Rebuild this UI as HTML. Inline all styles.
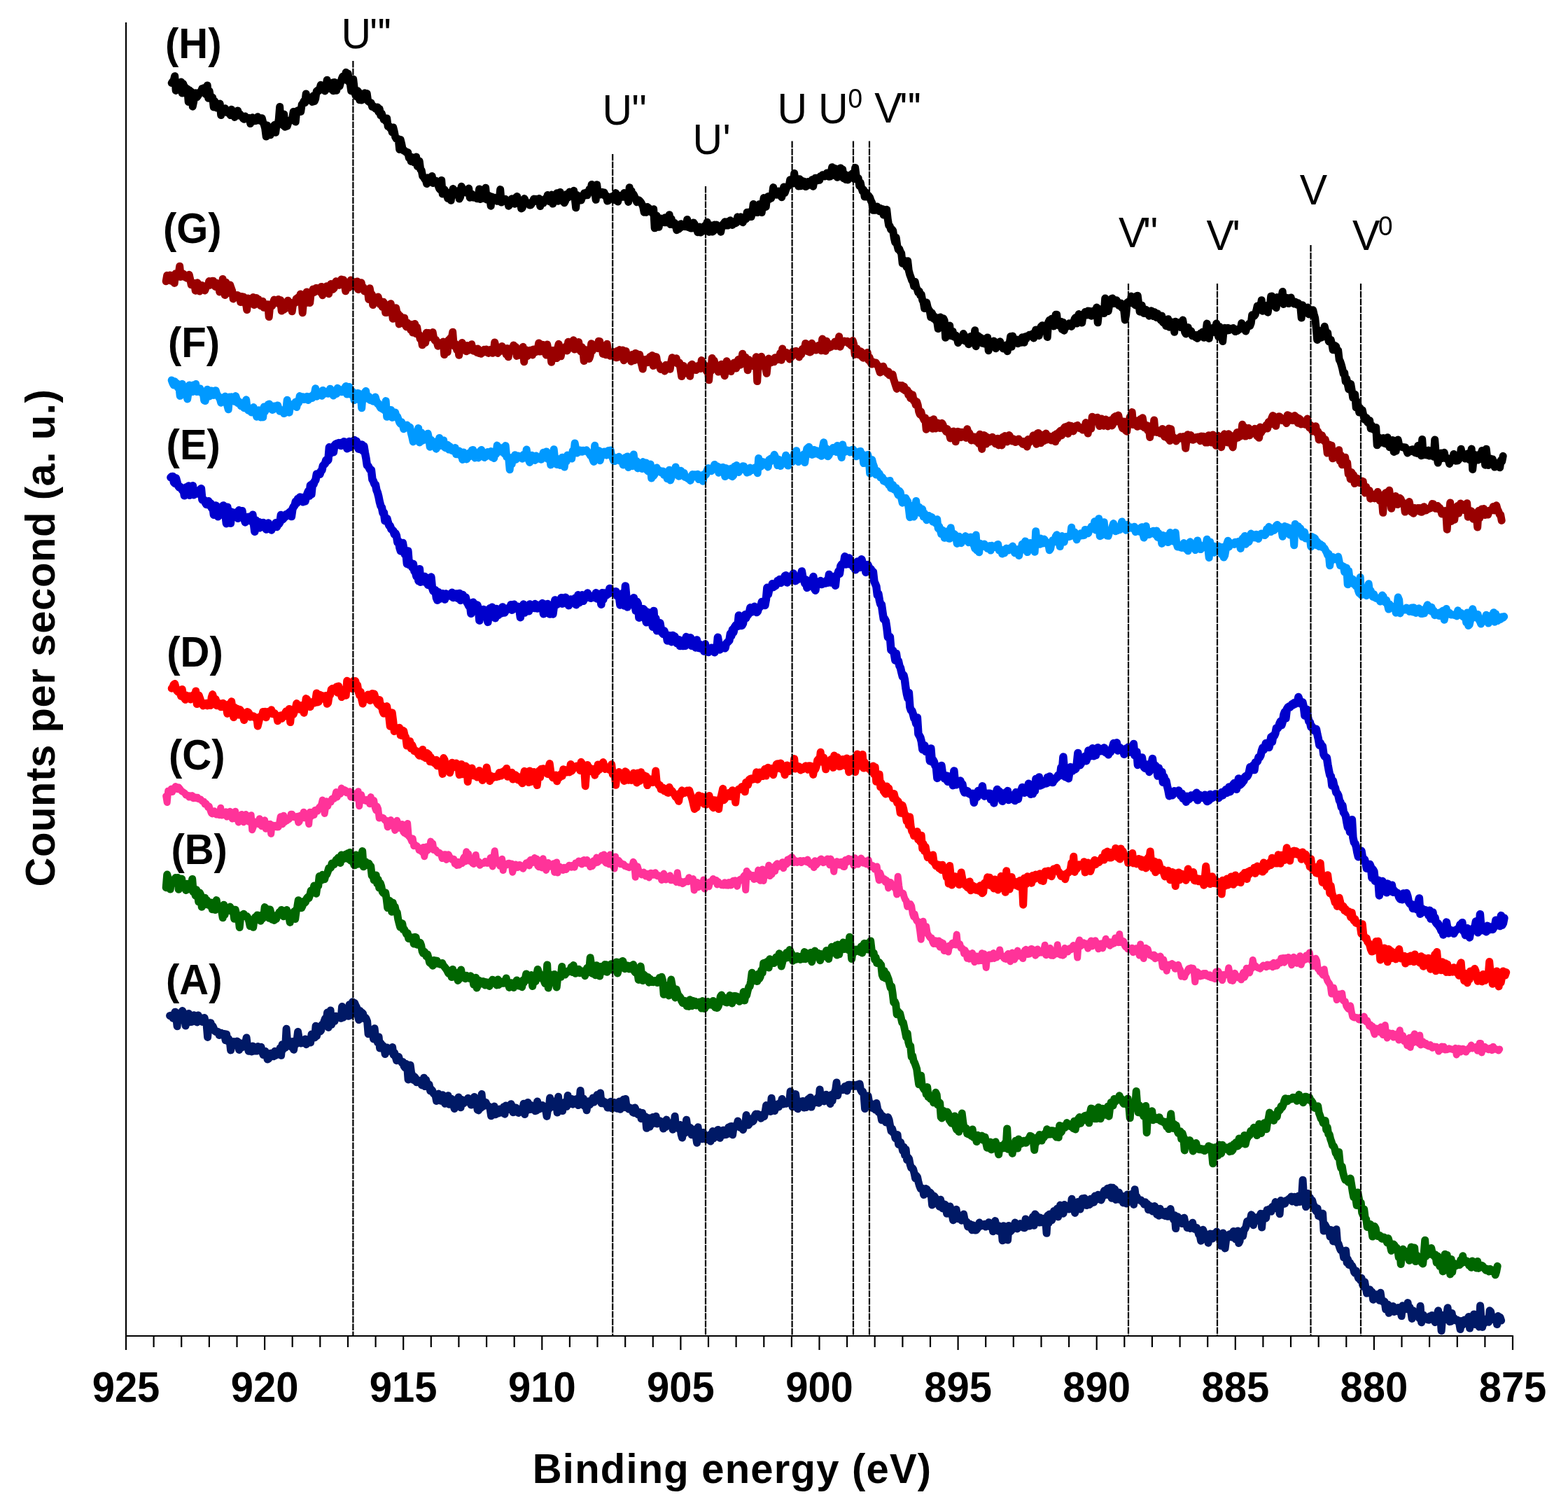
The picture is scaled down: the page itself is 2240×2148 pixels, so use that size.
<!DOCTYPE html>
<html><head><meta charset="utf-8"><style>
html,body{margin:0;padding:0;background:#fff;}
svg{display:block;}
text{font-family:"Liberation Sans",Arial,sans-serif;fill:#000;}
.b{font-weight:bold;}
.tk{font-size:58px;text-anchor:middle;}
.ttl{font-size:58px;}
.lb{font-size:58.0px;}
.r{font-size:59.0px;}
</style></head><body>
<svg width="2240" height="2148" viewBox="0 0 2240 2148">
<rect width="2240" height="2148" fill="#fff"/>
<path d="M245.2 118.5 246.7 116.3 248.2 114.6 249.7 108.7 251.2 129.4 252.7 120.2 254.2 123.1 255.7 126.6 257.2 122.1 258.7 117.0 260.2 133.1 261.7 119.6 263.2 123.9 264.7 124.8 266.2 126.4 267.7 127.1 269.2 145.6 270.7 129.1 272.2 133.0 273.7 131.3 275.2 152.2 276.7 145.1 278.2 133.3 279.7 132.8 281.2 138.9 282.7 136.9 284.2 134.6 285.7 131.4 287.2 130.7 288.7 126.5 290.2 132.6 291.7 125.4 293.2 130.6 294.7 135.2 296.2 121.9 297.7 140.2 299.2 130.3 300.7 139.1 302.2 140.9 303.7 139.3 305.2 153.0 306.7 144.4 308.2 147.6 309.7 154.1 311.2 152.2 312.7 151.5 314.2 148.0 315.7 164.5 317.2 157.6 318.7 158.6 320.2 159.5 321.7 154.8 323.2 160.2 324.7 160.7 326.2 161.5 327.7 158.0 329.2 164.6 330.7 156.3 332.2 162.6 333.7 159.0 335.2 167.4 336.7 164.9 338.2 164.6 339.7 158.0 341.2 165.0 342.7 163.0 344.2 164.7 345.7 166.1 347.2 169.1 348.7 170.3 350.2 165.9 351.7 168.9 353.2 168.0 354.7 170.4 356.2 168.4 357.7 176.6 359.2 172.8 360.7 167.8 362.2 171.5 363.7 172.8 365.2 172.6 366.7 168.5 368.2 166.8 369.7 170.2 371.2 172.3 372.7 171.1 374.2 168.7 375.7 174.7 377.2 177.9 378.7 183.4 380.2 195.1 381.7 179.0 383.2 184.8 384.7 183.7 386.2 192.8 387.7 181.9 389.2 186.1 390.7 180.9 392.2 178.4 393.7 189.3 395.2 177.6 396.7 177.5 398.2 170.9 399.7 152.5 401.2 176.3 402.7 175.0 404.2 178.9 405.7 163.3 407.2 181.3 408.7 178.7 410.2 180.3 411.7 175.5 413.2 172.4 414.7 171.6 416.2 171.6 417.7 168.4 419.2 159.4 420.7 168.5 422.2 174.1 423.7 159.6 425.2 158.1 426.7 157.4 428.2 156.9 429.7 159.5 431.2 149.2 432.7 147.6 434.2 144.4 435.7 146.7 437.2 133.9 438.7 142.8 440.2 142.9 441.7 142.8 443.2 143.5 444.7 139.1 446.2 145.5 447.7 136.8 449.2 144.7 450.7 140.9 452.2 130.5 453.7 129.2 455.2 129.9 456.7 127.0 458.2 121.3 459.7 124.3 461.2 122.2 462.7 124.6 464.2 130.0 465.7 123.4 467.2 114.2 468.7 125.1 470.2 126.5 471.7 126.7 473.2 120.1 474.7 118.1 476.2 129.8 477.7 117.4 479.2 118.2 480.7 129.3 482.2 121.7 483.7 122.6 485.2 123.1 486.7 117.4 488.2 112.5 489.7 109.0 491.2 113.7 492.7 110.8 494.2 103.3 495.7 115.0 497.2 105.1 498.7 117.4 500.2 118.9 501.7 130.0 503.2 119.0 504.7 113.0 506.2 126.2 507.7 135.3 509.2 137.8 510.7 129.6 512.2 131.2 513.7 142.8 515.2 138.2 516.7 143.1 518.2 139.7 519.7 136.9 521.2 132.8 522.7 138.7 524.2 133.5 525.7 144.5 527.2 145.5 528.7 146.5 530.2 146.9 531.7 152.5 533.2 151.5 534.7 152.8 536.2 155.2 537.7 156.0 539.2 153.0 540.7 159.8 542.2 155.5 543.7 164.7 545.2 161.8 546.7 166.3 548.2 170.6 549.7 170.7 551.2 173.2 552.7 169.0 554.2 180.6 555.7 179.7 557.2 183.1 558.7 181.8 560.2 188.9 561.7 181.9 563.2 187.9 564.7 195.6 566.2 198.1 567.7 198.9 569.2 198.5 570.7 213.5 572.2 199.5 573.7 205.6 575.2 213.4 576.7 215.2 578.2 215.3 579.7 217.1 581.2 218.1 582.7 217.6 584.2 225.3 585.7 225.2 587.2 230.4 588.7 224.5 590.2 229.0 591.7 232.0 593.2 232.1 594.7 224.1 596.2 237.5 597.7 233.5 599.2 230.1 600.7 242.0 602.2 243.5 603.7 251.5 605.2 252.9 606.7 255.7 608.2 256.8 609.7 262.6 611.2 253.8 612.7 259.1 614.2 255.6 615.7 256.0 617.2 251.5 618.7 261.6 620.2 260.0 621.7 260.0 623.2 258.5 624.7 259.7 626.2 265.8 627.7 269.6 629.2 271.2 630.7 257.4 632.2 277.0 633.7 272.8 635.2 270.8 636.7 277.1 638.2 278.6 639.7 283.4 641.2 276.1 642.7 277.2 644.2 286.2 645.7 274.6 647.2 269.5 648.7 276.6 650.2 278.0 651.7 274.9 653.2 274.6 654.7 272.4 656.2 284.1 657.7 281.0 659.2 266.2 660.7 269.8 662.2 273.6 663.7 274.5 665.2 274.9 666.7 272.9 668.2 271.6 669.7 269.0 671.2 282.2 672.7 279.0 674.2 277.3 675.7 282.1 677.2 282.2 678.7 278.9 680.2 282.3 681.7 283.8 683.2 279.9 684.7 269.9 686.2 284.6 687.7 281.1 689.2 280.5 690.7 280.1 692.2 283.7 693.7 268.3 695.2 285.0 696.7 280.7 698.2 279.2 699.7 283.4 701.2 294.2 702.7 281.0 704.2 284.1 705.7 282.0 707.2 284.2 708.7 284.0 710.2 287.3 711.7 282.2 713.2 285.2 714.7 270.6 716.2 289.0 717.7 285.0 719.2 286.5 720.7 285.4 722.2 284.4 723.7 285.8 725.2 288.5 726.7 294.3 728.2 290.1 729.7 287.5 731.2 283.8 732.7 289.9 734.2 290.7 735.7 291.2 737.2 281.7 738.7 280.5 740.2 286.4 741.7 291.0 743.2 288.1 744.7 297.9 746.2 296.9 747.7 291.2 749.2 283.6 750.7 287.5 752.2 290.0 753.7 290.6 755.2 289.8 756.7 293.0 758.2 293.0 759.7 290.7 761.2 287.4 762.7 284.1 764.2 287.3 765.7 284.3 767.2 287.6 768.7 285.4 770.2 283.5 771.7 294.5 773.2 287.6 774.7 289.7 776.2 289.9 777.7 285.1 779.2 283.6 780.7 285.7 782.2 278.5 783.7 281.7 785.2 287.7 786.7 287.6 788.2 278.1 789.7 291.1 791.2 282.1 792.7 284.4 794.2 280.1 795.7 275.7 797.2 287.3 798.7 284.3 800.2 274.5 801.7 284.9 803.2 284.1 804.7 287.8 806.2 289.8 807.7 286.9 809.2 277.5 810.7 278.2 812.2 281.8 813.7 274.1 815.2 279.8 816.7 277.8 818.2 277.7 819.7 272.2 821.2 283.1 822.7 296.8 824.2 278.5 825.7 285.2 827.2 285.9 828.7 284.1 830.2 286.1 831.7 281.3 833.2 278.6 834.7 275.7 836.2 278.9 837.7 274.8 839.2 278.8 840.7 274.3 842.2 269.8 843.7 272.0 845.2 263.5 846.7 264.6 848.2 271.5 849.7 273.2 851.2 285.3 852.7 263.7 854.2 275.1 855.7 275.4 857.2 278.1 858.7 275.0 860.2 274.4 861.7 276.6 863.2 275.0 864.7 280.2 866.2 279.4 867.7 287.1 869.2 286.6 870.7 284.3 872.2 284.1 873.7 280.8 875.2 280.6 876.7 279.9 878.2 285.7 879.7 275.6 881.2 279.1 882.7 288.1 884.2 281.6 885.7 281.6 887.2 279.1 888.7 280.8 890.2 281.3 891.7 275.5 893.2 278.8 894.7 279.9 896.2 281.1 897.7 288.4 899.2 267.7 900.7 279.4 902.2 272.9 903.7 282.2 905.2 277.6 906.7 281.0 908.2 284.6 909.7 288.7 911.2 286.5 912.7 285.8 914.2 287.2 915.7 289.1 917.2 292.0 918.7 295.4 920.2 303.2 921.7 298.8 923.2 303.2 924.7 295.5 926.2 296.5 927.7 298.9 929.2 299.6 930.7 302.6 932.2 304.6 933.7 298.7 935.2 325.8 936.7 311.7 938.2 307.9 939.7 313.7 941.2 324.3 942.7 314.0 944.2 312.0 945.7 316.5 947.2 315.4 948.7 317.7 950.2 310.7 951.7 317.7 953.2 310.9 954.7 316.5 956.2 306.7 957.7 320.4 959.2 312.6 960.7 320.7 962.2 319.5 963.7 318.3 965.2 321.6 966.7 328.7 968.2 321.3 969.7 327.1 971.2 325.6 972.7 319.7 974.2 324.0 975.7 323.0 977.2 320.3 978.7 323.7 980.2 322.7 981.7 313.4 983.2 324.6 984.7 319.6 986.2 325.8 987.7 326.1 989.2 320.1 990.7 317.9 992.2 320.0 993.7 326.9 995.2 324.0 996.7 331.8 998.2 326.3 999.7 324.0 1001.2 332.1 1002.7 327.8 1004.2 329.6 1005.7 329.6 1007.2 322.1 1008.7 328.4 1010.2 317.3 1011.7 326.4 1013.2 331.3 1014.7 321.8 1016.2 326.4 1017.7 331.1 1019.2 330.0 1020.7 320.9 1022.2 326.7 1023.7 321.1 1025.2 324.3 1026.7 325.3 1028.2 328.5 1029.7 331.2 1031.2 322.5 1032.7 320.5 1034.2 318.8 1035.7 316.7 1037.2 322.1 1038.7 316.7 1040.2 321.9 1041.7 320.8 1043.2 314.7 1044.7 320.4 1046.2 321.4 1047.7 316.6 1049.2 318.0 1050.7 318.9 1052.2 318.0 1053.7 309.8 1055.2 311.0 1056.7 315.2 1058.2 309.7 1059.7 314.4 1061.2 317.7 1062.7 314.4 1064.2 311.3 1065.7 312.8 1067.2 303.2 1068.7 308.7 1070.2 309.6 1071.7 302.4 1073.2 309.6 1074.7 303.9 1076.2 291.5 1077.7 303.6 1079.2 297.3 1080.7 299.5 1082.2 303.5 1083.7 296.4 1085.2 291.4 1086.7 293.4 1088.2 303.6 1089.7 290.9 1091.2 282.6 1092.7 294.2 1094.2 295.5 1095.7 283.2 1097.2 280.6 1098.7 284.7 1100.2 283.3 1101.7 283.2 1103.2 278.5 1104.7 267.6 1106.2 274.7 1107.7 277.1 1109.2 278.3 1110.7 277.6 1112.2 273.0 1113.7 276.2 1115.2 279.8 1116.7 281.8 1118.2 274.8 1119.7 267.0 1121.2 275.5 1122.7 271.1 1124.2 267.1 1125.7 265.8 1127.2 265.1 1128.7 256.7 1130.2 258.5 1131.7 255.8 1133.2 261.9 1134.7 247.5 1136.2 259.3 1137.7 257.4 1139.2 255.6 1140.7 266.0 1142.2 255.7 1143.7 265.8 1145.2 258.1 1146.7 259.5 1148.2 259.0 1149.7 265.8 1151.2 266.6 1152.7 262.3 1154.2 259.6 1155.7 264.0 1157.2 264.2 1158.7 259.8 1160.2 256.6 1161.7 266.2 1163.2 257.3 1164.7 254.3 1166.2 254.2 1167.7 257.8 1169.2 256.4 1170.7 257.3 1172.2 251.7 1173.7 251.8 1175.2 249.7 1176.7 250.7 1178.2 251.8 1179.7 250.8 1181.2 247.0 1182.7 249.3 1184.2 252.3 1185.7 252.1 1187.2 246.0 1188.7 238.7 1190.2 245.0 1191.7 250.4 1193.2 240.6 1194.7 241.8 1196.2 253.3 1197.7 248.2 1199.2 248.8 1200.7 240.0 1202.2 246.0 1203.7 241.9 1205.2 254.8 1206.7 248.8 1208.2 256.5 1209.7 253.1 1211.2 256.9 1212.7 250.5 1214.2 251.3 1215.7 252.2 1217.2 248.1 1218.7 247.2 1220.2 255.6 1221.7 239.6 1223.2 251.2 1224.7 255.9 1226.2 254.5 1227.7 265.5 1229.2 260.8 1230.7 268.3 1232.2 273.2 1233.7 270.8 1235.2 281.1 1236.7 274.5 1238.2 280.9 1239.7 278.7 1241.2 280.0 1242.7 282.2 1244.2 286.6 1245.7 289.5 1247.2 300.3 1248.7 294.2 1250.2 300.2 1251.7 299.8 1253.2 295.1 1254.7 299.0 1256.2 301.7 1257.7 297.4 1259.2 301.6 1260.7 298.5 1262.2 307.0 1263.7 304.3 1265.2 303.9 1266.7 299.2 1268.2 312.6 1269.7 321.8 1271.2 322.8 1272.7 327.8 1274.2 327.5 1275.7 329.4 1277.2 339.5 1278.7 346.0 1280.2 339.4 1281.7 350.2 1283.2 356.3 1284.7 355.4 1286.2 359.5 1287.7 361.8 1289.2 376.2 1290.7 371.1 1292.2 374.6 1293.7 378.0 1295.2 381.5 1296.7 372.7 1298.2 386.2 1299.7 392.0 1301.2 396.0 1302.7 400.4 1304.2 402.6 1305.7 408.9 1307.2 402.4 1308.7 409.5 1310.2 413.1 1311.7 417.7 1313.2 415.9 1314.7 421.9 1316.2 420.5 1317.7 428.6 1319.2 431.6 1320.7 440.5 1322.2 436.6 1323.7 432.0 1325.2 438.8 1326.7 442.2 1328.2 444.1 1329.7 453.1 1331.2 446.8 1332.7 450.1 1334.2 455.4 1335.7 452.5 1337.2 458.1 1338.7 459.7 1340.2 469.6 1341.7 458.7 1343.2 452.9 1344.7 455.0 1346.2 460.3 1347.7 454.7 1349.2 457.8 1350.7 482.3 1352.2 465.4 1353.7 465.7 1355.2 469.6 1356.7 464.9 1358.2 479.5 1359.7 473.6 1361.2 473.6 1362.7 481.1 1364.2 481.6 1365.7 479.0 1367.2 483.3 1368.7 489.7 1370.2 486.1 1371.7 484.7 1373.2 486.1 1374.7 483.9 1376.2 476.5 1377.7 479.4 1379.2 487.2 1380.7 484.3 1382.2 487.2 1383.7 491.7 1385.2 487.5 1386.7 480.4 1388.2 489.7 1389.7 486.4 1391.2 486.6 1392.7 471.8 1394.2 494.7 1395.7 485.5 1397.2 479.6 1398.7 483.6 1400.2 481.8 1401.7 483.2 1403.2 490.2 1404.7 483.9 1406.2 490.9 1407.7 485.1 1409.2 485.7 1410.7 481.9 1412.2 500.7 1413.7 491.8 1415.2 493.2 1416.7 491.1 1418.2 489.0 1419.7 487.0 1421.2 488.1 1422.7 497.7 1424.2 493.3 1425.7 489.5 1427.2 492.9 1428.7 487.7 1430.2 494.9 1431.7 492.7 1433.2 498.0 1434.7 493.7 1436.2 497.1 1437.7 492.8 1439.2 501.7 1440.7 492.3 1442.2 489.7 1443.7 480.5 1445.2 495.2 1446.7 480.0 1448.2 485.9 1449.7 488.5 1451.2 487.0 1452.7 484.9 1454.2 490.7 1455.7 489.2 1457.2 489.4 1458.7 489.3 1460.2 481.8 1461.7 483.8 1463.2 489.2 1464.7 480.7 1466.2 483.8 1467.7 479.8 1469.2 480.6 1470.7 478.2 1472.2 480.0 1473.7 480.0 1475.2 476.5 1476.7 482.9 1478.2 475.3 1479.7 470.9 1481.2 473.4 1482.7 470.7 1484.2 479.5 1485.7 472.1 1487.2 466.5 1488.7 464.8 1490.2 465.0 1491.7 466.8 1493.2 467.9 1494.7 470.0 1496.2 481.5 1497.7 460.1 1499.2 457.1 1500.7 465.7 1502.2 455.3 1503.7 457.4 1505.2 465.9 1506.7 459.7 1508.2 449.2 1509.7 449.3 1511.2 464.2 1512.7 461.6 1514.2 465.8 1515.7 459.4 1517.2 470.5 1518.7 460.4 1520.2 472.2 1521.7 466.6 1523.2 466.7 1524.7 466.2 1526.2 464.3 1527.7 461.9 1529.2 462.2 1530.7 466.4 1532.2 461.4 1533.7 459.6 1535.2 455.4 1536.7 453.4 1538.2 462.1 1539.7 453.7 1541.2 448.5 1542.7 453.1 1544.2 460.7 1545.7 461.1 1547.2 450.4 1548.7 448.9 1550.2 445.5 1551.7 448.2 1553.2 450.0 1554.7 444.1 1556.2 444.3 1557.7 448.6 1559.2 451.2 1560.7 447.2 1562.2 444.0 1563.7 450.3 1565.2 444.2 1566.7 439.1 1568.2 460.8 1569.7 447.0 1571.2 441.6 1572.7 443.4 1574.2 441.4 1575.7 441.1 1577.2 447.6 1578.7 426.1 1580.2 430.8 1581.7 440.1 1583.2 444.6 1584.7 436.0 1586.2 428.8 1587.7 426.8 1589.2 425.9 1590.7 433.6 1592.2 433.1 1593.7 432.1 1595.2 428.7 1596.7 434.0 1598.2 436.4 1599.7 435.8 1601.2 432.9 1602.7 439.6 1604.2 434.9 1605.7 443.1 1607.2 456.9 1608.7 449.4 1610.2 432.2 1611.7 431.1 1613.2 432.2 1614.7 432.8 1616.2 423.1 1617.7 431.0 1619.2 428.9 1620.7 434.8 1622.2 436.0 1623.7 422.7 1625.2 422.2 1626.7 433.8 1628.2 445.2 1629.7 442.2 1631.2 436.0 1632.7 445.4 1634.2 447.6 1635.7 447.4 1637.2 442.3 1638.7 445.1 1640.2 448.3 1641.7 451.2 1643.2 447.9 1644.7 443.8 1646.2 445.0 1647.7 451.6 1649.2 445.7 1650.7 450.4 1652.2 453.5 1653.7 447.9 1655.2 453.1 1656.7 454.4 1658.2 457.3 1659.7 451.0 1661.2 460.2 1662.7 461.4 1664.2 459.3 1665.7 465.6 1667.2 462.1 1668.7 455.7 1670.2 467.2 1671.7 460.9 1673.2 461.0 1674.7 460.2 1676.2 462.3 1677.7 474.3 1679.2 459.2 1680.7 464.8 1682.2 460.8 1683.7 460.7 1685.2 464.1 1686.7 467.5 1688.2 463.8 1689.7 457.1 1691.2 465.5 1692.7 474.6 1694.2 476.9 1695.7 468.9 1697.2 467.4 1698.7 475.4 1700.2 472.2 1701.7 472.8 1703.2 479.6 1704.7 479.0 1706.2 478.2 1707.7 481.7 1709.2 478.4 1710.7 483.3 1712.2 479.1 1713.7 479.6 1715.2 475.9 1716.7 476.9 1718.2 473.9 1719.7 482.3 1721.2 473.4 1722.7 473.4 1724.2 462.1 1725.7 475.4 1727.2 483.4 1728.7 475.4 1730.2 472.9 1731.7 474.0 1733.2 468.0 1734.7 470.5 1736.2 474.7 1737.7 462.0 1739.2 474.7 1740.7 481.0 1742.2 466.4 1743.7 471.9 1745.2 475.0 1746.7 487.5 1748.2 471.1 1749.7 468.2 1751.2 469.8 1752.7 472.1 1754.2 468.3 1755.7 471.8 1757.2 469.3 1758.7 469.4 1760.2 469.3 1761.7 468.4 1763.2 471.7 1764.7 473.6 1766.2 470.5 1767.7 472.4 1769.2 471.2 1770.7 470.0 1772.2 469.7 1773.7 461.6 1775.2 469.7 1776.7 468.0 1778.2 467.2 1779.7 473.1 1781.2 467.5 1782.7 464.7 1784.2 462.4 1785.7 465.4 1787.2 461.6 1788.7 449.8 1790.2 452.2 1791.7 451.3 1793.2 449.4 1794.7 443.6 1796.2 436.9 1797.7 442.6 1799.2 435.6 1800.7 439.4 1802.2 428.7 1803.7 444.2 1805.2 436.3 1806.7 440.8 1808.2 439.9 1809.7 436.2 1811.2 446.2 1812.7 436.3 1814.2 436.5 1815.7 423.2 1817.2 423.0 1818.7 436.1 1820.2 430.8 1821.7 437.5 1823.2 439.7 1824.7 424.6 1826.2 431.6 1827.7 426.7 1829.2 428.1 1830.7 424.0 1832.2 416.5 1833.7 434.5 1835.2 431.1 1836.7 430.2 1838.2 425.3 1839.7 425.8 1841.2 433.6 1842.7 431.8 1844.2 424.9 1845.7 431.4 1847.2 431.8 1848.7 434.0 1850.2 430.9 1851.7 433.2 1853.2 435.2 1854.7 432.8 1856.2 436.8 1857.7 437.0 1859.2 454.1 1860.7 435.7 1862.2 447.5 1863.7 441.9 1865.2 442.7 1866.7 443.2 1868.2 438.9 1869.7 448.9 1871.2 444.0 1872.7 446.8 1874.2 444.9 1875.7 442.8 1877.2 449.1 1878.7 454.2 1880.2 468.5 1881.7 485.4 1883.2 471.7 1884.7 483.1 1886.2 479.0 1887.7 482.1 1889.2 474.6 1890.7 480.9 1892.2 466.3 1893.7 472.6 1895.2 481.4 1896.7 475.4 1898.2 487.7 1899.7 485.1 1901.2 485.4 1902.7 491.4 1904.2 499.8 1905.7 494.1 1907.2 493.6 1908.7 494.7 1910.2 501.7 1911.7 500.5 1913.2 513.7 1914.7 516.3 1916.2 521.0 1917.7 526.6 1919.2 534.0 1920.7 532.5 1922.2 544.9 1923.7 541.0 1925.2 548.6 1926.7 556.0 1928.2 552.4 1929.7 548.3 1931.2 557.3 1932.7 568.1 1934.2 565.6 1935.7 563.2 1937.2 582.0 1938.7 573.4 1940.2 578.5 1941.7 589.1 1943.2 582.9 1944.7 587.0 1946.2 585.7 1947.7 592.4 1949.2 599.1 1950.7 596.1 1952.2 596.8 1953.7 603.3 1955.2 600.5 1956.7 600.4 1958.2 612.1 1959.7 607.4 1961.2 613.1 1962.7 610.0 1964.2 614.8 1965.7 610.5 1967.2 635.8 1968.7 623.9 1970.2 626.8 1971.7 632.4 1973.2 626.3 1974.7 631.1 1976.2 625.5 1977.7 633.3 1979.2 625.7 1980.7 634.2 1982.2 624.7 1983.7 629.9 1985.2 638.8 1986.7 637.3 1988.2 639.5 1989.7 628.6 1991.2 645.4 1992.7 637.3 1994.2 644.2 1995.7 632.5 1997.2 628.0 1998.7 635.3 2000.2 637.9 2001.7 637.9 2003.2 638.6 2004.7 639.0 2006.2 638.8 2007.7 638.9 2009.2 642.7 2010.7 647.0 2012.2 642.6 2013.7 645.3 2015.2 644.1 2016.7 641.9 2018.2 641.8 2019.7 643.0 2021.2 646.3 2022.7 646.9 2024.2 647.4 2025.7 636.6 2027.2 648.2 2028.7 647.6 2030.2 650.7 2031.7 627.5 2033.2 650.0 2034.7 649.2 2036.2 643.4 2037.7 649.9 2039.2 647.0 2040.7 643.1 2042.2 651.1 2043.7 648.5 2045.2 647.2 2046.7 647.7 2048.2 652.3 2049.7 628.0 2051.2 647.3 2052.7 653.1 2054.2 661.1 2055.7 653.9 2057.2 648.6 2058.7 647.1 2060.2 654.5 2061.7 651.1 2063.2 646.3 2064.7 653.0 2066.2 655.2 2067.7 654.3 2069.2 657.4 2070.7 662.5 2072.2 654.9 2073.7 655.2 2075.2 656.8 2076.7 648.4 2078.2 655.5 2079.7 658.3 2081.2 657.9 2082.7 657.9 2084.2 655.8 2085.7 653.9 2087.2 641.2 2088.7 648.8 2090.2 651.5 2091.7 648.5 2093.2 655.1 2094.7 652.7 2096.2 648.1 2097.7 654.6 2099.2 656.5 2100.7 650.9 2102.2 641.1 2103.7 670.5 2105.2 655.7 2106.7 649.4 2108.2 654.8 2109.7 653.4 2111.2 657.1 2112.7 649.4 2114.2 654.7 2115.7 647.9 2117.2 643.4 2118.7 656.4 2120.2 652.6 2121.7 664.2 2123.2 641.2 2124.7 654.0 2126.2 664.6 2127.7 658.3 2129.2 654.9 2130.7 656.4 2132.2 655.7 2133.7 659.0 2135.2 667.1 2136.7 661.1 2138.2 665.9 2139.7 662.6 2141.2 666.6 2142.7 667.7 2144.2 657.5 2145.7 659.0 2147.2 651.3" fill="none" stroke="#000000" stroke-width="11" stroke-linejoin="round" stroke-linecap="round"/>
<path d="M237.2 401.8 238.7 393.3 240.2 397.7 241.7 395.6 243.2 392.9 244.7 401.2 246.2 399.2 247.7 393.2 249.2 404.4 250.7 390.8 252.2 396.3 253.7 393.5 255.2 390.6 256.7 380.2 258.2 395.4 259.7 391.0 261.2 390.7 262.7 391.8 264.2 395.8 265.7 394.6 267.2 397.4 268.7 397.6 270.2 392.3 271.7 398.9 273.2 406.6 274.7 407.0 276.2 405.5 277.7 404.5 279.2 415.2 280.7 409.8 282.2 403.8 283.7 407.4 285.2 416.0 286.7 410.9 288.2 407.4 289.7 408.7 291.2 409.3 292.7 414.9 294.2 410.9 295.7 407.7 297.2 407.7 298.7 401.6 300.2 407.2 301.7 404.4 303.2 401.3 304.7 401.3 306.2 404.5 307.7 409.4 309.2 404.0 310.7 408.2 312.2 408.3 313.7 416.9 315.2 406.9 316.7 410.1 318.2 398.4 319.7 410.0 321.2 421.5 322.7 403.3 324.2 419.1 325.7 410.5 327.2 417.6 328.7 406.9 330.2 411.4 331.7 415.4 333.2 427.0 334.7 425.2 336.2 424.3 337.7 424.5 339.2 421.4 340.7 423.4 342.2 423.1 343.7 431.6 345.2 423.5 346.7 426.9 348.2 424.1 349.7 432.9 351.2 431.4 352.7 442.6 354.2 426.1 355.7 434.4 357.2 429.9 358.7 430.5 360.2 430.8 361.7 424.5 363.2 435.6 364.7 431.6 366.2 425.6 367.7 434.0 369.2 427.4 370.7 432.8 372.2 436.5 373.7 436.0 375.2 430.2 376.7 439.3 378.2 437.8 379.7 438.2 381.2 435.0 382.7 434.8 384.2 452.6 385.7 437.2 387.2 435.9 388.7 436.9 390.2 432.1 391.7 428.1 393.2 432.8 394.7 431.2 396.2 431.8 397.7 427.5 399.2 434.4 400.7 428.6 402.2 444.0 403.7 438.5 405.2 442.3 406.7 441.2 408.2 439.8 409.7 438.3 411.2 429.3 412.7 439.6 414.2 431.9 415.7 434.2 417.2 444.8 418.7 433.7 420.2 431.8 421.7 432.6 423.2 426.7 424.7 426.1 426.2 424.5 427.7 427.9 429.2 420.0 430.7 426.5 432.2 446.8 433.7 430.2 435.2 429.1 436.7 427.0 438.2 416.9 439.7 432.3 441.2 430.5 442.7 432.6 444.2 418.8 445.7 417.4 447.2 413.0 448.7 417.6 450.2 413.9 451.7 411.4 453.2 411.7 454.7 412.9 456.2 416.0 457.7 417.6 459.2 409.4 460.7 421.7 462.2 417.0 463.7 417.5 465.2 410.4 466.7 408.7 468.2 414.9 469.7 419.7 471.2 410.5 472.7 405.5 474.2 408.8 475.7 413.2 477.2 411.7 478.7 404.2 480.2 401.7 481.7 404.9 483.2 402.4 484.7 407.3 486.2 402.0 487.7 399.0 489.2 401.4 490.7 399.8 492.2 405.9 493.7 415.7 495.2 407.7 496.7 404.9 498.2 411.0 499.7 405.9 501.2 400.0 502.7 401.2 504.2 403.9 505.7 409.0 507.2 403.0 508.7 409.9 510.2 401.9 511.7 413.5 513.2 412.6 514.7 405.5 516.2 403.8 517.7 411.0 519.2 410.5 520.7 416.0 522.2 414.9 523.7 416.0 525.2 413.8 526.7 427.5 528.2 411.7 529.7 420.0 531.2 420.4 532.7 435.6 534.2 431.9 535.7 424.6 537.2 425.5 538.7 425.8 540.2 424.1 541.7 430.4 543.2 434.9 544.7 430.6 546.2 438.4 547.7 431.2 549.2 433.5 550.7 446.4 552.2 446.5 553.7 442.0 555.2 443.5 556.7 442.6 558.2 433.7 559.7 442.4 561.2 455.3 562.7 442.7 564.2 446.3 565.7 439.8 567.2 447.6 568.7 448.2 570.2 462.9 571.7 451.1 573.2 455.1 574.7 455.6 576.2 461.9 577.7 454.1 579.2 464.3 580.7 466.8 582.2 461.0 583.7 463.0 585.2 463.8 586.7 471.2 588.2 463.4 589.7 475.1 591.2 464.2 592.7 462.4 594.2 476.5 595.7 467.4 597.2 476.6 598.7 477.7 600.2 484.1 601.7 481.6 603.2 492.8 604.7 483.3 606.2 480.7 607.7 489.5 609.2 475.3 610.7 482.9 612.2 475.4 613.7 476.9 615.2 479.8 616.7 481.3 618.2 474.6 619.7 483.3 621.2 486.1 622.7 485.7 624.2 488.9 625.7 494.2 627.2 489.4 628.7 492.3 630.2 493.0 631.7 493.7 633.2 488.0 634.7 506.6 636.2 498.5 637.7 496.9 639.2 502.8 640.7 485.6 642.2 489.9 643.7 482.6 645.2 483.5 646.7 474.3 648.2 493.6 649.7 494.7 651.2 491.5 652.7 499.8 654.2 496.0 655.7 507.3 657.2 497.7 658.7 496.2 660.2 489.4 661.7 493.2 663.2 497.8 664.7 495.5 666.2 501.8 667.7 493.6 669.2 500.5 670.7 498.3 672.2 497.8 673.7 491.7 675.2 500.2 676.7 501.3 678.2 497.9 679.7 499.5 681.2 503.4 682.7 498.0 684.2 504.4 685.7 502.4 687.2 505.3 688.7 504.1 690.2 500.5 691.7 499.3 693.2 500.0 694.7 498.9 696.2 503.5 697.7 504.4 699.2 501.7 700.7 499.3 702.2 501.9 703.7 504.3 705.2 501.9 706.7 488.9 708.2 494.7 709.7 499.6 711.2 504.4 712.7 499.7 714.2 501.4 715.7 501.2 717.2 494.5 718.7 501.0 720.2 500.5 721.7 500.4 723.2 506.2 724.7 497.6 726.2 509.7 727.7 498.2 729.2 498.2 730.7 500.8 732.2 499.5 733.7 493.0 735.2 501.7 736.7 495.4 738.2 508.4 739.7 499.3 741.2 507.4 742.7 499.6 744.2 501.7 745.7 498.5 747.2 495.3 748.7 516.8 750.2 500.3 751.7 499.7 753.2 508.7 754.7 502.7 756.2 502.3 757.7 500.3 759.2 502.3 760.7 506.9 762.2 498.9 763.7 502.0 765.2 502.6 766.7 500.2 768.2 499.0 769.7 489.9 771.2 502.1 772.7 491.6 774.2 497.9 775.7 492.4 777.2 497.5 778.7 502.6 780.2 507.0 781.7 492.0 783.2 499.8 784.7 504.1 786.2 502.3 787.7 517.2 789.2 500.4 790.7 500.6 792.2 507.3 793.7 506.5 795.2 511.6 796.7 497.0 798.2 491.2 799.7 497.9 801.2 508.8 802.7 501.3 804.2 500.9 805.7 498.9 807.2 497.2 808.7 494.5 810.2 500.9 811.7 488.3 813.2 497.9 814.7 494.5 816.2 490.3 817.7 491.1 819.2 485.7 820.7 499.0 822.2 496.3 823.7 498.2 825.2 496.3 826.7 488.6 828.2 498.1 829.7 502.1 831.2 495.6 832.7 498.5 834.2 515.5 835.7 503.9 837.2 499.7 838.7 501.8 840.2 503.6 841.7 512.4 843.2 507.8 844.7 490.7 846.2 501.0 847.7 495.2 849.2 494.3 850.7 496.0 852.2 492.1 853.7 497.4 855.2 487.2 856.7 487.6 858.2 496.5 859.7 493.7 861.2 505.4 862.7 505.1 864.2 504.0 865.7 506.8 867.2 491.2 868.7 502.7 870.2 505.3 871.7 508.2 873.2 505.4 874.7 503.2 876.2 502.6 877.7 510.0 879.2 506.4 880.7 510.8 882.2 501.0 883.7 509.9 885.2 499.6 886.7 505.4 888.2 506.0 889.7 500.0 891.2 514.7 892.7 507.7 894.2 501.5 895.7 510.5 897.2 507.0 898.7 508.5 900.2 508.4 901.7 516.3 903.2 506.4 904.7 506.9 906.2 514.7 907.7 504.5 909.2 504.8 910.7 508.6 912.2 508.3 913.7 506.4 915.2 516.0 916.7 520.9 918.2 527.1 919.7 513.7 921.2 516.3 922.7 518.2 924.2 512.9 925.7 517.5 927.2 511.6 928.7 509.5 930.2 511.3 931.7 507.6 933.2 522.4 934.7 508.9 936.2 512.3 937.7 509.8 939.2 519.7 940.7 519.7 942.2 523.1 943.7 527.4 945.2 525.5 946.7 524.9 948.2 527.0 949.7 529.9 951.2 521.3 952.7 521.8 954.2 523.9 955.7 521.6 957.2 527.3 958.7 517.3 960.2 510.7 961.7 515.0 963.2 513.0 964.7 516.2 966.2 511.8 967.7 519.1 969.2 518.4 970.7 518.0 972.2 527.7 973.7 537.6 975.2 527.8 976.7 522.5 978.2 529.9 979.7 532.9 981.2 532.0 982.7 528.9 984.2 531.4 985.7 537.3 987.2 521.4 988.7 520.2 990.2 528.0 991.7 528.3 993.2 524.3 994.7 528.6 996.2 522.8 997.7 524.1 999.2 522.6 1000.7 526.5 1002.2 514.6 1003.7 524.0 1005.2 524.8 1006.7 521.6 1008.2 527.7 1009.7 530.5 1011.2 523.5 1012.7 542.8 1014.2 522.2 1015.7 529.8 1017.2 511.5 1018.7 522.5 1020.2 515.1 1021.7 521.1 1023.2 527.1 1024.7 525.7 1026.2 531.1 1027.7 526.4 1029.2 521.5 1030.7 520.2 1032.2 526.5 1033.7 531.8 1035.2 536.7 1036.7 525.7 1038.2 515.8 1039.7 519.1 1041.2 524.4 1042.7 524.7 1044.2 530.6 1045.7 524.5 1047.2 522.0 1048.7 518.0 1050.2 524.1 1051.7 526.1 1053.2 520.9 1054.7 513.5 1056.2 517.3 1057.7 521.2 1059.2 514.6 1060.7 505.2 1062.2 511.9 1063.7 515.7 1065.2 510.3 1066.7 515.0 1068.2 528.8 1069.7 513.6 1071.2 518.4 1072.7 520.4 1074.2 516.2 1075.7 522.7 1077.2 515.6 1078.7 520.0 1080.2 509.8 1081.7 544.6 1083.2 518.3 1084.7 515.2 1086.2 513.3 1087.7 509.2 1089.2 516.2 1090.7 522.8 1092.2 516.3 1093.7 526.2 1095.2 533.3 1096.7 518.5 1098.2 512.1 1099.7 515.3 1101.2 517.9 1102.7 514.7 1104.2 516.7 1105.7 516.8 1107.2 510.7 1108.7 511.8 1110.2 513.8 1111.7 511.3 1113.2 510.2 1114.7 504.2 1116.2 514.3 1117.7 497.9 1119.2 509.8 1120.7 504.8 1122.2 508.8 1123.7 503.6 1125.2 508.0 1126.7 505.1 1128.2 512.9 1129.7 505.5 1131.2 509.0 1132.7 502.2 1134.2 505.5 1135.7 505.6 1137.2 501.2 1138.7 507.1 1140.2 504.6 1141.7 510.0 1143.2 502.8 1144.7 506.2 1146.2 498.5 1147.7 497.8 1149.2 498.5 1150.7 490.4 1152.2 496.3 1153.7 501.8 1155.2 497.4 1156.7 503.1 1158.2 502.4 1159.7 490.3 1161.2 493.7 1162.7 498.7 1164.2 496.3 1165.7 500.1 1167.2 497.0 1168.7 493.6 1170.2 494.5 1171.7 496.4 1173.2 500.8 1174.7 484.1 1176.2 495.1 1177.7 495.4 1179.2 501.3 1180.7 487.2 1182.2 494.3 1183.7 496.9 1185.2 491.5 1186.7 495.6 1188.2 491.4 1189.7 493.7 1191.2 493.8 1192.7 488.1 1194.2 494.2 1195.7 494.0 1197.2 490.8 1198.7 480.6 1200.2 495.3 1201.7 490.9 1203.2 490.0 1204.7 488.0 1206.2 487.1 1207.7 488.3 1209.2 488.3 1210.7 487.3 1212.2 490.4 1213.7 490.2 1215.2 492.8 1216.7 494.0 1218.2 486.5 1219.7 491.7 1221.2 506.4 1222.7 501.3 1224.2 497.8 1225.7 503.8 1227.2 506.8 1228.7 501.5 1230.2 502.2 1231.7 509.8 1233.2 511.2 1234.7 509.6 1236.2 507.3 1237.7 508.1 1239.2 503.5 1240.7 514.4 1242.2 510.4 1243.7 517.3 1245.2 520.1 1246.7 516.5 1248.2 518.3 1249.7 519.7 1251.2 517.9 1252.7 520.2 1254.2 522.2 1255.7 527.1 1257.2 531.9 1258.7 531.1 1260.2 530.2 1261.7 523.2 1263.2 528.2 1264.7 528.7 1266.2 530.9 1267.7 533.4 1269.2 530.8 1270.7 536.0 1272.2 534.5 1273.7 535.0 1275.2 534.8 1276.7 541.8 1278.2 546.3 1279.7 551.2 1281.2 555.4 1282.7 551.0 1284.2 550.4 1285.7 552.5 1287.2 551.5 1288.7 550.4 1290.2 556.0 1291.7 552.2 1293.2 558.0 1294.7 558.6 1296.2 557.3 1297.7 564.0 1299.2 561.1 1300.7 568.8 1302.2 568.5 1303.7 563.8 1305.2 572.1 1306.7 572.0 1308.2 578.3 1309.7 573.8 1311.2 578.4 1312.7 587.8 1314.2 591.9 1315.7 588.0 1317.2 593.8 1318.7 596.6 1320.2 599.9 1321.7 596.8 1323.2 613.3 1324.7 611.7 1326.2 605.6 1327.7 602.1 1329.2 600.6 1330.7 602.0 1332.2 612.3 1333.7 598.8 1335.2 606.7 1336.7 611.9 1338.2 605.5 1339.7 604.0 1341.2 606.7 1342.7 611.5 1344.2 610.9 1345.7 604.3 1347.2 606.9 1348.7 612.8 1350.2 613.6 1351.7 616.5 1353.2 612.6 1354.7 616.3 1356.2 620.2 1357.7 626.0 1359.2 620.0 1360.7 623.1 1362.2 615.9 1363.7 619.7 1365.2 630.8 1366.7 621.4 1368.2 616.2 1369.7 619.5 1371.2 617.1 1372.7 624.7 1374.2 617.2 1375.7 621.3 1377.2 621.8 1378.7 621.8 1380.2 625.4 1381.7 612.8 1383.2 617.8 1384.7 618.3 1386.2 621.7 1387.7 629.0 1389.2 625.7 1390.7 624.0 1392.2 624.0 1393.7 629.7 1395.2 628.4 1396.7 629.6 1398.2 633.5 1399.7 620.2 1401.2 631.7 1402.7 641.4 1404.2 628.3 1405.7 621.5 1407.2 622.3 1408.7 634.1 1410.2 624.5 1411.7 631.1 1413.2 631.2 1414.7 628.2 1416.2 626.4 1417.7 624.3 1419.2 627.6 1420.7 630.8 1422.2 633.8 1423.7 630.4 1425.2 626.2 1426.7 635.9 1428.2 633.1 1429.7 633.2 1431.2 636.0 1432.7 624.2 1434.2 629.1 1435.7 622.5 1437.2 629.2 1438.7 631.0 1440.2 627.5 1441.7 621.5 1443.2 624.2 1444.7 629.3 1446.2 630.0 1447.7 626.7 1449.2 630.3 1450.7 631.6 1452.2 629.1 1453.7 630.5 1455.2 626.9 1456.7 629.3 1458.2 629.6 1459.7 632.5 1461.2 634.4 1462.7 630.6 1464.2 634.2 1465.7 630.6 1467.2 638.0 1468.7 627.6 1470.2 632.2 1471.7 627.4 1473.2 626.9 1474.7 625.8 1476.2 621.8 1477.7 624.3 1479.2 629.2 1480.7 634.3 1482.2 618.8 1483.7 618.4 1485.2 624.0 1486.7 632.8 1488.2 625.8 1489.7 621.2 1491.2 629.8 1492.7 625.6 1494.2 619.1 1495.7 628.1 1497.2 623.9 1498.7 622.8 1500.2 624.1 1501.7 629.0 1503.2 623.9 1504.7 623.3 1506.2 621.6 1507.7 630.8 1509.2 619.7 1510.7 626.3 1512.2 617.9 1513.7 616.5 1515.2 614.9 1516.7 621.9 1518.2 617.3 1519.7 612.0 1521.2 609.9 1522.7 615.5 1524.2 608.9 1525.7 619.4 1527.2 607.6 1528.7 613.4 1530.2 608.2 1531.7 611.6 1533.2 615.9 1534.7 612.8 1536.2 609.3 1537.7 608.1 1539.2 607.5 1540.7 610.2 1542.2 611.6 1543.7 611.1 1545.2 610.7 1546.7 614.1 1548.2 611.0 1549.7 610.1 1551.2 603.6 1552.7 607.4 1554.2 619.1 1555.7 608.4 1557.2 604.4 1558.7 612.3 1560.2 595.3 1561.7 599.7 1563.2 599.7 1564.7 597.1 1566.2 602.4 1567.7 596.2 1569.2 598.2 1570.7 608.5 1572.2 599.4 1573.7 598.1 1575.2 603.1 1576.7 608.3 1578.2 603.8 1579.7 599.1 1581.2 605.4 1582.7 609.0 1584.2 600.9 1585.7 602.4 1587.2 599.9 1588.7 607.9 1590.2 605.2 1591.7 595.8 1593.2 594.8 1594.7 596.5 1596.2 601.7 1597.7 593.1 1599.2 600.3 1600.7 602.5 1602.2 607.8 1603.7 611.8 1605.2 601.9 1606.7 606.7 1608.2 614.9 1609.7 616.2 1611.2 605.1 1612.7 601.7 1614.2 595.4 1615.7 601.9 1617.2 588.6 1618.7 606.5 1620.2 600.7 1621.7 604.8 1623.2 600.8 1624.7 609.3 1626.2 605.9 1627.7 605.5 1629.2 598.6 1630.7 608.5 1632.2 596.8 1633.7 605.2 1635.2 611.1 1636.7 607.9 1638.2 607.4 1639.7 614.8 1641.2 608.7 1642.7 624.5 1644.2 610.4 1645.7 609.4 1647.2 617.3 1648.7 599.9 1650.2 617.0 1651.7 613.3 1653.2 617.6 1654.7 615.4 1656.2 615.5 1657.7 619.1 1659.2 617.4 1660.7 612.4 1662.2 620.9 1663.7 623.7 1665.2 620.3 1666.7 617.9 1668.2 626.0 1669.7 612.0 1671.2 629.6 1672.7 612.8 1674.2 623.9 1675.7 626.7 1677.2 625.1 1678.7 627.7 1680.2 630.0 1681.7 626.6 1683.2 625.8 1684.7 626.4 1686.2 623.8 1687.7 624.6 1689.2 624.7 1690.7 623.4 1692.2 626.1 1693.7 640.3 1695.2 627.3 1696.7 620.7 1698.2 624.4 1699.7 626.8 1701.2 621.6 1702.7 627.9 1704.2 628.3 1705.7 627.6 1707.2 627.1 1708.7 624.5 1710.2 625.7 1711.7 624.0 1713.2 625.6 1714.7 629.7 1716.2 623.0 1717.7 625.7 1719.2 623.2 1720.7 624.1 1722.2 632.1 1723.7 623.9 1725.2 632.0 1726.7 621.7 1728.2 630.1 1729.7 626.6 1731.2 632.1 1732.7 620.9 1734.2 629.6 1735.7 629.5 1737.2 636.3 1738.7 627.5 1740.2 622.2 1741.7 627.7 1743.2 624.5 1744.7 638.7 1746.2 629.8 1747.7 626.6 1749.2 619.8 1750.7 624.4 1752.2 625.8 1753.7 632.1 1755.2 619.7 1756.7 621.6 1758.2 625.7 1759.7 635.4 1761.2 638.9 1762.7 622.5 1764.2 627.2 1765.7 621.1 1767.2 617.6 1768.7 625.1 1770.2 622.5 1771.7 623.1 1773.2 620.3 1774.7 606.3 1776.2 617.2 1777.7 610.2 1779.2 623.1 1780.7 612.9 1782.2 614.7 1783.7 611.3 1785.2 621.9 1786.7 619.1 1788.2 614.6 1789.7 614.4 1791.2 613.7 1792.7 612.3 1794.2 615.5 1795.7 622.5 1797.2 623.8 1798.7 625.3 1800.2 609.9 1801.7 617.9 1803.2 613.1 1804.7 613.5 1806.2 610.0 1807.7 611.8 1809.2 606.9 1810.7 611.9 1812.2 602.6 1813.7 603.4 1815.2 605.8 1816.7 597.1 1818.2 593.5 1819.7 594.4 1821.2 601.0 1822.7 608.3 1824.2 599.3 1825.7 599.7 1827.2 594.7 1828.7 595.3 1830.2 597.7 1831.7 600.6 1833.2 598.2 1834.7 598.3 1836.2 600.2 1837.7 604.5 1839.2 592.8 1840.7 593.3 1842.2 593.9 1843.7 600.2 1845.2 595.4 1846.7 600.5 1848.2 596.5 1849.7 593.6 1851.2 599.9 1852.7 596.2 1854.2 604.3 1855.7 597.7 1857.2 598.6 1858.7 605.9 1860.2 605.6 1861.7 603.6 1863.2 603.2 1864.7 606.3 1866.2 603.4 1867.7 598.1 1869.2 607.6 1870.7 610.9 1872.2 607.2 1873.7 613.2 1875.2 616.0 1876.7 610.9 1878.2 611.1 1879.7 608.7 1881.2 618.5 1882.7 615.9 1884.2 628.0 1885.7 620.2 1887.2 622.6 1888.7 622.2 1890.2 625.8 1891.7 630.0 1893.2 627.7 1894.7 633.2 1896.2 647.1 1897.7 635.5 1899.2 635.1 1900.7 647.2 1902.2 636.1 1903.7 654.7 1905.2 654.2 1906.7 646.2 1908.2 648.8 1909.7 645.9 1911.2 652.3 1912.7 642.7 1914.2 658.4 1915.7 650.3 1917.2 663.7 1918.7 656.1 1920.2 659.9 1921.7 653.2 1923.2 664.9 1924.7 661.0 1926.2 677.0 1927.7 675.5 1929.2 684.3 1930.7 674.5 1932.2 677.5 1933.7 678.3 1935.2 690.6 1936.7 682.2 1938.2 686.7 1939.7 683.4 1941.2 688.5 1942.7 689.8 1944.2 688.1 1945.7 687.1 1947.2 687.5 1948.7 697.2 1950.2 704.0 1951.7 695.5 1953.2 701.5 1954.7 704.7 1956.2 700.5 1957.7 712.2 1959.2 705.2 1960.7 710.7 1962.2 710.1 1963.7 711.9 1965.2 710.8 1966.7 706.0 1968.2 702.4 1969.7 711.4 1971.2 715.3 1972.7 708.8 1974.2 713.9 1975.7 732.3 1977.2 707.3 1978.7 705.0 1980.2 703.5 1981.7 707.7 1983.2 714.2 1984.7 700.3 1986.2 711.3 1987.7 726.2 1989.2 718.1 1990.7 718.6 1992.2 715.3 1993.7 708.6 1995.2 720.1 1996.7 720.6 1998.2 711.6 1999.7 711.2 2001.2 712.8 2002.7 717.9 2004.2 718.9 2005.7 718.6 2007.2 731.1 2008.7 723.7 2010.2 722.2 2011.7 719.1 2013.2 716.5 2014.7 724.1 2016.2 731.0 2017.7 728.0 2019.2 733.3 2020.7 725.4 2022.2 727.0 2023.7 727.9 2025.2 725.5 2026.7 729.9 2028.2 725.4 2029.7 731.0 2031.2 731.3 2032.7 730.1 2034.2 723.7 2035.7 729.0 2037.2 729.0 2038.7 727.0 2040.2 727.1 2041.7 726.1 2043.2 726.0 2044.7 723.5 2046.2 719.5 2047.7 719.9 2049.2 723.9 2050.7 726.3 2052.2 723.3 2053.7 722.4 2055.2 727.2 2056.7 725.3 2058.2 728.0 2059.7 734.0 2061.2 730.6 2062.7 729.9 2064.2 729.6 2065.7 732.0 2067.2 756.2 2068.7 731.2 2070.2 734.1 2071.7 717.9 2073.2 744.5 2074.7 730.6 2076.2 734.5 2077.7 742.3 2079.2 730.8 2080.7 734.1 2082.2 722.5 2083.7 733.1 2085.2 723.8 2086.7 718.9 2088.2 725.9 2089.7 727.2 2091.2 728.4 2092.7 723.8 2094.2 728.4 2095.7 718.7 2097.2 738.3 2098.7 735.5 2100.2 729.7 2101.7 729.8 2103.2 731.9 2104.7 741.3 2106.2 735.1 2107.7 737.4 2109.2 736.4 2110.7 752.9 2112.2 729.6 2113.7 739.9 2115.2 732.6 2116.7 726.9 2118.2 731.2 2119.7 726.6 2121.2 735.6 2122.7 733.9 2124.2 732.0 2125.7 735.1 2127.2 729.2 2128.7 729.7 2130.2 729.1 2131.7 727.5 2133.2 723.4 2134.7 729.0 2136.2 724.4 2137.7 721.7 2139.2 727.2 2140.7 730.2 2142.2 734.8 2143.7 735.2 2145.2 743.4" fill="none" stroke="#990000" stroke-width="11" stroke-linejoin="round" stroke-linecap="round"/>
<path d="M245.2 543.0 246.7 547.1 248.2 550.0 249.7 544.8 251.2 548.6 252.7 547.4 254.2 553.7 255.7 550.1 257.2 565.4 258.7 549.7 260.2 548.2 261.7 553.1 263.2 557.7 264.7 555.4 266.2 561.4 267.7 569.9 269.2 560.6 270.7 549.9 272.2 554.0 273.7 555.2 275.2 559.5 276.7 549.8 278.2 555.7 279.7 548.5 281.2 559.5 282.7 558.8 284.2 554.6 285.7 554.9 287.2 560.5 288.7 560.7 290.2 561.3 291.7 571.9 293.2 572.6 294.7 560.7 296.2 556.3 297.7 561.1 299.2 566.0 300.7 560.2 302.2 557.9 303.7 563.0 305.2 564.4 306.7 560.1 308.2 557.7 309.7 562.6 311.2 565.0 312.7 567.4 314.2 569.6 315.7 575.2 317.2 568.0 318.7 569.9 320.2 569.7 321.7 566.0 323.2 568.0 324.7 578.9 326.2 584.7 327.7 567.1 329.2 571.4 330.7 566.8 332.2 571.9 333.7 568.6 335.2 573.4 336.7 565.6 338.2 570.1 339.7 575.7 341.2 573.3 342.7 575.6 344.2 579.8 345.7 577.2 347.2 577.7 348.7 582.7 350.2 574.4 351.7 570.8 353.2 583.6 354.7 586.1 356.2 583.0 357.7 583.6 359.2 588.9 360.7 585.2 362.2 581.5 363.7 587.1 365.2 589.2 366.7 595.2 368.2 593.0 369.7 585.8 371.2 594.0 372.7 596.1 374.2 585.2 375.7 595.9 377.2 581.0 378.7 587.6 380.2 582.8 381.7 582.2 383.2 577.5 384.7 577.1 386.2 578.9 387.7 584.4 389.2 585.4 390.7 584.6 392.2 580.1 393.7 580.0 395.2 581.3 396.7 578.9 398.2 583.8 399.7 587.2 401.2 587.3 402.7 586.9 404.2 585.5 405.7 590.6 407.2 589.7 408.7 585.8 410.2 571.2 411.7 582.6 413.2 589.2 414.7 580.4 416.2 579.0 417.7 578.5 419.2 577.1 420.7 578.8 422.2 574.1 423.7 581.5 425.2 574.8 426.7 575.2 428.2 565.6 429.7 570.5 431.2 566.7 432.7 566.7 434.2 570.5 435.7 570.0 437.2 569.2 438.7 566.2 440.2 571.5 441.7 569.9 443.2 567.6 444.7 565.7 446.2 568.4 447.7 563.5 449.2 562.5 450.7 554.8 452.2 566.2 453.7 559.6 455.2 561.8 456.7 562.7 458.2 562.4 459.7 565.3 461.2 557.4 462.7 562.8 464.2 562.1 465.7 559.6 467.2 561.2 468.7 562.3 470.2 558.4 471.7 555.2 473.2 558.5 474.7 561.0 476.2 565.0 477.7 557.9 479.2 562.1 480.7 562.5 482.2 554.3 483.7 560.1 485.2 556.3 486.7 556.9 488.2 559.8 489.7 557.3 491.2 558.8 492.7 553.9 494.2 551.5 495.7 563.1 497.2 560.0 498.7 552.4 500.2 563.1 501.7 563.4 503.2 559.0 504.7 563.8 506.2 571.6 507.7 564.9 509.2 570.3 510.7 561.5 512.2 561.7 513.7 566.9 515.2 563.5 516.7 582.7 518.2 564.0 519.7 567.3 521.2 560.5 522.7 558.4 524.2 569.1 525.7 568.2 527.2 566.4 528.7 571.5 530.2 570.8 531.7 569.8 533.2 573.3 534.7 572.8 536.2 567.0 537.7 572.2 539.2 576.4 540.7 576.2 542.2 580.0 543.7 582.6 545.2 580.9 546.7 584.3 548.2 582.4 549.7 586.4 551.2 572.6 552.7 595.3 554.2 586.8 555.7 586.3 557.2 587.7 558.7 585.4 560.2 596.4 561.7 591.2 563.2 592.4 564.7 589.0 566.2 595.3 567.7 595.1 569.2 598.9 570.7 603.2 572.2 605.3 573.7 602.8 575.2 606.5 576.7 612.7 578.2 609.5 579.7 607.7 581.2 607.0 582.7 608.3 584.2 611.8 585.7 610.2 587.2 618.0 588.7 623.8 590.2 630.9 591.7 618.6 593.2 617.2 594.7 620.9 596.2 618.4 597.7 611.5 599.2 631.9 600.7 618.7 602.2 618.0 603.7 629.2 605.2 627.5 606.7 628.2 608.2 627.9 609.7 625.8 611.2 619.2 612.7 626.1 614.2 638.2 615.7 628.1 617.2 634.4 618.7 636.7 620.2 635.0 621.7 631.1 623.2 641.2 624.7 636.9 626.2 635.7 627.7 625.5 629.2 636.5 630.7 633.3 632.2 634.0 633.7 628.9 635.2 638.8 636.7 639.7 638.2 636.5 639.7 635.4 641.2 642.0 642.7 637.8 644.2 640.6 645.7 643.5 647.2 641.5 648.7 644.8 650.2 639.6 651.7 648.8 653.2 646.7 654.7 648.2 656.2 644.1 657.7 650.5 659.2 649.7 660.7 656.4 662.2 645.9 663.7 649.9 665.2 648.6 666.7 655.9 668.2 652.1 669.7 647.3 671.2 651.8 672.7 648.0 674.2 642.9 675.7 642.4 677.2 647.2 678.7 654.0 680.2 649.6 681.7 652.0 683.2 653.9 684.7 647.7 686.2 644.1 687.7 642.5 689.2 647.4 690.7 648.0 692.2 653.6 693.7 647.2 695.2 651.5 696.7 645.5 698.2 646.0 699.7 648.0 701.2 644.5 702.7 652.9 704.2 652.3 705.7 654.5 707.2 644.7 708.7 648.6 710.2 636.1 711.7 639.2 713.2 643.8 714.7 645.1 716.2 644.8 717.7 639.6 719.2 644.9 720.7 648.2 722.2 636.6 723.7 652.5 725.2 653.2 726.7 654.4 728.2 670.7 729.7 653.8 731.2 662.8 732.7 653.9 734.2 652.6 735.7 649.7 737.2 656.3 738.7 651.4 740.2 651.0 741.7 651.9 743.2 652.8 744.7 651.4 746.2 655.2 747.7 649.4 749.2 649.7 750.7 653.4 752.2 642.0 753.7 651.8 755.2 656.9 756.7 660.5 758.2 654.9 759.7 650.3 761.2 652.3 762.7 652.7 764.2 657.4 765.7 650.9 767.2 655.6 768.7 652.8 770.2 654.8 771.7 653.6 773.2 656.3 774.7 651.3 776.2 646.3 777.7 647.4 779.2 647.2 780.7 644.9 782.2 655.4 783.7 648.1 785.2 651.0 786.7 663.9 788.2 655.7 789.7 658.6 791.2 641.7 792.7 656.0 794.2 654.1 795.7 663.6 797.2 660.5 798.7 657.4 800.2 664.4 801.7 660.2 803.2 653.2 804.7 659.7 806.2 667.0 807.7 654.7 809.2 659.0 810.7 650.1 812.2 654.1 813.7 654.6 815.2 649.4 816.7 655.1 818.2 643.8 819.7 646.9 821.2 632.9 822.7 641.0 824.2 647.1 825.7 644.3 827.2 645.6 828.7 642.9 830.2 644.5 831.7 645.2 833.2 643.2 834.7 644.2 836.2 643.7 837.7 642.9 839.2 644.9 840.7 646.4 842.2 648.3 843.7 650.8 845.2 651.5 846.7 655.8 848.2 659.4 849.7 636.3 851.2 651.0 852.7 652.6 854.2 648.6 855.7 643.8 857.2 657.7 858.7 651.9 860.2 648.7 861.7 649.3 863.2 645.0 864.7 649.4 866.2 650.0 867.7 647.6 869.2 643.4 870.7 646.9 872.2 642.9 873.7 651.2 875.2 654.0 876.7 658.1 878.2 658.6 879.7 653.7 881.2 656.0 882.7 657.0 884.2 652.3 885.7 658.2 887.2 657.4 888.7 658.7 890.2 663.9 891.7 656.9 893.2 653.4 894.7 659.1 896.2 651.9 897.7 667.5 899.2 662.6 900.7 655.5 902.2 658.5 903.7 665.7 905.2 649.0 906.7 663.0 908.2 661.2 909.7 658.5 911.2 668.9 912.7 666.1 914.2 664.3 915.7 661.9 917.2 669.5 918.7 659.6 920.2 663.9 921.7 663.6 923.2 661.0 924.7 672.0 926.2 673.2 927.7 668.0 929.2 663.0 930.7 683.0 932.2 675.4 933.7 679.7 935.2 677.5 936.7 673.7 938.2 667.9 939.7 672.0 941.2 671.7 942.7 672.2 944.2 674.6 945.7 675.4 947.2 672.9 948.7 678.5 950.2 674.4 951.7 678.6 953.2 683.6 954.7 681.8 956.2 671.2 957.7 685.9 959.2 681.8 960.7 677.4 962.2 675.9 963.7 677.3 965.2 667.0 966.7 673.4 968.2 673.5 969.7 680.2 971.2 673.4 972.7 672.2 974.2 678.9 975.7 678.2 977.2 675.4 978.7 681.5 980.2 681.6 981.7 682.6 983.2 683.9 984.7 683.9 986.2 686.4 987.7 680.0 989.2 677.6 990.7 680.8 992.2 677.8 993.7 678.0 995.2 681.6 996.7 677.3 998.2 684.6 999.7 680.4 1001.2 681.4 1002.7 678.7 1004.2 687.3 1005.7 677.4 1007.2 679.0 1008.7 677.7 1010.2 671.8 1011.7 668.6 1013.2 671.2 1014.7 670.1 1016.2 672.7 1017.7 668.3 1019.2 669.0 1020.7 663.4 1022.2 666.8 1023.7 665.5 1025.2 666.1 1026.7 675.2 1028.2 671.1 1029.7 668.1 1031.2 668.2 1032.7 667.5 1034.2 669.9 1035.7 680.5 1037.2 668.6 1038.7 675.8 1040.2 673.0 1041.7 678.6 1043.2 674.4 1044.7 669.1 1046.2 680.7 1047.7 679.2 1049.2 666.3 1050.7 669.5 1052.2 664.5 1053.7 669.4 1055.2 674.4 1056.7 671.1 1058.2 670.1 1059.7 668.8 1061.2 665.8 1062.7 666.0 1064.2 671.4 1065.7 670.4 1067.2 675.0 1068.7 674.2 1070.2 674.0 1071.7 668.1 1073.2 671.9 1074.7 671.3 1076.2 670.5 1077.7 668.3 1079.2 667.7 1080.7 668.1 1082.2 675.7 1083.7 654.4 1085.2 661.4 1086.7 666.4 1088.2 663.8 1089.7 659.6 1091.2 660.3 1092.7 664.0 1094.2 660.7 1095.7 662.8 1097.2 666.9 1098.7 656.6 1100.2 659.8 1101.7 654.7 1103.2 656.9 1104.7 653.0 1106.2 649.3 1107.7 652.8 1109.2 656.6 1110.7 664.6 1112.2 656.1 1113.7 658.6 1115.2 665.5 1116.7 661.2 1118.2 657.2 1119.7 659.6 1121.2 656.9 1122.7 650.2 1124.2 654.6 1125.7 665.1 1127.2 654.6 1128.7 654.3 1130.2 654.5 1131.7 659.6 1133.2 654.7 1134.7 647.3 1136.2 654.8 1137.7 643.7 1139.2 655.0 1140.7 659.5 1142.2 652.4 1143.7 652.7 1145.2 655.8 1146.7 654.5 1148.2 648.7 1149.7 660.6 1151.2 649.6 1152.7 641.1 1154.2 639.5 1155.7 638.3 1157.2 648.4 1158.7 642.0 1160.2 649.4 1161.7 644.9 1163.2 642.4 1164.7 648.1 1166.2 643.4 1167.7 647.6 1169.2 648.4 1170.7 649.6 1172.2 650.3 1173.7 651.3 1175.2 639.2 1176.7 631.8 1178.2 642.2 1179.7 644.7 1181.2 640.9 1182.7 651.8 1184.2 650.1 1185.7 642.2 1187.2 645.9 1188.7 643.1 1190.2 639.4 1191.7 644.2 1193.2 643.3 1194.7 645.5 1196.2 636.4 1197.7 641.3 1199.2 644.1 1200.7 647.4 1202.2 653.5 1203.7 635.0 1205.2 642.3 1206.7 645.5 1208.2 644.0 1209.7 642.8 1211.2 643.6 1212.7 643.5 1214.2 646.0 1215.7 644.9 1217.2 642.7 1218.7 641.9 1220.2 644.4 1221.7 647.5 1223.2 651.8 1224.7 647.0 1226.2 647.2 1227.7 644.7 1229.2 644.6 1230.7 651.6 1232.2 648.7 1233.7 661.6 1235.2 652.1 1236.7 654.7 1238.2 657.2 1239.7 649.4 1241.2 656.0 1242.7 676.2 1244.2 657.4 1245.7 656.6 1247.2 662.6 1248.7 666.4 1250.2 675.3 1251.7 678.1 1253.2 672.5 1254.7 675.7 1256.2 676.2 1257.7 681.9 1259.2 680.7 1260.7 682.1 1262.2 686.8 1263.7 685.9 1265.2 688.3 1266.7 687.0 1268.2 688.9 1269.7 692.9 1271.2 686.4 1272.7 697.2 1274.2 694.8 1275.7 692.6 1277.2 699.2 1278.7 696.9 1280.2 696.7 1281.7 703.6 1283.2 707.0 1284.7 701.1 1286.2 702.9 1287.7 711.6 1289.2 718.2 1290.7 715.3 1292.2 715.4 1293.7 711.2 1295.2 714.0 1296.7 716.1 1298.2 725.8 1299.7 738.7 1301.2 722.2 1302.7 727.2 1304.2 733.9 1305.7 738.0 1307.2 728.4 1308.7 715.4 1310.2 729.4 1311.7 730.7 1313.2 724.4 1314.7 732.6 1316.2 729.5 1317.7 727.1 1319.2 738.0 1320.7 733.0 1322.2 738.5 1323.7 742.8 1325.2 739.8 1326.7 736.4 1328.2 741.5 1329.7 738.1 1331.2 738.5 1332.7 745.2 1334.2 741.9 1335.7 744.5 1337.2 747.8 1338.7 741.7 1340.2 754.7 1341.7 751.6 1343.2 757.0 1344.7 762.8 1346.2 757.1 1347.7 762.1 1349.2 768.3 1350.7 766.2 1352.2 759.1 1353.7 764.6 1355.2 769.1 1356.7 769.3 1358.2 753.8 1359.7 763.7 1361.2 762.8 1362.7 762.2 1364.2 763.6 1365.7 766.4 1367.2 776.4 1368.7 767.2 1370.2 766.2 1371.7 772.0 1373.2 775.7 1374.7 769.2 1376.2 768.3 1377.7 769.9 1379.2 765.6 1380.7 770.1 1382.2 770.7 1383.7 774.7 1385.2 767.4 1386.7 767.1 1388.2 774.9 1389.7 776.6 1391.2 778.2 1392.7 783.3 1394.2 764.1 1395.7 786.1 1397.2 782.9 1398.7 788.8 1400.2 776.1 1401.7 780.6 1403.2 780.6 1404.7 780.0 1406.2 777.0 1407.7 780.5 1409.2 781.4 1410.7 783.4 1412.2 780.2 1413.7 779.6 1415.2 786.1 1416.7 779.2 1418.2 780.9 1419.7 781.7 1421.2 780.6 1422.7 779.8 1424.2 778.4 1425.7 777.4 1427.2 785.9 1428.7 785.6 1430.2 785.4 1431.7 791.1 1433.2 787.5 1434.7 790.1 1436.2 786.8 1437.7 783.0 1439.2 785.3 1440.7 786.0 1442.2 783.3 1443.7 782.6 1445.2 785.0 1446.7 780.1 1448.2 785.8 1449.7 789.8 1451.2 787.7 1452.7 789.4 1454.2 784.4 1455.7 793.5 1457.2 784.1 1458.7 786.1 1460.2 777.2 1461.7 781.0 1463.2 775.6 1464.7 772.9 1466.2 780.7 1467.7 788.6 1469.2 782.4 1470.7 775.7 1472.2 775.5 1473.7 782.3 1475.2 781.6 1476.7 778.1 1478.2 788.3 1479.7 758.7 1481.2 773.3 1482.7 775.7 1484.2 772.3 1485.7 777.3 1487.2 769.1 1488.7 773.0 1490.2 775.9 1491.7 770.0 1493.2 772.6 1494.7 774.6 1496.2 777.3 1497.7 776.6 1499.2 785.7 1500.7 783.6 1502.2 775.6 1503.7 771.7 1505.2 771.6 1506.7 773.7 1508.2 766.0 1509.7 763.8 1511.2 768.7 1512.7 771.9 1514.2 780.6 1515.7 770.4 1517.2 765.5 1518.7 773.5 1520.2 774.0 1521.7 766.7 1523.2 766.5 1524.7 766.9 1526.2 766.1 1527.7 766.4 1529.2 765.8 1530.7 753.2 1532.2 764.5 1533.7 760.2 1535.2 759.9 1536.7 765.7 1538.2 770.8 1539.7 764.4 1541.2 765.5 1542.7 765.5 1544.2 761.9 1545.7 762.2 1547.2 764.8 1548.7 764.4 1550.2 756.4 1551.7 758.1 1553.2 756.8 1554.7 761.7 1556.2 755.8 1557.7 756.2 1559.2 752.1 1560.7 752.2 1562.2 755.2 1563.7 744.8 1565.2 756.9 1566.7 749.7 1568.2 750.3 1569.7 740.7 1571.2 765.7 1572.7 765.3 1574.2 759.8 1575.7 761.9 1577.2 745.7 1578.7 762.9 1580.2 761.0 1581.7 765.1 1583.2 765.3 1584.7 760.4 1586.2 758.2 1587.7 757.6 1589.2 751.9 1590.7 747.6 1592.2 756.8 1593.7 758.7 1595.2 757.0 1596.7 757.5 1598.2 753.6 1599.7 756.6 1601.2 750.7 1602.7 744.9 1604.2 751.7 1605.7 748.6 1607.2 753.2 1608.7 757.2 1610.2 749.5 1611.7 754.4 1613.2 752.8 1614.7 752.7 1616.2 754.1 1617.7 753.4 1619.2 754.4 1620.7 752.2 1622.2 759.7 1623.7 756.4 1625.2 758.7 1626.7 755.2 1628.2 759.2 1629.7 753.6 1631.2 752.7 1632.7 762.3 1634.2 768.1 1635.7 764.1 1637.2 751.5 1638.7 762.5 1640.2 761.0 1641.7 763.6 1643.2 759.4 1644.7 761.7 1646.2 761.8 1647.7 758.3 1649.2 758.4 1650.7 763.8 1652.2 758.0 1653.7 767.4 1655.2 761.6 1656.7 766.5 1658.2 765.1 1659.7 776.4 1661.2 764.5 1662.7 769.9 1664.2 768.2 1665.7 765.5 1667.2 769.7 1668.7 774.6 1670.2 766.2 1671.7 760.5 1673.2 772.4 1674.7 768.8 1676.2 773.1 1677.7 770.3 1679.2 760.6 1680.7 775.8 1682.2 780.9 1683.7 778.6 1685.2 779.9 1686.7 781.8 1688.2 782.4 1689.7 778.3 1691.2 775.5 1692.7 779.8 1694.2 783.9 1695.7 776.8 1697.2 786.8 1698.7 778.3 1700.2 773.8 1701.7 779.5 1703.2 778.8 1704.7 780.0 1706.2 781.7 1707.7 785.6 1709.2 779.6 1710.7 771.9 1712.2 777.9 1713.7 777.9 1715.2 784.6 1716.7 782.1 1718.2 780.2 1719.7 781.6 1721.2 781.2 1722.7 779.9 1724.2 770.2 1725.7 782.6 1727.2 796.5 1728.7 774.0 1730.2 785.3 1731.7 781.8 1733.2 779.8 1734.7 789.3 1736.2 784.9 1737.7 780.5 1739.2 782.0 1740.7 780.1 1742.2 787.0 1743.7 781.2 1745.2 791.8 1746.7 781.5 1748.2 796.1 1749.7 793.2 1751.2 784.8 1752.7 776.5 1754.2 772.2 1755.7 781.0 1757.2 775.0 1758.7 775.8 1760.2 776.5 1761.7 776.5 1763.2 777.5 1764.7 774.2 1766.2 774.3 1767.7 774.2 1769.2 773.5 1770.7 775.9 1772.2 783.4 1773.7 775.7 1775.2 769.0 1776.7 771.6 1778.2 765.4 1779.7 777.2 1781.2 775.3 1782.7 770.9 1784.2 773.8 1785.7 767.4 1787.2 762.1 1788.7 768.2 1790.2 767.6 1791.7 766.4 1793.2 768.0 1794.7 763.2 1796.2 766.3 1797.7 769.5 1799.2 764.0 1800.7 763.1 1802.2 761.9 1803.7 763.8 1805.2 761.9 1806.7 764.6 1808.2 763.2 1809.7 755.7 1811.2 758.8 1812.7 752.3 1814.2 754.1 1815.7 759.6 1817.2 754.8 1818.7 754.6 1820.2 757.4 1821.7 754.7 1823.2 750.6 1824.7 749.5 1826.2 754.3 1827.7 751.9 1829.2 753.9 1830.7 756.7 1832.2 766.2 1833.7 757.8 1835.2 751.6 1836.7 753.2 1838.2 752.4 1839.7 761.5 1841.2 754.0 1842.7 764.0 1844.2 757.4 1845.7 756.8 1847.2 758.6 1848.7 778.8 1850.2 748.4 1851.7 755.2 1853.2 760.2 1854.7 751.6 1856.2 755.3 1857.7 754.6 1859.2 760.6 1860.7 766.8 1862.2 763.7 1863.7 759.8 1865.2 769.0 1866.7 766.9 1868.2 768.5 1869.7 767.9 1871.2 768.4 1872.7 780.7 1874.2 766.4 1875.7 771.2 1877.2 767.9 1878.7 769.3 1880.2 778.6 1881.7 773.5 1883.2 775.8 1884.7 780.6 1886.2 777.1 1887.7 781.1 1889.2 779.3 1890.7 782.5 1892.2 783.1 1893.7 786.2 1895.2 788.8 1896.7 793.0 1898.2 790.9 1899.7 807.7 1901.2 796.7 1902.7 800.3 1904.2 795.4 1905.7 796.8 1907.2 798.8 1908.7 798.8 1910.2 797.5 1911.7 795.0 1913.2 802.2 1914.7 807.7 1916.2 807.3 1917.7 809.1 1919.2 808.9 1920.7 816.9 1922.2 813.9 1923.7 811.1 1925.2 834.7 1926.7 815.4 1928.2 827.2 1929.7 825.5 1931.2 827.1 1932.7 827.4 1934.2 834.3 1935.7 835.2 1937.2 837.3 1938.7 832.9 1940.2 843.0 1941.7 847.2 1943.2 824.4 1944.7 849.8 1946.2 838.9 1947.7 844.2 1949.2 845.6 1950.7 847.9 1952.2 850.7 1953.7 844.1 1955.2 833.8 1956.7 846.0 1958.2 843.5 1959.7 849.0 1961.2 852.4 1962.7 848.7 1964.2 853.1 1965.7 854.5 1967.2 854.2 1968.7 854.2 1970.2 856.1 1971.7 859.1 1973.2 853.4 1974.7 850.1 1976.2 852.0 1977.7 859.0 1979.2 860.4 1980.7 857.3 1982.2 863.4 1983.7 870.1 1985.2 862.9 1986.7 867.0 1988.2 866.0 1989.7 868.4 1991.2 869.2 1992.7 866.5 1994.2 875.2 1995.7 867.0 1997.2 853.0 1998.7 856.8 2000.2 875.9 2001.7 872.0 2003.2 870.3 2004.7 870.5 2006.2 870.8 2007.7 870.9 2009.2 868.0 2010.7 870.7 2012.2 870.5 2013.7 873.4 2015.2 873.2 2016.7 867.9 2018.2 874.0 2019.7 867.8 2021.2 874.2 2022.7 875.6 2024.2 870.7 2025.7 872.9 2027.2 868.8 2028.7 874.6 2030.2 876.5 2031.7 876.6 2033.2 872.6 2034.7 876.0 2036.2 869.7 2037.7 867.3 2039.2 863.8 2040.7 866.9 2042.2 866.6 2043.7 872.6 2045.2 867.3 2046.7 874.2 2048.2 872.0 2049.7 878.7 2051.2 875.7 2052.7 875.2 2054.2 875.6 2055.7 879.5 2057.2 874.7 2058.7 876.2 2060.2 873.1 2061.7 872.1 2063.2 885.2 2064.7 878.6 2066.2 869.4 2067.7 875.3 2069.2 874.9 2070.7 875.2 2072.2 877.7 2073.7 878.1 2075.2 878.0 2076.7 877.9 2078.2 878.7 2079.7 878.4 2081.2 879.9 2082.7 871.8 2084.2 876.8 2085.7 875.2 2087.2 875.5 2088.7 879.2 2090.2 880.8 2091.7 881.5 2093.2 878.9 2094.7 889.1 2096.2 874.9 2097.7 893.6 2099.2 892.1 2100.7 885.1 2102.2 883.1 2103.7 869.7 2105.2 874.8 2106.7 876.2 2108.2 882.0 2109.7 879.6 2111.2 877.5 2112.7 885.0 2114.2 887.5 2115.7 891.1 2117.2 886.5 2118.7 887.0 2120.2 886.4 2121.7 882.6 2123.2 878.3 2124.7 884.9 2126.2 890.1 2127.7 879.7 2129.2 883.9 2130.7 880.7 2132.2 883.0 2133.7 874.7 2135.2 888.2 2136.7 876.8 2138.2 882.7 2139.7 886.6 2141.2 881.4 2142.7 884.7 2144.2 884.0 2145.7 881.0 2147.2 882.3 2148.7 880.6" fill="none" stroke="#0099FF" stroke-width="11" stroke-linejoin="round" stroke-linecap="round"/>
<path d="M243.9 681.8 245.4 680.7 246.9 680.5 248.4 688.8 249.9 690.2 251.4 682.8 252.9 688.3 254.4 693.5 255.9 695.8 257.4 695.3 258.9 696.9 260.4 700.1 261.9 698.4 263.4 707.8 264.9 698.6 266.4 695.7 267.9 698.7 269.4 694.0 270.9 707.3 272.4 702.6 273.9 698.8 275.4 693.7 276.9 706.7 278.4 702.7 279.9 701.8 281.4 705.1 282.9 703.3 284.4 701.9 285.9 699.3 287.4 697.8 288.9 713.7 290.4 713.4 291.9 714.5 293.4 718.0 294.9 720.4 296.4 717.6 297.9 715.7 299.4 721.7 300.9 718.9 302.4 725.4 303.9 722.9 305.4 735.2 306.9 722.2 308.4 722.0 309.9 723.4 311.4 737.7 312.9 729.8 314.4 729.8 315.9 728.9 317.4 727.4 318.9 721.9 320.4 736.6 321.9 734.4 323.4 747.7 324.9 724.2 326.4 739.6 327.9 731.8 329.4 747.2 330.9 731.3 332.4 732.8 333.9 735.3 335.4 735.8 336.9 731.9 338.4 737.1 339.9 740.3 341.4 728.7 342.9 731.5 344.4 738.0 345.9 729.7 347.4 739.3 348.9 741.4 350.4 745.9 351.9 742.3 353.4 742.1 354.9 738.3 356.4 742.2 357.9 740.6 359.4 744.7 360.9 735.3 362.4 747.8 363.9 759.2 365.4 742.9 366.9 748.8 368.4 753.2 369.9 745.6 371.4 753.9 372.9 750.2 374.4 750.7 375.9 746.5 377.4 751.0 378.9 752.9 380.4 756.1 381.9 752.2 383.4 747.0 384.9 753.6 386.4 751.8 387.9 756.9 389.4 750.8 390.9 752.6 392.4 751.8 393.9 746.8 395.4 752.6 396.9 749.3 398.4 748.4 399.9 746.0 401.4 735.4 402.9 738.1 404.4 741.4 405.9 739.4 407.4 738.1 408.9 734.6 410.4 736.2 411.9 733.4 413.4 731.9 414.9 730.6 416.4 737.6 417.9 727.0 419.4 723.7 420.9 722.1 422.4 716.2 423.9 718.6 425.4 712.5 426.9 714.9 428.4 710.1 429.9 715.2 431.4 710.5 432.9 716.8 434.4 713.1 435.9 716.0 437.4 710.3 438.9 705.4 440.4 701.6 441.9 708.2 443.4 693.1 444.9 705.9 446.4 690.9 447.9 691.7 449.4 687.5 450.9 685.6 452.4 676.9 453.9 677.4 455.4 676.8 456.9 677.3 458.4 673.0 459.9 671.4 461.4 665.2 462.9 663.6 464.4 662.0 465.9 657.0 467.4 658.4 468.9 656.9 470.4 638.8 471.9 647.6 473.4 643.0 474.9 644.0 476.4 645.8 477.9 636.1 479.4 634.5 480.9 633.6 482.4 633.1 483.9 632.6 485.4 632.8 486.9 636.6 488.4 632.2 489.9 633.9 491.4 630.7 492.9 632.8 494.4 633.3 495.9 640.7 497.4 635.2 498.9 630.5 500.4 638.8 501.9 635.0 503.4 636.1 504.9 634.3 506.4 628.5 507.9 632.2 509.4 630.3 510.9 638.0 512.4 641.2 513.9 637.9 515.4 641.8 516.9 635.1 518.4 643.9 519.9 637.3 521.4 646.5 522.9 654.3 524.4 664.7 525.9 665.5 527.4 668.4 528.9 671.1 530.4 671.4 531.9 684.6 533.4 687.2 534.9 691.2 536.4 692.1 537.9 699.8 539.4 703.6 540.9 709.5 542.4 717.1 543.9 722.6 545.4 724.6 546.9 732.5 548.4 732.1 549.9 743.8 551.4 742.5 552.9 740.7 554.4 746.4 555.9 750.7 557.4 751.2 558.9 755.7 560.4 756.7 561.9 758.2 563.4 763.1 564.9 761.7 566.4 765.0 567.9 774.7 569.4 772.9 570.9 782.2 572.4 786.9 573.9 783.1 575.4 775.4 576.9 784.3 578.4 792.0 579.9 789.1 581.4 805.3 582.9 787.1 584.4 806.7 585.9 803.5 587.4 807.7 588.9 810.3 590.4 805.6 591.9 815.7 593.4 817.0 594.9 823.1 596.4 817.5 597.9 829.6 599.4 812.8 600.9 831.3 602.4 829.6 603.9 823.2 605.4 830.7 606.9 823.5 608.4 826.0 609.9 825.6 611.4 835.4 612.9 827.2 614.4 827.1 615.9 824.1 617.4 839.4 618.9 844.0 620.4 843.5 621.9 842.7 623.4 853.7 624.9 857.3 626.4 845.8 627.9 848.1 629.4 854.9 630.9 852.8 632.4 847.7 633.9 852.9 635.4 856.1 636.9 848.0 638.4 849.7 639.9 851.3 641.4 849.3 642.9 848.5 644.4 850.3 645.9 846.3 647.4 853.5 648.9 848.3 650.4 848.4 651.9 847.9 653.4 854.2 654.9 851.9 656.4 847.5 657.9 857.4 659.4 851.1 660.9 849.4 662.4 851.5 663.9 853.0 665.4 853.4 666.9 860.1 668.4 862.4 669.9 865.8 671.4 863.6 672.9 876.3 674.4 866.9 675.9 860.2 677.4 862.7 678.9 866.1 680.4 867.9 681.9 864.0 683.4 869.4 684.9 886.2 686.4 873.6 687.9 874.7 689.4 872.5 690.9 870.4 692.4 875.1 693.9 874.2 695.4 876.0 696.9 888.4 698.4 874.2 699.9 868.8 701.4 877.6 702.9 867.3 704.4 872.0 705.9 877.8 707.4 882.8 708.9 869.4 710.4 869.9 711.9 878.5 713.4 872.2 714.9 875.8 716.4 875.8 717.9 866.9 719.4 872.7 720.9 875.0 722.4 872.0 723.9 871.0 725.4 868.9 726.9 868.2 728.4 869.8 729.9 863.8 731.4 871.2 732.9 869.2 734.4 863.2 735.9 869.1 737.4 868.7 738.9 866.0 740.4 870.9 741.9 870.4 743.4 881.7 744.9 866.2 746.4 869.8 747.9 863.1 749.4 875.1 750.9 870.1 752.4 871.1 753.9 867.9 755.4 872.8 756.9 863.0 758.4 867.9 759.9 865.9 761.4 867.8 762.9 868.4 764.4 862.6 765.9 868.6 767.4 868.9 768.9 864.7 770.4 866.6 771.9 863.7 773.4 866.1 774.9 861.6 776.4 876.8 777.9 862.9 779.4 867.1 780.9 863.4 782.4 862.6 783.9 867.7 785.4 877.0 786.9 865.0 788.4 869.5 789.9 877.0 791.4 866.2 792.9 857.0 794.4 863.4 795.9 863.2 797.4 861.4 798.9 860.6 800.4 861.2 801.9 853.7 803.4 862.2 804.9 860.4 806.4 854.9 807.9 853.3 809.4 857.0 810.9 856.8 812.4 864.7 813.9 859.0 815.4 856.1 816.9 858.5 818.4 857.1 819.9 856.6 821.4 854.4 822.9 863.7 824.4 855.3 825.9 849.8 827.4 860.9 828.9 856.7 830.4 858.1 831.9 849.8 833.4 858.3 834.9 852.8 836.4 852.7 837.9 849.8 839.4 847.1 840.9 853.3 842.4 850.5 843.9 854.3 845.4 853.5 846.9 853.0 848.4 853.1 849.9 853.7 851.4 846.8 852.9 855.0 854.4 848.5 855.9 849.8 857.4 852.4 858.9 863.2 860.4 846.7 861.9 856.0 863.4 847.0 864.9 850.9 866.4 850.0 867.9 847.1 869.4 848.2 870.9 840.5 872.4 846.3 873.9 846.0 875.4 845.7 876.9 845.6 878.4 846.3 879.9 844.7 881.4 850.9 882.9 851.5 884.4 852.2 885.9 864.0 887.4 861.9 888.9 847.7 890.4 852.5 891.9 865.0 893.4 836.9 894.9 852.9 896.4 866.9 897.9 862.5 899.4 857.1 900.9 860.7 902.4 860.8 903.9 861.8 905.4 853.8 906.9 863.7 908.4 872.4 909.9 859.3 911.4 862.5 912.9 882.2 914.4 873.7 915.9 870.1 917.4 869.7 918.9 869.7 920.4 871.0 921.9 882.6 923.4 888.8 924.9 874.3 926.4 883.3 927.9 885.4 929.4 883.0 930.9 887.2 932.4 895.2 933.9 872.4 935.4 894.6 936.9 883.4 938.4 900.8 939.9 899.5 941.4 893.0 942.9 889.8 944.4 898.7 945.9 903.8 947.4 905.5 948.9 901.0 950.4 906.0 951.9 906.3 953.4 915.1 954.9 909.7 956.4 907.8 957.9 910.6 959.4 916.7 960.9 907.4 962.4 912.9 963.9 908.8 965.4 913.6 966.9 918.7 968.4 916.7 969.9 913.7 971.4 922.5 972.9 920.0 974.4 918.3 975.9 922.5 977.4 913.9 978.9 922.4 980.4 909.6 981.9 915.3 983.4 912.2 984.9 916.8 986.4 910.8 987.9 922.3 989.4 918.3 990.9 921.5 992.4 921.1 993.9 924.9 995.4 914.0 996.9 924.3 998.4 925.5 999.9 920.3 1001.4 926.2 1002.9 924.7 1004.4 925.5 1005.9 930.1 1007.4 920.0 1008.9 928.9 1010.4 926.7 1011.9 931.5 1013.4 929.9 1014.9 926.4 1016.4 925.2 1017.9 926.7 1019.4 926.6 1020.9 931.7 1022.4 923.8 1023.9 928.4 1025.4 910.3 1026.9 918.9 1028.4 927.9 1029.9 926.1 1031.4 922.4 1032.9 922.6 1034.4 922.4 1035.9 925.8 1037.4 919.3 1038.9 917.6 1040.4 916.2 1041.9 914.7 1043.4 904.8 1044.9 908.1 1046.4 899.1 1047.9 903.1 1049.4 895.7 1050.9 893.4 1052.4 891.9 1053.9 894.3 1055.4 878.9 1056.9 882.8 1058.4 893.6 1059.9 893.3 1061.4 890.7 1062.9 882.5 1064.4 877.8 1065.9 882.7 1067.4 877.7 1068.9 877.9 1070.4 874.3 1071.9 867.8 1073.4 874.2 1074.9 872.4 1076.4 871.7 1077.9 866.2 1079.4 870.5 1080.9 874.6 1082.4 873.1 1083.9 868.0 1085.4 867.1 1086.9 865.5 1088.4 859.5 1089.9 864.0 1091.4 859.9 1092.9 864.6 1094.4 856.1 1095.9 839.3 1097.4 848.9 1098.9 841.5 1100.4 838.9 1101.9 839.4 1103.4 833.7 1104.9 838.4 1106.4 837.3 1107.9 836.5 1109.4 834.0 1110.9 829.5 1112.4 832.1 1113.9 827.4 1115.4 832.5 1116.9 827.7 1118.4 830.6 1119.9 826.2 1121.4 822.5 1122.9 821.8 1124.4 832.0 1125.9 827.1 1127.4 823.6 1128.9 826.1 1130.4 828.8 1131.9 822.4 1133.4 819.0 1134.9 825.7 1136.4 829.7 1137.9 824.8 1139.4 827.7 1140.9 825.2 1142.4 822.7 1143.9 822.7 1145.4 815.9 1146.9 825.0 1148.4 828.4 1149.9 833.5 1151.4 828.1 1152.9 839.4 1154.4 829.5 1155.9 832.0 1157.4 833.7 1158.9 837.3 1160.4 831.9 1161.9 823.6 1163.4 840.6 1164.9 843.2 1166.4 831.9 1167.9 831.7 1169.4 831.0 1170.9 833.6 1172.4 829.6 1173.9 834.6 1175.4 833.9 1176.9 832.3 1178.4 833.1 1179.9 832.8 1181.4 828.7 1182.9 832.3 1184.4 820.4 1185.9 827.8 1187.4 832.0 1188.9 824.7 1190.4 825.6 1191.9 823.7 1193.4 836.2 1194.9 821.7 1196.4 821.0 1197.9 815.8 1199.4 819.4 1200.9 808.4 1202.4 806.1 1203.9 805.1 1205.4 803.9 1206.9 794.8 1208.4 806.0 1209.9 803.9 1211.4 805.6 1212.9 797.0 1214.4 801.4 1215.9 805.1 1217.4 805.0 1218.9 809.6 1220.4 805.0 1221.9 813.8 1223.4 807.7 1224.9 802.1 1226.4 809.5 1227.9 810.5 1229.4 802.9 1230.9 798.8 1232.4 804.4 1233.9 810.9 1235.4 807.2 1236.9 817.4 1238.4 810.5 1239.9 806.6 1241.4 810.3 1242.9 811.8 1244.4 813.1 1245.9 816.7 1247.4 817.0 1248.9 830.5 1250.4 833.9 1251.9 837.5 1253.4 850.0 1254.9 848.1 1256.4 857.3 1257.9 863.2 1259.4 863.6 1260.9 874.6 1262.4 884.4 1263.9 884.0 1265.4 887.1 1266.9 896.8 1268.4 909.8 1269.9 910.4 1271.4 909.6 1272.9 928.2 1274.4 929.5 1275.9 929.6 1277.4 933.9 1278.9 943.2 1280.4 933.5 1281.9 944.1 1283.4 943.9 1284.9 951.0 1286.4 953.7 1287.9 960.4 1289.4 966.4 1290.9 964.2 1292.4 970.5 1293.9 982.6 1295.4 991.0 1296.9 997.0 1298.4 989.3 1299.9 1009.9 1301.4 1014.3 1302.9 1015.3 1304.4 1019.9 1305.9 1025.9 1307.4 1027.8 1308.9 1034.0 1310.4 1024.9 1311.9 1048.2 1313.4 1050.6 1314.9 1053.5 1316.4 1059.2 1317.9 1070.5 1319.4 1069.0 1320.9 1064.6 1322.4 1073.3 1323.9 1070.8 1325.4 1074.5 1326.9 1071.4 1328.4 1086.8 1329.9 1069.1 1331.4 1088.1 1332.9 1085.3 1334.4 1088.0 1335.9 1093.4 1337.4 1095.8 1338.9 1111.4 1340.4 1098.7 1341.9 1106.7 1343.4 1102.6 1344.9 1093.4 1346.4 1104.4 1347.9 1109.2 1349.4 1112.0 1350.9 1110.6 1352.4 1107.9 1353.9 1116.3 1355.4 1112.6 1356.9 1108.9 1358.4 1109.0 1359.9 1112.9 1361.4 1121.7 1362.9 1101.0 1364.4 1117.0 1365.9 1120.8 1367.4 1119.7 1368.9 1117.1 1370.4 1118.5 1371.9 1115.0 1373.4 1120.9 1374.9 1119.9 1376.4 1128.3 1377.9 1131.9 1379.4 1129.0 1380.9 1129.5 1382.4 1130.0 1383.9 1133.2 1385.4 1133.8 1386.9 1134.3 1388.4 1136.1 1389.9 1133.2 1391.4 1146.2 1392.9 1137.8 1394.4 1135.0 1395.9 1138.5 1397.4 1129.4 1398.9 1133.2 1400.4 1133.8 1401.9 1130.4 1403.4 1122.8 1404.9 1135.7 1406.4 1137.0 1407.9 1136.0 1409.4 1135.2 1410.9 1133.5 1412.4 1133.2 1413.9 1133.2 1415.4 1141.7 1416.9 1136.4 1418.4 1137.5 1419.9 1146.9 1421.4 1133.1 1422.9 1138.2 1424.4 1127.5 1425.9 1139.1 1427.4 1130.1 1428.9 1137.8 1430.4 1133.8 1431.9 1144.2 1433.4 1132.9 1434.9 1134.4 1436.4 1134.1 1437.9 1138.0 1439.4 1129.6 1440.9 1142.5 1442.4 1140.5 1443.9 1140.5 1445.4 1136.0 1446.9 1139.9 1448.4 1141.9 1449.9 1143.5 1451.4 1131.6 1452.9 1140.2 1454.4 1141.3 1455.9 1132.5 1457.4 1130.8 1458.9 1128.5 1460.4 1124.5 1461.9 1130.3 1463.4 1132.2 1464.9 1130.4 1466.4 1127.7 1467.9 1131.5 1469.4 1119.2 1470.9 1125.6 1472.4 1134.3 1473.9 1133.6 1475.4 1133.6 1476.9 1129.0 1478.4 1129.7 1479.9 1112.4 1481.4 1120.0 1482.9 1118.8 1484.4 1109.9 1485.9 1122.1 1487.4 1121.4 1488.9 1120.7 1490.4 1116.7 1491.9 1115.6 1493.4 1119.0 1494.9 1118.8 1496.4 1110.2 1497.9 1117.3 1499.4 1108.9 1500.9 1112.3 1502.4 1115.9 1503.9 1117.6 1505.4 1114.7 1506.9 1113.3 1508.4 1111.0 1509.9 1110.5 1511.4 1107.6 1512.9 1108.1 1514.4 1107.6 1515.9 1096.0 1517.4 1099.9 1518.9 1081.1 1520.4 1099.1 1521.9 1109.7 1523.4 1104.3 1524.9 1100.5 1526.4 1111.8 1527.9 1102.5 1529.4 1095.5 1530.9 1098.2 1532.4 1100.9 1533.9 1096.7 1535.4 1099.0 1536.9 1098.0 1538.4 1089.8 1539.9 1075.4 1541.4 1090.6 1542.9 1092.7 1544.4 1090.5 1545.9 1086.1 1547.4 1085.1 1548.9 1084.1 1550.4 1080.0 1551.9 1086.7 1553.4 1081.5 1554.9 1072.0 1556.4 1080.2 1557.9 1074.5 1559.4 1074.8 1560.9 1068.8 1562.4 1079.7 1563.9 1070.8 1565.4 1078.7 1566.9 1072.0 1568.4 1067.7 1569.9 1071.3 1571.4 1072.8 1572.9 1072.6 1574.4 1072.2 1575.9 1069.1 1577.4 1067.9 1578.9 1074.5 1580.4 1075.0 1581.9 1074.7 1583.4 1077.8 1584.9 1073.6 1586.4 1074.1 1587.9 1069.7 1589.4 1066.7 1590.9 1061.6 1592.4 1062.9 1593.9 1063.4 1595.4 1060.7 1596.9 1072.0 1598.4 1070.3 1599.9 1067.8 1601.4 1069.1 1602.9 1070.8 1604.4 1071.8 1605.9 1077.3 1607.4 1070.5 1608.9 1068.9 1610.4 1074.1 1611.9 1067.1 1613.4 1074.2 1614.9 1067.7 1616.4 1071.9 1617.9 1074.1 1619.4 1062.5 1620.9 1078.6 1622.4 1078.8 1623.9 1073.8 1625.4 1092.5 1626.9 1089.3 1628.4 1081.7 1629.9 1089.3 1631.4 1081.9 1632.9 1091.6 1634.4 1095.7 1635.9 1097.3 1637.4 1092.8 1638.9 1091.9 1640.4 1097.2 1641.9 1102.4 1643.4 1096.5 1644.9 1091.4 1646.4 1083.6 1647.9 1094.9 1649.4 1095.0 1650.9 1093.6 1652.4 1096.8 1653.9 1108.1 1655.4 1097.0 1656.9 1103.1 1658.4 1106.9 1659.9 1102.4 1661.4 1117.3 1662.9 1109.4 1664.4 1114.2 1665.9 1115.0 1667.4 1122.7 1668.9 1128.7 1670.4 1136.8 1671.9 1134.6 1673.4 1130.8 1674.9 1135.7 1676.4 1133.2 1677.9 1129.7 1679.4 1131.9 1680.9 1130.0 1682.4 1130.2 1683.9 1129.0 1685.4 1133.7 1686.9 1136.9 1688.4 1133.3 1689.9 1140.3 1691.4 1138.6 1692.9 1137.6 1694.4 1145.2 1695.9 1137.3 1697.4 1138.0 1698.9 1141.2 1700.4 1138.5 1701.9 1135.9 1703.4 1138.6 1704.9 1137.0 1706.4 1138.8 1707.9 1134.1 1709.4 1132.2 1710.9 1142.8 1712.4 1135.2 1713.9 1135.5 1715.4 1136.6 1716.9 1139.2 1718.4 1139.3 1719.9 1138.4 1721.4 1135.2 1722.9 1141.8 1724.4 1144.6 1725.9 1143.7 1727.4 1142.9 1728.9 1134.4 1730.4 1136.3 1731.9 1139.5 1733.4 1136.7 1734.9 1136.3 1736.4 1133.9 1737.9 1137.5 1739.4 1136.7 1740.9 1139.7 1742.4 1135.1 1743.9 1137.0 1745.4 1131.4 1746.9 1135.8 1748.4 1133.0 1749.9 1130.7 1751.4 1127.6 1752.9 1132.3 1754.4 1130.4 1755.9 1123.9 1757.4 1130.7 1758.9 1126.7 1760.4 1125.6 1761.9 1120.3 1763.4 1118.5 1764.9 1121.9 1766.4 1127.2 1767.9 1120.5 1769.4 1111.9 1770.9 1121.2 1772.4 1120.3 1773.9 1118.8 1775.4 1116.5 1776.9 1115.1 1778.4 1109.6 1779.9 1108.5 1781.4 1109.2 1782.9 1106.7 1784.4 1102.8 1785.9 1095.5 1787.4 1099.7 1788.9 1097.8 1790.4 1092.9 1791.9 1099.6 1793.4 1088.9 1794.9 1088.7 1796.4 1087.2 1797.9 1081.7 1799.4 1081.9 1800.9 1079.1 1802.4 1072.2 1803.9 1067.9 1805.4 1070.9 1806.9 1067.2 1808.4 1061.6 1809.9 1067.0 1811.4 1061.0 1812.9 1067.4 1814.4 1061.3 1815.9 1052.6 1817.4 1059.5 1818.9 1050.5 1820.4 1051.0 1821.9 1047.5 1823.4 1039.9 1824.9 1040.5 1826.4 1038.5 1827.9 1033.4 1829.4 1030.1 1830.9 1035.6 1832.4 1030.4 1833.9 1020.7 1835.4 1016.7 1836.9 1025.9 1838.4 1012.6 1839.9 1010.2 1841.4 1009.1 1842.9 1009.9 1844.4 1008.0 1845.9 1005.5 1847.4 1006.9 1848.9 1003.7 1850.4 1005.2 1851.9 1004.0 1853.4 1003.1 1854.9 995.5 1856.4 1000.2 1857.9 1005.0 1859.4 1004.0 1860.9 1002.9 1862.4 1009.5 1863.9 1022.0 1865.4 1017.6 1866.9 1013.3 1868.4 1024.1 1869.9 1030.3 1871.4 1031.5 1872.9 1038.2 1874.4 1037.9 1875.9 1041.6 1877.4 1043.3 1878.9 1044.0 1880.4 1041.3 1881.9 1049.0 1883.4 1055.4 1884.9 1064.3 1886.4 1061.4 1887.9 1064.6 1889.4 1065.9 1890.9 1077.2 1892.4 1080.3 1893.9 1081.3 1895.4 1082.1 1896.9 1092.2 1898.4 1100.5 1899.9 1107.4 1901.4 1108.8 1902.9 1122.1 1904.4 1115.4 1905.9 1122.5 1907.4 1125.2 1908.9 1132.0 1910.4 1133.0 1911.9 1136.0 1913.4 1143.2 1914.9 1145.6 1916.4 1152.9 1917.9 1150.3 1919.4 1160.3 1920.9 1162.2 1922.4 1165.3 1923.9 1174.1 1925.4 1181.6 1926.9 1174.9 1928.4 1188.2 1929.9 1181.8 1931.4 1170.7 1932.9 1196.3 1934.4 1203.0 1935.9 1204.6 1937.4 1209.1 1938.9 1217.5 1940.4 1223.7 1941.9 1218.7 1943.4 1217.5 1944.9 1215.3 1946.4 1224.1 1947.9 1226.5 1949.4 1227.4 1950.9 1232.6 1952.4 1240.3 1953.9 1237.0 1955.4 1240.2 1956.9 1234.4 1958.4 1238.1 1959.9 1253.8 1961.4 1241.8 1962.9 1244.7 1964.4 1258.3 1965.9 1258.1 1967.4 1257.0 1968.9 1257.2 1970.4 1278.9 1971.9 1260.2 1973.4 1260.3 1974.9 1258.4 1976.4 1264.2 1977.9 1262.1 1979.4 1265.7 1980.9 1274.8 1982.4 1262.1 1983.9 1268.2 1985.4 1269.9 1986.9 1270.8 1988.4 1264.2 1989.9 1274.2 1991.4 1271.7 1992.9 1273.5 1994.4 1275.0 1995.9 1275.0 1997.4 1277.8 1998.9 1281.9 2000.4 1284.2 2001.9 1282.0 2003.4 1284.8 2004.9 1276.0 2006.4 1283.2 2007.9 1280.7 2009.4 1275.6 2010.9 1280.0 2012.4 1287.8 2013.9 1290.3 2015.4 1291.6 2016.9 1291.8 2018.4 1297.5 2019.9 1296.3 2021.4 1297.8 2022.9 1297.3 2024.4 1299.0 2025.9 1289.1 2027.4 1282.9 2028.9 1305.3 2030.4 1297.8 2031.9 1297.9 2033.4 1301.3 2034.9 1302.3 2036.4 1299.7 2037.9 1301.1 2039.4 1303.1 2040.9 1307.5 2042.4 1300.3 2043.9 1312.1 2045.4 1305.2 2046.9 1302.9 2048.4 1313.6 2049.9 1310.2 2051.4 1317.6 2052.9 1319.7 2054.4 1318.9 2055.9 1323.5 2057.4 1325.2 2058.9 1329.1 2060.4 1329.2 2061.9 1335.0 2063.4 1332.9 2064.9 1330.2 2066.4 1317.1 2067.9 1325.9 2069.4 1332.9 2070.9 1327.8 2072.4 1328.9 2073.9 1330.2 2075.4 1329.2 2076.9 1333.3 2078.4 1330.5 2079.9 1328.6 2081.4 1327.2 2082.9 1327.1 2084.4 1325.9 2085.9 1320.5 2087.4 1325.9 2088.9 1317.7 2090.4 1329.6 2091.9 1328.8 2093.4 1335.6 2094.9 1331.0 2096.4 1325.8 2097.9 1331.8 2099.4 1338.9 2100.9 1329.7 2102.4 1328.2 2103.9 1328.0 2105.4 1325.3 2106.9 1323.9 2108.4 1316.1 2109.9 1327.4 2111.4 1331.8 2112.9 1330.1 2114.4 1305.7 2115.9 1325.1 2117.4 1322.9 2118.9 1324.0 2120.4 1329.1 2121.9 1326.8 2123.4 1330.7 2124.9 1322.3 2126.4 1327.1 2127.9 1327.5 2129.4 1327.4 2130.9 1323.7 2132.4 1327.4 2133.9 1324.7 2135.4 1322.9 2136.9 1314.2 2138.4 1321.5 2139.9 1321.1 2141.4 1321.9 2142.9 1322.6 2144.4 1307.6 2145.9 1321.3 2147.4 1318.7 2148.9 1311.1" fill="none" stroke="#0000CC" stroke-width="11.5" stroke-linejoin="round" stroke-linecap="round"/>
<path d="M245.2 983.2 246.7 981.5 248.2 977.5 249.7 976.5 251.2 981.7 252.7 986.7 254.2 988.0 255.7 986.6 257.2 990.2 258.7 994.3 260.2 984.5 261.7 993.5 263.2 997.0 264.7 999.3 266.2 993.2 267.7 996.5 269.2 995.5 270.7 993.9 272.2 999.0 273.7 995.5 275.2 995.1 276.7 992.1 278.2 996.3 279.7 986.9 281.2 1005.6 282.7 995.7 284.2 993.0 285.7 997.5 287.2 1001.4 288.7 1005.0 290.2 1007.8 291.7 1007.2 293.2 1004.6 294.7 1004.3 296.2 1008.0 297.7 1005.2 299.2 1004.6 300.7 1007.6 302.2 995.9 303.7 991.6 305.2 997.2 306.7 998.9 308.2 998.6 309.7 1007.7 311.2 1003.5 312.7 1004.6 314.2 1006.5 315.7 1009.7 317.2 1009.2 318.7 1004.2 320.2 1008.9 321.7 1010.7 323.2 1010.2 324.7 1019.2 326.2 1006.0 327.7 1011.3 329.2 1009.0 330.7 1001.8 332.2 1011.8 333.7 1024.5 335.2 1010.1 336.7 1012.3 338.2 1011.9 339.7 1016.6 341.2 1021.1 342.7 1013.3 344.2 1015.6 345.7 1020.2 347.2 1022.8 348.7 1028.5 350.2 1020.6 351.7 1020.0 353.2 1016.5 354.7 1017.2 356.2 1019.4 357.7 1024.0 359.2 1022.9 360.7 1022.6 362.2 1022.8 363.7 1024.8 365.2 1025.5 366.7 1024.7 368.2 1037.0 369.7 1030.9 371.2 1024.3 372.7 1022.6 374.2 1023.4 375.7 1016.4 377.2 1022.3 378.7 1016.3 380.2 1024.7 381.7 1018.8 383.2 1016.5 384.7 1018.5 386.2 1016.6 387.7 1013.7 389.2 1019.6 390.7 1019.7 392.2 1018.5 393.7 1020.9 395.2 1021.8 396.7 1029.7 398.2 1023.8 399.7 1023.7 401.2 1021.8 402.7 1026.3 404.2 1023.0 405.7 1023.3 407.2 1018.3 408.7 1015.9 410.2 1016.8 411.7 1023.7 413.2 1012.4 414.7 1031.6 416.2 1016.8 417.7 1016.6 419.2 1020.3 420.7 1015.9 422.2 1011.1 423.7 1004.6 425.2 1011.3 426.7 1010.5 428.2 1013.2 429.7 1007.4 431.2 1010.6 432.7 1007.1 434.2 1018.2 435.7 1008.7 437.2 997.6 438.7 998.8 440.2 1007.3 441.7 1002.8 443.2 1009.6 444.7 1002.9 446.2 1002.7 447.7 1002.0 449.2 1004.0 450.7 1000.0 452.2 990.0 453.7 1003.0 455.2 1002.4 456.7 992.3 458.2 998.7 459.7 993.3 461.2 996.0 462.7 994.3 464.2 999.2 465.7 993.4 467.2 1005.3 468.7 1003.8 470.2 993.8 471.7 992.5 473.2 984.8 474.7 983.4 476.2 983.8 477.7 984.5 479.2 983.4 480.7 980.8 482.2 989.3 483.7 979.9 485.2 984.5 486.7 990.5 488.2 995.6 489.7 988.3 491.2 985.5 492.7 988.6 494.2 993.3 495.7 972.3 497.2 980.0 498.7 981.3 500.2 976.0 501.7 979.0 503.2 983.7 504.7 972.5 506.2 976.0 507.7 972.5 509.2 978.3 510.7 978.6 512.2 988.3 513.7 993.2 515.2 988.1 516.7 998.9 518.2 1005.1 519.7 996.9 521.2 996.0 522.7 995.1 524.2 996.1 525.7 992.0 527.2 994.8 528.7 1000.5 530.2 998.8 531.7 990.4 533.2 995.7 534.7 991.0 536.2 996.4 537.7 1002.2 539.2 1005.0 540.7 1006.7 542.2 999.6 543.7 1009.0 545.2 1007.5 546.7 1015.9 548.2 1019.0 549.7 1015.1 551.2 1012.3 552.7 1008.5 554.2 1018.4 555.7 1023.6 557.2 1037.2 558.7 1026.2 560.2 1017.8 561.7 1029.4 563.2 1044.6 564.7 1039.3 566.2 1040.7 567.7 1043.2 569.2 1042.6 570.7 1039.2 572.2 1050.0 573.7 1050.4 575.2 1043.2 576.7 1043.8 578.2 1050.4 579.7 1053.0 581.2 1065.1 582.7 1060.1 584.2 1065.5 585.7 1058.7 587.2 1069.0 588.7 1063.7 590.2 1067.5 591.7 1072.7 593.2 1073.0 594.7 1072.5 596.2 1074.6 597.7 1077.6 599.2 1079.3 600.7 1077.8 602.2 1079.1 603.7 1070.4 605.2 1081.0 606.7 1076.6 608.2 1082.8 609.7 1075.4 611.2 1076.4 612.7 1077.8 614.2 1087.7 615.7 1081.7 617.2 1088.2 618.7 1087.0 620.2 1086.7 621.7 1090.9 623.2 1085.2 624.7 1093.7 626.2 1093.9 627.7 1093.3 629.2 1094.4 630.7 1092.6 632.2 1105.4 633.7 1082.6 635.2 1085.4 636.7 1096.5 638.2 1098.2 639.7 1099.3 641.2 1098.3 642.7 1103.7 644.2 1097.7 645.7 1089.2 647.2 1095.0 648.7 1095.6 650.2 1091.8 651.7 1090.0 653.2 1091.6 654.7 1093.0 656.2 1106.6 657.7 1093.6 659.2 1091.4 660.7 1105.7 662.2 1094.3 663.7 1105.6 665.2 1094.0 666.7 1095.4 668.2 1116.5 669.7 1100.6 671.2 1101.0 672.7 1101.6 674.2 1096.9 675.7 1107.7 677.2 1102.3 678.7 1103.2 680.2 1105.5 681.7 1110.0 683.2 1106.0 684.7 1100.5 686.2 1108.6 687.7 1108.0 689.2 1114.4 690.7 1104.5 692.2 1108.1 693.7 1107.6 695.2 1095.9 696.7 1104.3 698.2 1107.3 699.7 1115.5 701.2 1108.0 702.7 1111.8 704.2 1110.4 705.7 1109.3 707.2 1109.3 708.7 1109.8 710.2 1109.2 711.7 1109.1 713.2 1103.5 714.7 1105.6 716.2 1107.9 717.7 1102.4 719.2 1104.1 720.7 1100.5 722.2 1102.9 723.7 1097.4 725.2 1109.3 726.7 1105.8 728.2 1105.7 729.7 1107.1 731.2 1103.2 732.7 1113.1 734.2 1110.7 735.7 1106.4 737.2 1107.6 738.7 1108.7 740.2 1114.0 741.7 1110.1 743.2 1110.0 744.7 1116.8 746.2 1118.8 747.7 1108.4 749.2 1101.3 750.7 1104.9 752.2 1113.4 753.7 1102.0 755.2 1117.6 756.7 1101.0 758.2 1116.5 759.7 1110.7 761.2 1103.6 762.7 1102.5 764.2 1112.0 765.7 1109.1 767.2 1121.6 768.7 1108.2 770.2 1100.8 771.7 1110.0 773.2 1098.2 774.7 1099.7 776.2 1097.7 777.7 1102.2 779.2 1098.5 780.7 1100.6 782.2 1105.5 783.7 1096.3 785.2 1090.6 786.7 1101.7 788.2 1108.0 789.7 1110.7 791.2 1107.9 792.7 1108.9 794.2 1106.9 795.7 1115.8 797.2 1110.2 798.7 1111.1 800.2 1107.3 801.7 1105.1 803.2 1108.3 804.7 1098.8 806.2 1102.5 807.7 1099.6 809.2 1103.1 810.7 1101.0 812.2 1099.2 813.7 1103.0 815.2 1091.5 816.7 1101.2 818.2 1099.0 819.7 1095.1 821.2 1094.7 822.7 1095.5 824.2 1094.1 825.7 1094.3 827.2 1094.9 828.7 1100.4 830.2 1088.3 831.7 1091.1 833.2 1095.9 834.7 1098.5 836.2 1122.7 837.7 1102.9 839.2 1092.4 840.7 1097.4 842.2 1096.2 843.7 1101.4 845.2 1098.5 846.7 1102.5 848.2 1098.3 849.7 1107.2 851.2 1098.1 852.7 1102.3 854.2 1092.0 855.7 1099.7 857.2 1095.4 858.7 1097.4 860.2 1091.0 861.7 1088.6 863.2 1094.4 864.7 1098.4 866.2 1096.5 867.7 1095.8 869.2 1096.5 870.7 1099.4 872.2 1095.2 873.7 1091.6 875.2 1105.6 876.7 1105.6 878.2 1106.1 879.7 1121.2 881.2 1106.5 882.7 1104.5 884.2 1102.5 885.7 1108.0 887.2 1104.7 888.7 1104.8 890.2 1105.0 891.7 1115.4 893.2 1101.7 894.7 1102.9 896.2 1108.8 897.7 1114.3 899.2 1112.8 900.7 1112.8 902.2 1114.4 903.7 1109.9 905.2 1104.1 906.7 1108.0 908.2 1106.7 909.7 1118.0 911.2 1104.1 912.7 1115.8 914.2 1115.3 915.7 1102.8 917.2 1110.5 918.7 1108.0 920.2 1107.6 921.7 1111.6 923.2 1108.7 924.7 1121.6 926.2 1112.0 927.7 1115.8 929.2 1115.4 930.7 1112.8 932.2 1117.5 933.7 1117.0 935.2 1116.6 936.7 1101.0 938.2 1116.9 939.7 1118.8 941.2 1121.6 942.7 1121.6 944.2 1127.3 945.7 1126.7 947.2 1125.1 948.7 1129.5 950.2 1126.3 951.7 1129.8 953.2 1131.9 954.7 1132.5 956.2 1124.2 957.7 1128.6 959.2 1128.7 960.7 1130.3 962.2 1132.7 963.7 1135.4 965.2 1138.2 966.7 1136.2 968.2 1141.5 969.7 1144.3 971.2 1132.9 972.7 1135.3 974.2 1128.8 975.7 1133.0 977.2 1132.7 978.7 1131.8 980.2 1131.8 981.7 1128.9 983.2 1130.3 984.7 1128.8 986.2 1133.9 987.7 1137.6 989.2 1142.9 990.7 1149.5 992.2 1155.5 993.7 1145.9 995.2 1153.2 996.7 1140.4 998.2 1136.0 999.7 1140.5 1001.2 1144.9 1002.7 1137.5 1004.2 1141.3 1005.7 1148.2 1007.2 1138.4 1008.7 1149.1 1010.2 1147.4 1011.7 1145.5 1013.2 1136.5 1014.7 1147.1 1016.2 1141.6 1017.7 1151.7 1019.2 1153.7 1020.7 1142.7 1022.2 1149.0 1023.7 1143.2 1025.2 1144.7 1026.7 1155.6 1028.2 1142.4 1029.7 1139.2 1031.2 1133.1 1032.7 1126.3 1034.2 1142.7 1035.7 1140.8 1037.2 1138.2 1038.7 1135.5 1040.2 1136.9 1041.7 1132.2 1043.2 1137.5 1044.7 1134.8 1046.2 1128.7 1047.7 1131.8 1049.2 1135.0 1050.7 1146.1 1052.2 1131.0 1053.7 1129.4 1055.2 1127.2 1056.7 1127.8 1058.2 1126.9 1059.7 1123.6 1061.2 1125.6 1062.7 1125.9 1064.2 1130.8 1065.7 1117.3 1067.2 1116.9 1068.7 1120.9 1070.2 1113.5 1071.7 1112.4 1073.2 1111.8 1074.7 1113.5 1076.2 1112.9 1077.7 1112.6 1079.2 1110.9 1080.7 1102.8 1082.2 1113.4 1083.7 1110.6 1085.2 1103.0 1086.7 1103.8 1088.2 1105.5 1089.7 1108.5 1091.2 1102.0 1092.7 1098.2 1094.2 1108.1 1095.7 1097.6 1097.2 1096.3 1098.7 1099.8 1100.2 1103.2 1101.7 1097.4 1103.2 1099.5 1104.7 1106.7 1106.2 1099.2 1107.7 1097.1 1109.2 1091.4 1110.7 1090.7 1112.2 1097.3 1113.7 1094.7 1115.2 1089.9 1116.7 1098.8 1118.2 1099.4 1119.7 1100.1 1121.2 1106.7 1122.7 1098.2 1124.2 1092.9 1125.7 1096.0 1127.2 1101.6 1128.7 1096.2 1130.2 1096.6 1131.7 1092.9 1133.2 1097.6 1134.7 1083.6 1136.2 1098.0 1137.7 1093.6 1139.2 1094.1 1140.7 1094.6 1142.2 1095.3 1143.7 1099.9 1145.2 1096.2 1146.7 1098.8 1148.2 1096.3 1149.7 1094.9 1151.2 1093.8 1152.7 1095.1 1154.2 1099.2 1155.7 1093.7 1157.2 1093.7 1158.7 1094.2 1160.2 1095.8 1161.7 1106.4 1163.2 1097.1 1164.7 1099.0 1166.2 1094.8 1167.7 1085.8 1169.2 1084.1 1170.7 1088.0 1172.2 1074.3 1173.7 1088.1 1175.2 1083.3 1176.7 1081.8 1178.2 1088.0 1179.7 1098.8 1181.2 1087.1 1182.7 1092.5 1184.2 1088.7 1185.7 1087.3 1187.2 1084.3 1188.7 1084.0 1190.2 1096.3 1191.7 1079.0 1193.2 1081.6 1194.7 1083.9 1196.2 1081.5 1197.7 1088.0 1199.2 1094.8 1200.7 1094.4 1202.2 1092.2 1203.7 1084.4 1205.2 1092.3 1206.7 1089.1 1208.2 1094.0 1209.7 1082.9 1211.2 1088.6 1212.7 1102.7 1214.2 1090.0 1215.7 1086.1 1217.2 1083.8 1218.7 1088.1 1220.2 1092.7 1221.7 1102.5 1223.2 1091.6 1224.7 1076.9 1226.2 1094.2 1227.7 1091.0 1229.2 1092.7 1230.7 1093.9 1232.2 1077.5 1233.7 1097.1 1235.2 1088.3 1236.7 1092.6 1238.2 1095.4 1239.7 1095.9 1241.2 1098.0 1242.7 1098.0 1244.2 1101.0 1245.7 1102.8 1247.2 1093.9 1248.7 1105.8 1250.2 1095.7 1251.7 1116.3 1253.2 1112.6 1254.7 1114.4 1256.2 1105.9 1257.7 1124.1 1259.2 1118.4 1260.7 1122.3 1262.2 1129.9 1263.7 1131.8 1265.2 1134.0 1266.7 1122.9 1268.2 1132.6 1269.7 1125.9 1271.2 1133.8 1272.7 1134.6 1274.2 1133.3 1275.7 1140.2 1277.2 1133.6 1278.7 1140.1 1280.2 1141.5 1281.7 1146.6 1283.2 1144.5 1284.7 1150.7 1286.2 1161.2 1287.7 1149.5 1289.2 1150.2 1290.7 1155.1 1292.2 1163.4 1293.7 1163.9 1295.2 1172.8 1296.7 1167.7 1298.2 1178.8 1299.7 1166.8 1301.2 1180.3 1302.7 1187.2 1304.2 1188.9 1305.7 1193.8 1307.2 1192.7 1308.7 1192.2 1310.2 1187.6 1311.7 1199.2 1313.2 1196.7 1314.7 1202.3 1316.2 1193.2 1317.7 1212.1 1319.2 1205.3 1320.7 1215.7 1322.2 1209.6 1323.7 1217.8 1325.2 1224.6 1326.7 1220.8 1328.2 1224.6 1329.7 1225.2 1331.2 1229.4 1332.7 1220.9 1334.2 1232.1 1335.7 1232.8 1337.2 1236.8 1338.7 1234.6 1340.2 1234.9 1341.7 1240.2 1343.2 1235.5 1344.7 1242.4 1346.2 1235.2 1347.7 1243.0 1349.2 1241.3 1350.7 1243.5 1352.2 1252.8 1353.7 1244.9 1355.2 1262.1 1356.7 1236.5 1358.2 1249.9 1359.7 1264.0 1361.2 1251.7 1362.7 1252.6 1364.2 1251.7 1365.7 1254.2 1367.2 1254.6 1368.7 1254.8 1370.2 1263.5 1371.7 1252.5 1373.2 1245.9 1374.7 1254.2 1376.2 1259.6 1377.7 1261.5 1379.2 1264.9 1380.7 1265.2 1382.2 1267.7 1383.7 1264.1 1385.2 1258.9 1386.7 1271.7 1388.2 1264.2 1389.7 1264.8 1391.2 1266.3 1392.7 1266.4 1394.2 1271.2 1395.7 1267.4 1397.2 1267.6 1398.7 1272.5 1400.2 1264.7 1401.7 1270.2 1403.2 1275.7 1404.7 1274.3 1406.2 1261.2 1407.7 1262.9 1409.2 1260.0 1410.7 1252.8 1412.2 1263.9 1413.7 1253.3 1415.2 1264.8 1416.7 1264.8 1418.2 1265.0 1419.7 1268.9 1421.2 1255.9 1422.7 1262.4 1424.2 1257.3 1425.7 1271.0 1427.2 1268.8 1428.7 1259.9 1430.2 1251.3 1431.7 1262.1 1433.2 1261.9 1434.7 1258.4 1436.2 1274.2 1437.7 1243.8 1439.2 1258.3 1440.7 1259.0 1442.2 1270.1 1443.7 1258.8 1445.2 1252.6 1446.7 1261.9 1448.2 1264.1 1449.7 1260.4 1451.2 1259.7 1452.7 1261.4 1454.2 1265.7 1455.7 1266.3 1457.2 1257.5 1458.7 1266.3 1460.2 1260.6 1461.7 1292.2 1463.2 1254.3 1464.7 1260.6 1466.2 1262.5 1467.7 1251.8 1469.2 1258.4 1470.7 1259.7 1472.2 1257.2 1473.7 1261.2 1475.2 1250.4 1476.7 1254.8 1478.2 1255.3 1479.7 1249.0 1481.2 1251.6 1482.7 1253.2 1484.2 1252.7 1485.7 1247.7 1487.2 1257.5 1488.7 1252.7 1490.2 1258.4 1491.7 1250.4 1493.2 1244.6 1494.7 1249.5 1496.2 1244.2 1497.7 1243.7 1499.2 1250.1 1500.7 1246.3 1502.2 1251.7 1503.7 1246.7 1505.2 1241.1 1506.7 1242.2 1508.2 1243.0 1509.7 1239.2 1511.2 1244.3 1512.7 1245.2 1514.2 1247.5 1515.7 1251.4 1517.2 1249.6 1518.7 1249.1 1520.2 1248.9 1521.7 1255.7 1523.2 1248.6 1524.7 1246.6 1526.2 1246.4 1527.7 1244.4 1529.2 1241.7 1530.7 1232.5 1532.2 1237.7 1533.7 1223.2 1535.2 1245.4 1536.7 1240.5 1538.2 1241.1 1539.7 1237.0 1541.2 1234.8 1542.7 1236.4 1544.2 1235.2 1545.7 1237.2 1547.2 1235.3 1548.7 1230.7 1550.2 1245.9 1551.7 1235.3 1553.2 1240.0 1554.7 1232.1 1556.2 1234.7 1557.7 1244.5 1559.2 1239.6 1560.7 1232.2 1562.2 1231.5 1563.7 1228.3 1565.2 1234.7 1566.7 1229.6 1568.2 1229.9 1569.7 1231.8 1571.2 1229.9 1572.7 1228.7 1574.2 1224.5 1575.7 1226.2 1577.2 1228.1 1578.7 1217.9 1580.2 1218.2 1581.7 1216.1 1583.2 1220.0 1584.7 1225.0 1586.2 1217.5 1587.7 1224.9 1589.2 1219.9 1590.7 1220.7 1592.2 1222.1 1593.7 1211.5 1595.2 1218.3 1596.7 1224.5 1598.2 1215.7 1599.7 1227.0 1601.2 1211.9 1602.7 1218.8 1604.2 1215.7 1605.7 1221.5 1607.2 1223.5 1608.7 1223.6 1610.2 1222.8 1611.7 1232.6 1613.2 1226.7 1614.7 1227.8 1616.2 1231.5 1617.7 1218.5 1619.2 1232.9 1620.7 1231.3 1622.2 1230.8 1623.7 1233.9 1625.2 1228.2 1626.7 1226.5 1628.2 1229.2 1629.7 1227.6 1631.2 1238.2 1632.7 1232.3 1634.2 1228.5 1635.7 1231.7 1637.2 1239.9 1638.7 1235.8 1640.2 1225.0 1641.7 1227.0 1643.2 1215.9 1644.7 1233.2 1646.2 1230.4 1647.7 1240.9 1649.2 1230.1 1650.7 1245.7 1652.2 1234.9 1653.7 1237.4 1655.2 1231.9 1656.7 1237.0 1658.2 1242.9 1659.7 1242.0 1661.2 1241.8 1662.7 1247.5 1664.2 1251.9 1665.7 1247.5 1667.2 1248.0 1668.7 1243.3 1670.2 1247.9 1671.7 1256.8 1673.2 1255.0 1674.7 1245.4 1676.2 1248.9 1677.7 1246.7 1679.2 1265.6 1680.7 1249.1 1682.2 1256.1 1683.7 1246.0 1685.2 1256.7 1686.7 1251.6 1688.2 1248.0 1689.7 1251.4 1691.2 1250.1 1692.7 1254.0 1694.2 1257.3 1695.7 1252.2 1697.2 1241.0 1698.7 1252.7 1700.2 1247.8 1701.7 1252.9 1703.2 1246.4 1704.7 1245.6 1706.2 1257.3 1707.7 1257.9 1709.2 1257.4 1710.7 1254.8 1712.2 1258.8 1713.7 1255.2 1715.2 1257.3 1716.7 1257.7 1718.2 1258.1 1719.7 1264.2 1721.2 1253.3 1722.7 1237.3 1724.2 1250.6 1725.7 1253.4 1727.2 1256.3 1728.7 1262.6 1730.2 1254.6 1731.7 1251.7 1733.2 1261.4 1734.7 1255.7 1736.2 1261.8 1737.7 1258.2 1739.2 1262.0 1740.7 1262.6 1742.2 1264.6 1743.7 1265.9 1745.2 1277.1 1746.7 1257.2 1748.2 1259.4 1749.7 1265.3 1751.2 1261.7 1752.7 1255.1 1754.2 1264.1 1755.7 1262.3 1757.2 1260.4 1758.7 1251.9 1760.2 1257.4 1761.7 1263.3 1763.2 1256.1 1764.7 1249.9 1766.2 1260.0 1767.7 1254.4 1769.2 1256.6 1770.7 1254.4 1772.2 1260.6 1773.7 1251.2 1775.2 1249.6 1776.7 1250.3 1778.2 1246.4 1779.7 1249.9 1781.2 1255.5 1782.7 1245.1 1784.2 1249.0 1785.7 1243.4 1787.2 1244.6 1788.7 1244.2 1790.2 1243.5 1791.7 1239.3 1793.2 1247.4 1794.7 1243.7 1796.2 1237.1 1797.7 1243.7 1799.2 1243.7 1800.7 1242.7 1802.2 1238.1 1803.7 1245.1 1805.2 1232.0 1806.7 1242.5 1808.2 1234.5 1809.7 1236.9 1811.2 1237.4 1812.7 1233.8 1814.2 1231.4 1815.7 1235.5 1817.2 1225.2 1818.7 1231.8 1820.2 1230.5 1821.7 1230.3 1823.2 1233.1 1824.7 1233.1 1826.2 1220.7 1827.7 1223.6 1829.2 1233.2 1830.7 1221.3 1832.2 1224.2 1833.7 1221.2 1835.2 1228.4 1836.7 1222.7 1838.2 1210.8 1839.7 1219.7 1841.2 1222.4 1842.7 1229.3 1844.2 1216.5 1845.7 1215.9 1847.2 1219.9 1848.7 1214.9 1850.2 1219.7 1851.7 1215.6 1853.2 1218.4 1854.7 1220.9 1856.2 1218.1 1857.7 1219.4 1859.2 1227.3 1860.7 1216.9 1862.2 1226.3 1863.7 1220.6 1865.2 1220.0 1866.7 1223.8 1868.2 1231.0 1869.7 1229.8 1871.2 1238.0 1872.7 1226.6 1874.2 1236.8 1875.7 1242.7 1877.2 1238.0 1878.7 1240.2 1880.2 1246.8 1881.7 1247.3 1883.2 1243.4 1884.7 1237.1 1886.2 1232.6 1887.7 1249.8 1889.2 1260.4 1890.7 1254.8 1892.2 1257.9 1893.7 1254.5 1895.2 1266.3 1896.7 1249.7 1898.2 1261.1 1899.7 1275.7 1901.2 1265.3 1902.7 1275.1 1904.2 1279.8 1905.7 1283.5 1907.2 1289.1 1908.7 1283.1 1910.2 1294.4 1911.7 1289.3 1913.2 1282.2 1914.7 1288.4 1916.2 1295.3 1917.7 1296.3 1919.2 1294.3 1920.7 1300.6 1922.2 1298.2 1923.7 1302.6 1925.2 1301.9 1926.7 1301.5 1928.2 1305.8 1929.7 1310.1 1931.2 1303.3 1932.7 1312.1 1934.2 1314.9 1935.7 1312.4 1937.2 1318.4 1938.7 1317.4 1940.2 1319.1 1941.7 1319.7 1943.2 1322.9 1944.7 1333.6 1946.2 1319.8 1947.7 1334.6 1949.2 1337.9 1950.7 1340.5 1952.2 1339.7 1953.7 1345.2 1955.2 1346.9 1956.7 1349.9 1958.2 1355.7 1959.7 1359.1 1961.2 1358.9 1962.7 1355.1 1964.2 1350.4 1965.7 1344.6 1967.2 1353.7 1968.7 1344.2 1970.2 1351.5 1971.7 1370.9 1973.2 1356.3 1974.7 1359.3 1976.2 1357.0 1977.7 1354.0 1979.2 1366.7 1980.7 1363.8 1982.2 1373.7 1983.7 1355.6 1985.2 1363.1 1986.7 1357.7 1988.2 1368.6 1989.7 1359.8 1991.2 1364.7 1992.7 1368.7 1994.2 1369.9 1995.7 1359.4 1997.2 1361.7 1998.7 1355.6 2000.2 1364.9 2001.7 1369.1 2003.2 1367.9 2004.7 1368.5 2006.2 1365.3 2007.7 1376.1 2009.2 1368.8 2010.7 1369.0 2012.2 1366.2 2013.7 1373.1 2015.2 1365.0 2016.7 1369.7 2018.2 1367.9 2019.7 1373.7 2021.2 1363.0 2022.7 1369.4 2024.2 1371.1 2025.7 1371.3 2027.2 1374.0 2028.7 1375.3 2030.2 1365.8 2031.7 1369.9 2033.2 1380.2 2034.7 1368.1 2036.2 1370.4 2037.7 1377.4 2039.2 1375.9 2040.7 1368.3 2042.2 1380.3 2043.7 1384.2 2045.2 1375.2 2046.7 1370.2 2048.2 1381.6 2049.7 1363.2 2051.2 1386.8 2052.7 1359.6 2054.2 1376.1 2055.7 1377.0 2057.2 1376.4 2058.7 1385.8 2060.2 1373.8 2061.7 1383.7 2063.2 1375.5 2064.7 1375.7 2066.2 1388.4 2067.7 1377.2 2069.2 1387.1 2070.7 1388.6 2072.2 1384.7 2073.7 1386.5 2075.2 1388.2 2076.7 1381.7 2078.2 1386.7 2079.7 1388.0 2081.2 1389.3 2082.7 1389.3 2084.2 1393.3 2085.7 1378.3 2087.2 1374.8 2088.7 1392.4 2090.2 1393.2 2091.7 1400.8 2093.2 1390.3 2094.7 1399.4 2096.2 1403.8 2097.7 1392.7 2099.2 1398.9 2100.7 1387.0 2102.2 1386.9 2103.7 1389.1 2105.2 1389.6 2106.7 1383.4 2108.2 1387.0 2109.7 1396.5 2111.2 1401.3 2112.7 1399.6 2114.2 1396.6 2115.7 1401.4 2117.2 1401.9 2118.7 1391.5 2120.2 1397.9 2121.7 1400.3 2123.2 1395.1 2124.7 1397.4 2126.2 1391.9 2127.7 1373.4 2129.2 1389.0 2130.7 1389.3 2132.2 1405.2 2133.7 1392.0 2135.2 1390.3 2136.7 1399.3 2138.2 1386.9 2139.7 1393.7 2141.2 1408.9 2142.7 1390.4 2144.2 1403.3 2145.7 1395.2 2147.2 1387.0 2148.7 1392.6 2150.2 1392.9 2151.7 1388.6" fill="none" stroke="#FF0000" stroke-width="11" stroke-linejoin="round" stroke-linecap="round"/>
<path d="M237.2 1136.9 238.7 1146.0 240.2 1129.4 241.7 1132.4 243.2 1130.1 244.7 1126.5 246.2 1131.1 247.7 1126.0 249.2 1125.5 250.7 1123.0 252.2 1125.1 253.7 1127.3 255.2 1124.3 256.7 1126.3 258.2 1128.1 259.7 1130.3 261.2 1130.8 262.7 1131.8 264.2 1133.1 265.7 1135.6 267.2 1135.9 268.7 1135.8 270.2 1138.6 271.7 1136.3 273.2 1136.8 274.7 1136.1 276.2 1140.3 277.7 1138.2 279.2 1138.4 280.7 1140.3 282.2 1138.8 283.7 1141.3 285.2 1141.4 286.7 1141.5 288.2 1143.5 289.7 1144.9 291.2 1144.7 292.7 1148.7 294.2 1147.3 295.7 1149.5 297.2 1153.2 298.7 1151.5 300.2 1156.6 301.7 1161.0 303.2 1162.4 304.7 1159.2 306.2 1158.2 307.7 1160.4 309.2 1163.6 310.7 1162.7 312.2 1162.4 313.7 1164.2 315.2 1153.7 316.7 1164.6 318.2 1160.1 319.7 1159.7 321.2 1162.1 322.7 1159.2 324.2 1166.6 325.7 1163.0 327.2 1165.7 328.7 1158.8 330.2 1160.8 331.7 1169.5 333.2 1161.7 334.7 1169.1 336.2 1158.7 337.7 1168.0 339.2 1169.1 340.7 1174.4 342.2 1170.4 343.7 1169.4 345.2 1162.9 346.7 1169.6 348.2 1174.2 349.7 1170.6 351.2 1163.0 352.7 1165.9 354.2 1169.4 355.7 1173.9 357.2 1170.2 358.7 1164.2 360.2 1185.3 361.7 1181.4 363.2 1176.2 364.7 1173.4 366.2 1176.5 367.7 1174.0 369.2 1177.1 370.7 1169.2 372.2 1177.8 373.7 1180.1 375.2 1178.3 376.7 1173.9 378.2 1171.3 379.7 1183.8 381.2 1176.7 382.7 1179.3 384.2 1184.0 385.7 1176.7 387.2 1190.9 388.7 1178.2 390.2 1180.0 391.7 1181.4 393.2 1178.9 394.7 1179.2 396.2 1181.4 397.7 1181.2 399.2 1174.9 400.7 1166.3 402.2 1173.9 403.7 1177.2 405.2 1164.8 406.7 1174.2 408.2 1170.1 409.7 1172.4 411.2 1169.3 412.7 1170.4 414.2 1168.2 415.7 1162.7 417.2 1162.7 418.7 1165.1 420.2 1167.2 421.7 1166.5 423.2 1166.6 424.7 1165.7 426.2 1174.7 427.7 1173.4 429.2 1164.5 430.7 1165.8 432.2 1167.3 433.7 1159.7 435.2 1168.3 436.7 1167.3 438.2 1168.0 439.7 1164.2 441.2 1177.0 442.7 1159.8 444.2 1166.3 445.7 1159.7 447.2 1164.3 448.7 1164.1 450.2 1156.9 451.7 1156.6 453.2 1158.9 454.7 1154.9 456.2 1152.9 457.7 1151.6 459.2 1149.0 460.7 1142.6 462.2 1153.1 463.7 1161.9 465.2 1152.5 466.7 1144.3 468.2 1151.6 469.7 1146.3 471.2 1145.5 472.7 1145.5 474.2 1140.7 475.7 1140.2 477.2 1140.8 478.7 1136.7 480.2 1131.1 481.7 1138.5 483.2 1134.4 484.7 1134.3 486.2 1134.0 487.7 1125.5 489.2 1131.2 490.7 1130.4 492.2 1128.0 493.7 1128.7 495.2 1132.4 496.7 1130.6 498.2 1131.9 499.7 1130.3 501.2 1138.5 502.7 1131.9 504.2 1137.8 505.7 1139.6 507.2 1139.4 508.7 1137.1 510.2 1139.6 511.7 1130.3 513.2 1151.2 514.7 1139.5 516.2 1135.0 517.7 1141.8 519.2 1143.1 520.7 1142.9 522.2 1143.8 523.7 1141.9 525.2 1143.8 526.7 1144.3 528.2 1148.3 529.7 1138.1 531.2 1146.7 532.7 1145.1 534.2 1143.0 535.7 1153.2 537.2 1157.4 538.7 1151.6 540.2 1155.4 541.7 1168.6 543.2 1167.1 544.7 1167.6 546.2 1167.5 547.7 1168.2 549.2 1170.8 550.7 1172.3 552.2 1171.8 553.7 1181.3 555.2 1172.6 556.7 1172.7 558.2 1171.0 559.7 1179.4 561.2 1175.5 562.7 1177.3 564.2 1185.9 565.7 1182.7 567.2 1171.8 568.7 1176.5 570.2 1182.7 571.7 1181.4 573.2 1183.5 574.7 1177.1 576.2 1188.2 577.7 1189.8 579.2 1187.6 580.7 1191.6 582.2 1176.1 583.7 1194.1 585.2 1195.7 586.7 1197.9 588.2 1201.8 589.7 1197.5 591.2 1208.3 592.7 1205.9 594.2 1208.2 595.7 1207.9 597.2 1209.9 598.7 1214.3 600.2 1215.0 601.7 1214.6 603.2 1217.1 604.7 1210.0 606.2 1223.3 607.7 1215.7 609.2 1209.2 610.7 1214.8 612.2 1212.3 613.7 1212.1 615.2 1201.6 616.7 1212.6 618.2 1204.6 619.7 1213.9 621.2 1213.8 622.7 1213.7 624.2 1216.8 625.7 1218.1 627.2 1217.5 628.7 1218.7 630.2 1221.1 631.7 1226.1 633.2 1222.7 634.7 1220.3 636.2 1220.3 637.7 1227.9 639.2 1224.2 640.7 1220.3 642.2 1223.4 643.7 1225.3 645.2 1227.5 646.7 1228.1 648.2 1226.7 649.7 1233.8 651.2 1232.8 652.7 1236.0 654.2 1230.8 655.7 1235.6 657.2 1234.0 658.7 1230.6 660.2 1233.1 661.7 1226.4 663.2 1223.7 664.7 1230.4 666.2 1216.3 667.7 1224.3 669.2 1219.3 670.7 1229.7 672.2 1226.3 673.7 1230.9 675.2 1232.9 676.7 1234.0 678.2 1230.2 679.7 1220.9 681.2 1232.6 682.7 1232.3 684.2 1230.5 685.7 1235.8 687.2 1234.3 688.7 1233.2 690.2 1233.1 691.7 1232.9 693.2 1230.0 694.7 1230.7 696.2 1232.9 697.7 1232.7 699.2 1231.6 700.7 1224.9 702.2 1230.6 703.7 1237.5 705.2 1225.2 706.7 1215.2 708.2 1227.0 709.7 1228.6 711.2 1233.1 712.7 1232.0 714.2 1236.8 715.7 1230.8 717.2 1226.8 718.7 1243.1 720.2 1233.1 721.7 1233.7 723.2 1235.7 724.7 1234.3 726.2 1232.7 727.7 1232.8 729.2 1233.4 730.7 1233.4 732.2 1245.7 733.7 1240.6 735.2 1236.3 736.7 1234.5 738.2 1236.7 739.7 1239.1 741.2 1235.1 742.7 1234.9 744.2 1236.5 745.7 1236.7 747.2 1240.7 748.7 1237.8 750.2 1236.3 751.7 1232.2 753.2 1232.9 754.7 1231.1 756.2 1236.5 757.7 1228.0 759.2 1228.9 760.7 1232.0 762.2 1230.7 763.7 1225.0 765.2 1232.4 766.7 1226.5 768.2 1236.6 769.7 1238.3 771.2 1235.3 772.7 1235.8 774.2 1239.4 775.7 1226.3 777.2 1234.9 778.7 1238.7 780.2 1242.9 781.7 1232.5 783.2 1232.0 784.7 1237.8 786.2 1234.1 787.7 1235.3 789.2 1237.4 790.7 1233.2 792.2 1245.9 793.7 1239.0 795.2 1231.4 796.7 1246.6 798.2 1239.3 799.7 1237.8 801.2 1242.1 802.7 1240.4 804.2 1242.9 805.7 1238.7 807.2 1241.0 808.7 1242.1 810.2 1238.3 811.7 1237.6 813.2 1235.7 814.7 1237.0 816.2 1238.7 817.7 1235.8 819.2 1237.8 820.7 1238.7 822.2 1232.4 823.7 1232.5 825.2 1232.1 826.7 1229.6 828.2 1232.2 829.7 1233.4 831.2 1234.5 832.7 1228.9 834.2 1228.1 835.7 1231.6 837.2 1232.9 838.7 1228.0 840.2 1232.4 841.7 1233.1 843.2 1238.0 844.7 1234.0 846.2 1237.0 847.7 1229.3 849.2 1233.0 850.7 1232.6 852.2 1224.6 853.7 1231.8 855.2 1230.3 856.7 1227.3 858.2 1228.7 859.7 1221.8 861.2 1228.1 862.7 1220.5 864.2 1230.6 865.7 1232.6 867.2 1232.2 868.7 1230.6 870.2 1234.4 871.7 1220.4 873.2 1233.6 874.7 1232.7 876.2 1236.8 877.7 1240.5 879.2 1223.6 880.7 1230.4 882.2 1231.9 883.7 1228.8 885.2 1230.5 886.7 1234.3 888.2 1233.4 889.7 1234.7 891.2 1234.4 892.7 1237.1 894.2 1237.1 895.7 1238.1 897.2 1238.3 898.7 1239.2 900.2 1238.1 901.7 1238.3 903.2 1237.0 904.7 1230.8 906.2 1233.9 907.7 1252.8 909.2 1237.3 910.7 1237.4 912.2 1242.5 913.7 1245.2 915.2 1246.6 916.7 1249.4 918.2 1248.3 919.7 1245.6 921.2 1249.9 922.7 1251.6 924.2 1247.7 925.7 1248.5 927.2 1253.4 928.7 1247.1 930.2 1246.7 931.7 1248.8 933.2 1249.8 934.7 1247.2 936.2 1246.2 937.7 1250.4 939.2 1251.1 940.7 1250.2 942.2 1251.6 943.7 1251.5 945.2 1257.0 946.7 1252.1 948.2 1247.6 949.7 1250.5 951.2 1256.5 952.7 1255.8 954.2 1254.1 955.7 1255.5 957.2 1250.3 958.7 1257.2 960.2 1257.0 961.7 1254.7 963.2 1257.6 964.7 1256.7 966.2 1260.0 967.7 1246.2 969.2 1257.6 970.7 1260.7 972.2 1258.2 973.7 1260.3 975.2 1262.1 976.7 1261.1 978.2 1258.9 979.7 1258.3 981.2 1258.7 982.7 1259.3 984.2 1253.2 985.7 1257.7 987.2 1255.8 988.7 1258.2 990.2 1255.1 991.7 1271.5 993.2 1264.1 994.7 1265.3 996.2 1260.0 997.7 1267.2 999.2 1263.8 1000.7 1265.0 1002.2 1265.8 1003.7 1266.1 1005.2 1256.4 1006.7 1269.6 1008.2 1265.2 1009.7 1261.9 1011.2 1262.3 1012.7 1266.3 1014.2 1259.2 1015.7 1259.8 1017.2 1257.8 1018.7 1255.0 1020.2 1257.3 1021.7 1259.1 1023.2 1257.1 1024.7 1263.5 1026.2 1259.3 1027.7 1262.3 1029.2 1262.3 1030.7 1264.1 1032.2 1263.2 1033.7 1264.5 1035.2 1260.3 1036.7 1264.4 1038.2 1264.4 1039.7 1264.7 1041.2 1259.9 1042.7 1261.1 1044.2 1264.5 1045.7 1262.9 1047.2 1257.8 1048.7 1261.7 1050.2 1257.2 1051.7 1260.6 1053.2 1265.8 1054.7 1258.0 1056.2 1256.7 1057.7 1255.7 1059.2 1257.2 1060.7 1255.4 1062.2 1251.7 1063.7 1249.9 1065.2 1270.9 1066.7 1243.9 1068.2 1252.0 1069.7 1247.2 1071.2 1251.3 1072.7 1252.1 1074.2 1251.3 1075.7 1250.0 1077.2 1256.0 1078.7 1254.3 1080.2 1249.3 1081.7 1255.2 1083.2 1242.6 1084.7 1256.4 1086.2 1257.8 1087.7 1255.0 1089.2 1241.5 1090.7 1257.9 1092.2 1247.3 1093.7 1248.3 1095.2 1246.7 1096.7 1247.2 1098.2 1235.8 1099.7 1251.1 1101.2 1245.0 1102.7 1248.8 1104.2 1243.3 1105.7 1237.8 1107.2 1244.2 1108.7 1234.9 1110.2 1233.3 1111.7 1237.9 1113.2 1236.0 1114.7 1235.8 1116.2 1237.6 1117.7 1231.2 1119.2 1240.1 1120.7 1234.4 1122.2 1233.9 1123.7 1234.3 1125.2 1227.5 1126.7 1232.0 1128.2 1226.1 1129.7 1228.7 1131.2 1223.9 1132.7 1226.1 1134.2 1232.0 1135.7 1229.9 1137.2 1229.4 1138.7 1231.9 1140.2 1230.1 1141.7 1229.8 1143.2 1229.0 1144.7 1232.1 1146.2 1229.4 1147.7 1229.0 1149.2 1230.3 1150.7 1229.9 1152.2 1231.1 1153.7 1227.6 1155.2 1232.2 1156.7 1232.2 1158.2 1234.6 1159.7 1233.8 1161.2 1231.8 1162.7 1239.0 1164.2 1229.2 1165.7 1235.6 1167.2 1233.9 1168.7 1232.3 1170.2 1229.7 1171.7 1227.5 1173.2 1226.6 1174.7 1230.3 1176.2 1232.2 1177.7 1231.4 1179.2 1228.2 1180.7 1229.9 1182.2 1226.4 1183.7 1229.8 1185.2 1235.3 1186.7 1226.6 1188.2 1231.1 1189.7 1233.3 1191.2 1244.9 1192.7 1232.5 1194.2 1232.5 1195.7 1230.2 1197.2 1233.4 1198.7 1235.4 1200.2 1235.4 1201.7 1230.8 1203.2 1232.0 1204.7 1237.8 1206.2 1238.0 1207.7 1227.9 1209.2 1231.6 1210.7 1230.9 1212.2 1226.1 1213.7 1229.5 1215.2 1227.0 1216.7 1230.5 1218.2 1232.1 1219.7 1236.2 1221.2 1225.2 1222.7 1229.6 1224.2 1233.2 1225.7 1234.6 1227.2 1229.7 1228.7 1231.9 1230.2 1225.6 1231.7 1228.8 1233.2 1232.8 1234.7 1229.3 1236.2 1233.0 1237.7 1234.3 1239.2 1229.7 1240.7 1228.2 1242.2 1234.8 1243.7 1238.2 1245.2 1237.1 1246.7 1236.2 1248.2 1237.8 1249.7 1241.7 1251.2 1238.3 1252.7 1237.4 1254.2 1248.5 1255.7 1257.2 1257.2 1246.5 1258.7 1250.6 1260.2 1254.5 1261.7 1256.9 1263.2 1254.9 1264.7 1259.7 1266.2 1256.9 1267.7 1259.0 1269.2 1268.4 1270.7 1262.3 1272.2 1259.9 1273.7 1265.1 1275.2 1264.8 1276.7 1264.2 1278.2 1268.4 1279.7 1267.3 1281.2 1277.4 1282.7 1251.8 1284.2 1264.7 1285.7 1274.0 1287.2 1274.7 1288.7 1276.1 1290.2 1275.6 1291.7 1281.2 1293.2 1284.8 1294.7 1286.5 1296.2 1294.8 1297.7 1293.9 1299.2 1291.8 1300.7 1291.2 1302.2 1294.3 1303.7 1304.7 1305.2 1309.3 1306.7 1305.5 1308.2 1312.1 1309.7 1315.3 1311.2 1315.7 1312.7 1320.0 1314.2 1329.7 1315.7 1341.8 1317.2 1326.8 1318.7 1315.7 1320.2 1328.3 1321.7 1330.9 1323.2 1323.1 1324.7 1332.8 1326.2 1335.3 1327.7 1337.8 1329.2 1339.7 1330.7 1339.3 1332.2 1345.1 1333.7 1348.1 1335.2 1344.7 1336.7 1343.3 1338.2 1348.4 1339.7 1345.0 1341.2 1343.5 1342.7 1352.7 1344.2 1345.5 1345.7 1349.7 1347.2 1346.9 1348.7 1358.0 1350.2 1351.6 1351.7 1351.4 1353.2 1356.4 1354.7 1359.6 1356.2 1350.4 1357.7 1351.2 1359.2 1348.9 1360.7 1346.5 1362.2 1349.1 1363.7 1348.5 1365.2 1349.4 1366.7 1334.6 1368.2 1349.7 1369.7 1350.0 1371.2 1348.3 1372.7 1353.9 1374.2 1353.9 1375.7 1355.5 1377.2 1362.1 1378.7 1357.1 1380.2 1360.3 1381.7 1368.8 1383.2 1361.8 1384.7 1369.7 1386.2 1368.4 1387.7 1368.1 1389.2 1361.1 1390.7 1366.2 1392.2 1374.0 1393.7 1372.5 1395.2 1365.4 1396.7 1366.1 1398.2 1372.4 1399.7 1370.6 1401.2 1372.0 1402.7 1361.2 1404.2 1368.4 1405.7 1362.2 1407.2 1366.0 1408.7 1381.9 1410.2 1367.4 1411.7 1364.4 1413.2 1363.5 1414.7 1365.6 1416.2 1369.3 1417.7 1363.3 1419.2 1361.1 1420.7 1368.9 1422.2 1362.8 1423.7 1367.6 1425.2 1364.7 1426.7 1364.9 1428.2 1356.4 1429.7 1365.0 1431.2 1364.7 1432.7 1366.0 1434.2 1368.5 1435.7 1369.5 1437.2 1369.9 1438.7 1363.7 1440.2 1362.0 1441.7 1364.4 1443.2 1373.2 1444.7 1367.2 1446.2 1360.6 1447.7 1364.4 1449.2 1370.6 1450.7 1365.9 1452.2 1366.5 1453.7 1357.6 1455.2 1363.9 1456.7 1361.2 1458.2 1366.2 1459.7 1362.1 1461.2 1369.1 1462.7 1360.4 1464.2 1356.8 1465.7 1355.8 1467.2 1359.4 1468.7 1363.0 1470.2 1362.6 1471.7 1361.9 1473.2 1354.9 1474.7 1355.5 1476.2 1361.3 1477.7 1358.8 1479.2 1364.7 1480.7 1362.4 1482.2 1355.4 1483.7 1361.3 1485.2 1359.1 1486.7 1358.3 1488.2 1360.7 1489.7 1360.1 1491.2 1356.8 1492.7 1349.7 1494.2 1364.2 1495.7 1359.3 1497.2 1359.6 1498.7 1356.0 1500.2 1354.0 1501.7 1364.7 1503.2 1358.9 1504.7 1364.9 1506.2 1358.0 1507.7 1362.0 1509.2 1362.3 1510.7 1349.2 1512.2 1362.6 1513.7 1357.7 1515.2 1364.0 1516.7 1361.1 1518.2 1364.7 1519.7 1363.8 1521.2 1353.9 1522.7 1359.2 1524.2 1358.0 1525.7 1359.4 1527.2 1355.6 1528.7 1354.0 1530.2 1356.2 1531.7 1354.7 1533.2 1350.1 1534.7 1351.8 1536.2 1351.7 1537.7 1350.3 1539.2 1367.6 1540.7 1346.3 1542.2 1342.4 1543.7 1351.5 1545.2 1346.3 1546.7 1347.1 1548.2 1346.3 1549.7 1349.4 1551.2 1349.0 1552.7 1347.6 1554.2 1354.7 1555.7 1351.7 1557.2 1346.7 1558.7 1343.4 1560.2 1351.6 1561.7 1348.9 1563.2 1347.5 1564.7 1343.3 1566.2 1345.9 1567.7 1347.2 1569.2 1355.3 1570.7 1349.0 1572.2 1347.7 1573.7 1347.4 1575.2 1354.4 1576.7 1347.7 1578.2 1346.8 1579.7 1340.7 1581.2 1348.2 1582.7 1347.2 1584.2 1345.1 1585.7 1350.8 1587.2 1345.3 1588.7 1348.7 1590.2 1347.4 1591.7 1347.4 1593.2 1339.5 1594.7 1343.5 1596.2 1339.4 1597.7 1346.2 1599.2 1334.0 1600.7 1346.0 1602.2 1344.8 1603.7 1343.7 1605.2 1344.3 1606.7 1350.4 1608.2 1352.6 1609.7 1351.6 1611.2 1355.5 1612.7 1354.7 1614.2 1354.8 1615.7 1356.5 1617.2 1353.7 1618.7 1360.3 1620.2 1355.1 1621.7 1357.7 1623.2 1354.2 1624.7 1358.9 1626.2 1359.4 1627.7 1364.5 1629.2 1348.4 1630.7 1358.8 1632.2 1362.0 1633.7 1369.0 1635.2 1358.0 1636.7 1353.7 1638.2 1360.5 1639.7 1355.5 1641.2 1361.3 1642.7 1364.1 1644.2 1363.5 1645.7 1365.7 1647.2 1366.7 1648.7 1363.5 1650.2 1369.2 1651.7 1366.8 1653.2 1366.2 1654.7 1367.1 1656.2 1368.4 1657.7 1365.6 1659.2 1370.3 1660.7 1380.9 1662.2 1370.5 1663.7 1377.6 1665.2 1379.6 1666.7 1386.7 1668.2 1378.2 1669.7 1377.6 1671.2 1379.4 1672.7 1378.4 1674.2 1376.1 1675.7 1377.4 1677.2 1378.0 1678.7 1383.8 1680.2 1380.6 1681.7 1383.2 1683.2 1377.8 1684.7 1382.9 1686.2 1385.4 1687.7 1394.6 1689.2 1391.6 1690.7 1390.4 1692.2 1395.3 1693.7 1390.2 1695.2 1389.3 1696.7 1385.9 1698.2 1383.2 1699.7 1384.6 1701.2 1382.3 1702.7 1385.9 1704.2 1382.8 1705.7 1386.7 1707.2 1402.3 1708.7 1391.9 1710.2 1387.9 1711.7 1389.1 1713.2 1392.5 1714.7 1394.5 1716.2 1393.0 1717.7 1393.8 1719.2 1390.1 1720.7 1391.5 1722.2 1390.0 1723.7 1393.6 1725.2 1393.3 1726.7 1395.1 1728.2 1392.2 1729.7 1396.2 1731.2 1395.3 1732.7 1397.0 1734.2 1396.7 1735.7 1398.2 1737.2 1387.8 1738.7 1389.8 1740.2 1387.1 1741.7 1389.7 1743.2 1395.1 1744.7 1397.9 1746.2 1400.1 1747.7 1392.0 1749.2 1392.8 1750.7 1392.1 1752.2 1391.7 1753.7 1392.3 1755.2 1382.2 1756.7 1390.2 1758.2 1400.3 1759.7 1391.3 1761.2 1400.9 1762.7 1396.7 1764.2 1389.8 1765.7 1395.4 1767.2 1394.8 1768.7 1396.2 1770.2 1394.8 1771.7 1395.6 1773.2 1399.3 1774.7 1393.1 1776.2 1388.7 1777.7 1395.9 1779.2 1393.0 1780.7 1382.7 1782.2 1386.3 1783.7 1386.1 1785.2 1389.4 1786.7 1381.0 1788.2 1383.2 1789.7 1370.9 1791.2 1378.5 1792.7 1378.7 1794.2 1380.0 1795.7 1381.6 1797.2 1382.4 1798.7 1382.5 1800.2 1383.5 1801.7 1381.9 1803.2 1380.2 1804.7 1378.6 1806.2 1379.5 1807.7 1379.4 1809.2 1381.2 1810.7 1377.4 1812.2 1378.6 1813.7 1379.7 1815.2 1379.2 1816.7 1376.8 1818.2 1381.2 1819.7 1374.8 1821.2 1380.0 1822.7 1378.6 1824.2 1379.4 1825.7 1374.0 1827.2 1375.2 1828.7 1375.4 1830.2 1368.5 1831.7 1373.4 1833.2 1368.0 1834.7 1374.8 1836.2 1367.9 1837.7 1370.0 1839.2 1370.4 1840.7 1367.0 1842.2 1372.5 1843.7 1370.5 1845.2 1378.3 1846.7 1373.1 1848.2 1366.8 1849.7 1370.8 1851.2 1368.8 1852.7 1375.9 1854.2 1372.6 1855.7 1373.0 1857.2 1365.2 1858.7 1377.8 1860.2 1372.7 1861.7 1372.3 1863.2 1370.6 1864.7 1370.5 1866.2 1364.3 1867.7 1369.3 1869.2 1369.5 1870.7 1360.6 1872.2 1369.9 1873.7 1372.2 1875.2 1373.1 1876.7 1379.8 1878.2 1379.7 1879.7 1368.8 1881.2 1372.4 1882.7 1383.8 1884.2 1384.3 1885.7 1388.1 1887.2 1388.3 1888.7 1391.0 1890.2 1392.9 1891.7 1384.3 1893.2 1393.8 1894.7 1396.0 1896.2 1400.5 1897.7 1402.9 1899.2 1404.8 1900.7 1408.4 1902.2 1419.6 1903.7 1410.7 1905.2 1410.8 1906.7 1417.9 1908.2 1419.0 1909.7 1428.1 1911.2 1423.8 1912.7 1419.5 1914.2 1421.4 1915.7 1424.7 1917.2 1418.7 1918.7 1428.9 1920.2 1430.1 1921.7 1430.3 1923.2 1436.4 1924.7 1439.0 1926.2 1440.9 1927.7 1441.4 1929.2 1436.3 1930.7 1445.1 1932.2 1452.0 1933.7 1453.0 1935.2 1453.5 1936.7 1452.8 1938.2 1453.4 1939.7 1453.3 1941.2 1456.4 1942.7 1453.3 1944.2 1452.7 1945.7 1456.2 1947.2 1456.8 1948.7 1451.5 1950.2 1456.6 1951.7 1459.4 1953.2 1457.4 1954.7 1461.4 1956.2 1465.6 1957.7 1463.4 1959.2 1467.5 1960.7 1465.7 1962.2 1472.7 1963.7 1477.3 1965.2 1468.5 1966.7 1470.4 1968.2 1468.9 1969.7 1469.7 1971.2 1474.3 1972.7 1466.6 1974.2 1475.7 1975.7 1478.1 1977.2 1469.8 1978.7 1464.1 1980.2 1477.3 1981.7 1482.5 1983.2 1480.0 1984.7 1475.2 1986.2 1476.9 1987.7 1475.9 1989.2 1475.8 1990.7 1481.6 1992.2 1479.8 1993.7 1479.1 1995.2 1480.7 1996.7 1475.9 1998.2 1485.5 1999.7 1471.3 2001.2 1480.1 2002.7 1480.8 2004.2 1479.1 2005.7 1487.2 2007.2 1485.8 2008.7 1487.4 2010.2 1493.2 2011.7 1493.6 2013.2 1482.1 2014.7 1495.9 2016.2 1487.2 2017.7 1480.4 2019.2 1489.1 2020.7 1476.4 2022.2 1486.5 2023.7 1483.5 2025.2 1482.3 2026.7 1490.0 2028.2 1478.4 2029.7 1492.5 2031.2 1486.7 2032.7 1487.3 2034.2 1490.8 2035.7 1491.9 2037.2 1490.1 2038.7 1493.1 2040.2 1494.0 2041.7 1494.5 2043.2 1492.1 2044.7 1495.0 2046.2 1496.7 2047.7 1494.6 2049.2 1494.4 2050.7 1495.3 2052.2 1494.9 2053.7 1496.7 2055.2 1501.6 2056.7 1498.3 2058.2 1499.4 2059.7 1494.5 2061.2 1498.4 2062.7 1494.7 2064.2 1499.4 2065.7 1498.5 2067.2 1499.3 2068.7 1498.4 2070.2 1497.4 2071.7 1498.0 2073.2 1498.3 2074.7 1498.8 2076.2 1499.3 2077.7 1499.6 2079.2 1496.8 2080.7 1506.5 2082.2 1503.6 2083.7 1497.3 2085.2 1497.7 2086.7 1502.5 2088.2 1499.7 2089.7 1497.7 2091.2 1498.2 2092.7 1499.7 2094.2 1502.6 2095.7 1499.7 2097.2 1499.1 2098.7 1496.8 2100.2 1497.3 2101.7 1492.6 2103.2 1497.4 2104.7 1496.1 2106.2 1496.1 2107.7 1496.4 2109.2 1494.7 2110.7 1500.7 2112.2 1497.7 2113.7 1489.9 2115.2 1490.0 2116.7 1503.4 2118.2 1496.8 2119.7 1495.4 2121.2 1494.8 2122.7 1496.3 2124.2 1498.1 2125.7 1498.9 2127.2 1499.3 2128.7 1496.8 2130.2 1498.8 2131.7 1500.1 2133.2 1494.7 2134.7 1498.7 2136.2 1498.5 2137.7 1498.5 2139.2 1498.8 2140.7 1500.5 2142.2 1498.4" fill="none" stroke="#FF3399" stroke-width="10" stroke-linejoin="round" stroke-linecap="round"/>
<path d="M237.2 1267.8 238.7 1249.1 240.2 1254.1 241.7 1259.8 243.2 1270.0 244.7 1257.3 246.2 1260.4 247.7 1258.6 249.2 1260.0 250.7 1253.6 252.2 1261.7 253.7 1253.5 255.2 1270.2 256.7 1256.3 258.2 1259.5 259.7 1255.1 261.2 1266.6 262.7 1266.0 264.2 1268.7 265.7 1271.5 267.2 1262.3 268.7 1268.5 270.2 1270.0 271.7 1264.9 273.2 1264.7 274.7 1255.5 276.2 1274.0 277.7 1272.6 279.2 1279.1 280.7 1270.7 282.2 1275.1 283.7 1287.9 285.2 1274.9 286.7 1277.8 288.2 1295.3 289.7 1287.0 291.2 1288.3 292.7 1282.4 294.2 1291.8 295.7 1285.5 297.2 1289.2 298.7 1291.8 300.2 1294.1 301.7 1289.0 303.2 1298.7 304.7 1289.9 306.2 1297.6 307.7 1299.5 309.2 1285.6 310.7 1295.5 312.2 1296.4 313.7 1298.0 315.2 1294.6 316.7 1301.6 318.2 1310.7 319.7 1292.2 321.2 1306.3 322.7 1296.1 324.2 1297.5 325.7 1296.4 327.2 1298.8 328.7 1295.0 330.2 1301.2 331.7 1298.4 333.2 1300.9 334.7 1312.3 336.2 1299.3 337.7 1305.3 339.2 1313.2 340.7 1310.1 342.2 1324.5 343.7 1309.0 345.2 1309.3 346.7 1306.4 348.2 1305.2 349.7 1308.5 351.2 1308.6 352.7 1308.5 354.2 1311.1 355.7 1315.4 357.2 1322.6 358.7 1314.1 360.2 1314.7 361.7 1324.3 363.2 1313.0 364.7 1309.6 366.2 1310.8 367.7 1306.9 369.2 1308.8 370.7 1310.1 372.2 1315.3 373.7 1306.9 375.2 1311.9 376.7 1309.0 378.2 1295.6 379.7 1304.8 381.2 1304.6 382.7 1298.7 384.2 1311.2 385.7 1299.0 387.2 1304.7 388.7 1313.3 390.2 1310.9 391.7 1314.5 393.2 1309.7 394.7 1312.4 396.2 1306.5 397.7 1305.5 399.2 1302.6 400.7 1304.3 402.2 1299.4 403.7 1304.2 405.2 1308.8 406.7 1304.1 408.2 1304.8 409.7 1299.6 411.2 1306.7 412.7 1308.3 414.2 1317.4 415.7 1306.9 417.2 1304.3 418.7 1305.1 420.2 1301.7 421.7 1312.5 423.2 1301.3 424.7 1295.2 426.2 1285.8 427.7 1296.7 429.2 1293.9 430.7 1296.7 432.2 1293.7 433.7 1287.3 435.2 1289.5 436.7 1288.0 438.2 1283.1 439.7 1281.3 441.2 1282.7 442.7 1278.4 444.2 1272.0 445.7 1275.1 447.2 1272.7 448.7 1265.1 450.2 1268.5 451.7 1276.3 453.2 1265.3 454.7 1265.5 456.2 1251.5 457.7 1254.8 459.2 1257.3 460.7 1249.3 462.2 1253.3 463.7 1255.8 465.2 1249.6 466.7 1248.9 468.2 1245.2 469.7 1239.9 471.2 1240.3 472.7 1238.9 474.2 1232.9 475.7 1235.2 477.2 1234.8 478.7 1231.3 480.2 1227.9 481.7 1231.3 483.2 1224.9 484.7 1226.9 486.2 1232.4 487.7 1221.0 489.2 1226.6 490.7 1226.9 492.2 1221.6 493.7 1220.3 495.2 1220.5 496.7 1218.8 498.2 1227.2 499.7 1217.5 501.2 1229.5 502.7 1227.5 504.2 1226.4 505.7 1235.2 507.2 1235.8 508.7 1221.0 510.2 1224.6 511.7 1234.0 513.2 1228.6 514.7 1225.8 516.2 1224.4 517.7 1215.6 519.2 1237.8 520.7 1233.8 522.2 1230.7 523.7 1232.4 525.2 1235.5 526.7 1232.9 528.2 1235.8 529.7 1237.1 531.2 1250.7 532.7 1248.4 534.2 1257.1 535.7 1254.0 537.2 1250.0 538.7 1261.9 540.2 1256.1 541.7 1268.1 543.2 1261.1 544.7 1265.5 546.2 1273.5 547.7 1275.6 549.2 1274.5 550.7 1274.9 552.2 1284.0 553.7 1296.6 555.2 1295.8 556.7 1286.4 558.2 1288.6 559.7 1302.3 561.2 1289.1 562.7 1295.8 564.2 1294.9 565.7 1301.5 567.2 1302.9 568.7 1312.6 570.2 1318.6 571.7 1324.1 573.2 1322.8 574.7 1318.8 576.2 1327.6 577.7 1327.5 579.2 1330.8 580.7 1334.1 582.2 1332.6 583.7 1340.5 585.2 1337.6 586.7 1340.9 588.2 1338.8 589.7 1340.3 591.2 1347.9 592.7 1338.2 594.2 1338.7 595.7 1349.2 597.2 1347.8 598.7 1348.3 600.2 1346.3 601.7 1350.3 603.2 1358.7 604.7 1361.6 606.2 1359.1 607.7 1361.4 609.2 1365.9 610.7 1362.9 612.2 1368.5 613.7 1374.8 615.2 1376.0 616.7 1372.5 618.2 1379.2 619.7 1371.5 621.2 1373.9 622.7 1372.1 624.2 1372.2 625.7 1376.3 627.2 1376.0 628.7 1377.2 630.2 1376.4 631.7 1375.4 633.2 1378.8 634.7 1380.4 636.2 1382.4 637.7 1384.4 639.2 1387.1 640.7 1390.2 642.2 1388.3 643.7 1387.0 645.2 1395.5 646.7 1384.4 648.2 1390.7 649.7 1388.7 651.2 1395.7 652.7 1392.7 654.2 1400.4 655.7 1398.5 657.2 1389.1 658.7 1385.0 660.2 1396.0 661.7 1395.5 663.2 1393.1 664.7 1397.7 666.2 1393.2 667.7 1395.2 669.2 1396.3 670.7 1397.3 672.2 1393.8 673.7 1395.6 675.2 1397.3 676.7 1406.3 678.2 1400.8 679.7 1396.3 681.2 1410.9 682.7 1407.0 684.2 1400.1 685.7 1405.5 687.2 1403.1 688.7 1402.4 690.2 1401.5 691.7 1402.1 693.2 1407.1 694.7 1402.8 696.2 1405.2 697.7 1403.6 699.2 1408.4 700.7 1402.0 702.2 1401.6 703.7 1399.2 705.2 1403.9 706.7 1404.1 708.2 1404.1 709.7 1406.9 711.2 1399.0 712.7 1406.5 714.2 1403.7 715.7 1403.0 717.2 1402.0 718.7 1404.3 720.2 1402.0 721.7 1403.3 723.2 1397.0 724.7 1405.3 726.2 1405.9 727.7 1410.4 729.2 1406.2 730.7 1403.7 732.2 1405.7 733.7 1410.5 735.2 1406.4 736.7 1408.1 738.2 1400.0 739.7 1405.1 741.2 1407.9 742.7 1405.7 744.2 1406.5 745.7 1409.7 747.2 1400.0 748.7 1403.1 750.2 1397.8 751.7 1390.9 753.2 1399.0 754.7 1399.3 756.2 1399.0 757.7 1398.8 759.2 1392.5 760.7 1408.5 762.2 1400.8 763.7 1397.8 765.2 1401.7 766.7 1391.9 768.2 1384.4 769.7 1389.4 771.2 1395.2 772.7 1392.0 774.2 1397.5 775.7 1394.1 777.2 1400.9 778.7 1404.7 780.2 1400.7 781.7 1377.9 783.2 1411.0 784.7 1402.6 786.2 1394.7 787.7 1392.3 789.2 1395.0 790.7 1395.3 792.2 1391.4 793.7 1400.8 795.2 1410.0 796.7 1396.0 798.2 1396.0 799.7 1395.2 801.2 1395.2 802.7 1380.4 804.2 1392.4 805.7 1386.7 807.2 1392.1 808.7 1389.7 810.2 1387.2 811.7 1388.0 813.2 1387.3 814.7 1386.1 816.2 1381.0 817.7 1388.4 819.2 1378.6 820.7 1388.4 822.2 1390.3 823.7 1385.7 825.2 1386.0 826.7 1384.2 828.2 1389.7 829.7 1387.5 831.2 1388.6 832.7 1387.3 834.2 1386.8 835.7 1393.7 837.2 1388.9 838.7 1382.3 840.2 1389.0 841.7 1385.3 843.2 1367.8 844.7 1378.4 846.2 1390.4 847.7 1384.0 849.2 1387.0 850.7 1392.8 852.2 1378.8 853.7 1390.8 855.2 1382.3 856.7 1394.1 858.2 1380.5 859.7 1382.3 861.2 1387.4 862.7 1384.9 864.2 1377.6 865.7 1377.8 867.2 1388.3 868.7 1380.6 870.2 1381.9 871.7 1382.7 873.2 1376.8 874.7 1385.3 876.2 1382.3 877.7 1376.8 879.2 1385.1 880.7 1373.9 882.2 1390.0 883.7 1384.7 885.2 1381.1 886.7 1374.0 888.2 1373.6 889.7 1372.4 891.2 1377.2 892.7 1383.7 894.2 1381.5 895.7 1378.8 897.2 1379.5 898.7 1383.9 900.2 1379.6 901.7 1383.8 903.2 1380.8 904.7 1377.6 906.2 1387.2 907.7 1389.1 909.2 1388.7 910.7 1389.0 912.2 1399.4 913.7 1393.2 915.2 1380.1 916.7 1392.4 918.2 1400.5 919.7 1392.0 921.2 1393.1 922.7 1397.3 924.2 1399.0 925.7 1395.6 927.2 1403.2 928.7 1398.0 930.2 1402.6 931.7 1400.3 933.2 1402.6 934.7 1402.2 936.2 1400.4 937.7 1401.6 939.2 1403.5 940.7 1400.3 942.2 1396.4 943.7 1401.6 945.2 1395.2 946.7 1400.7 948.2 1420.3 949.7 1413.3 951.2 1414.3 952.7 1418.0 954.2 1407.2 955.7 1421.9 957.2 1416.5 958.7 1399.1 960.2 1407.0 961.7 1415.6 963.2 1418.3 964.7 1424.9 966.2 1413.0 967.7 1418.1 969.2 1422.4 970.7 1423.1 972.2 1425.1 973.7 1429.7 975.2 1432.4 976.7 1429.3 978.2 1429.3 979.7 1432.0 981.2 1436.9 982.7 1433.2 984.2 1437.4 985.7 1427.7 987.2 1431.9 988.7 1436.7 990.2 1429.5 991.7 1432.1 993.2 1430.2 994.7 1436.0 996.2 1434.3 997.7 1432.5 999.2 1431.3 1000.7 1432.6 1002.2 1440.1 1003.7 1429.6 1005.2 1436.3 1006.7 1440.5 1008.2 1435.2 1009.7 1436.8 1011.2 1430.6 1012.7 1434.0 1014.2 1434.4 1015.7 1435.1 1017.2 1432.8 1018.7 1429.4 1020.2 1435.4 1021.7 1439.0 1023.2 1433.0 1024.7 1439.5 1026.2 1437.1 1027.7 1432.1 1029.2 1423.3 1030.7 1421.1 1032.2 1430.1 1033.7 1424.3 1035.2 1430.6 1036.7 1431.3 1038.2 1431.9 1039.7 1430.1 1041.2 1429.9 1042.7 1421.6 1044.2 1428.1 1045.7 1433.0 1047.2 1426.3 1048.7 1422.6 1050.2 1422.6 1051.7 1428.2 1053.2 1423.2 1054.7 1427.1 1056.2 1430.2 1057.7 1429.3 1059.2 1423.6 1060.7 1427.8 1062.2 1416.6 1063.7 1428.9 1065.2 1421.0 1066.7 1421.2 1068.2 1414.8 1069.7 1409.7 1071.2 1408.7 1072.7 1401.0 1074.2 1389.3 1075.7 1401.2 1077.2 1395.5 1078.7 1394.6 1080.2 1395.0 1081.7 1401.5 1083.2 1391.1 1084.7 1397.8 1086.2 1395.0 1087.7 1385.6 1089.2 1389.4 1090.7 1375.6 1092.2 1375.0 1093.7 1378.5 1095.2 1374.8 1096.7 1373.0 1098.2 1382.1 1099.7 1369.8 1101.2 1374.3 1102.7 1373.8 1104.2 1371.7 1105.7 1375.6 1107.2 1372.9 1108.7 1367.0 1110.2 1371.9 1111.7 1369.1 1113.2 1361.8 1114.7 1370.1 1116.2 1380.0 1117.7 1374.3 1119.2 1367.4 1120.7 1363.8 1122.2 1368.6 1123.7 1360.5 1125.2 1367.7 1126.7 1365.2 1128.2 1356.6 1129.7 1360.4 1131.2 1362.6 1132.7 1372.2 1134.2 1366.4 1135.7 1368.4 1137.2 1370.2 1138.7 1365.5 1140.2 1366.5 1141.7 1369.1 1143.2 1370.5 1144.7 1365.9 1146.2 1369.5 1147.7 1369.4 1149.2 1359.6 1150.7 1369.8 1152.2 1366.4 1153.7 1361.7 1155.2 1368.4 1156.7 1362.5 1158.2 1360.5 1159.7 1373.7 1161.2 1368.1 1162.7 1366.5 1164.2 1358.1 1165.7 1365.0 1167.2 1366.1 1168.7 1361.3 1170.2 1363.7 1171.7 1371.7 1173.2 1362.6 1174.7 1365.3 1176.2 1365.2 1177.7 1366.1 1179.2 1361.6 1180.7 1357.4 1182.2 1363.0 1183.7 1369.6 1185.2 1360.9 1186.7 1360.0 1188.2 1352.3 1189.7 1360.8 1191.2 1356.4 1192.7 1359.2 1194.2 1350.1 1195.7 1364.0 1197.2 1349.1 1198.7 1362.9 1200.2 1354.6 1201.7 1350.4 1203.2 1348.6 1204.7 1345.9 1206.2 1355.5 1207.7 1351.0 1209.2 1351.5 1210.7 1347.5 1212.2 1356.9 1213.7 1338.2 1215.2 1351.5 1216.7 1369.6 1218.2 1359.0 1219.7 1358.8 1221.2 1359.5 1222.7 1356.1 1224.2 1356.7 1225.7 1355.7 1227.2 1358.4 1228.7 1359.7 1230.2 1351.7 1231.7 1361.0 1233.2 1350.6 1234.7 1347.3 1236.2 1349.9 1237.7 1347.5 1239.2 1356.0 1240.7 1354.2 1242.2 1351.0 1243.7 1343.9 1245.2 1356.8 1246.7 1362.5 1248.2 1361.1 1249.7 1370.6 1251.2 1367.4 1252.7 1375.5 1254.2 1373.8 1255.7 1374.2 1257.2 1376.4 1258.7 1378.0 1260.2 1392.3 1261.7 1395.7 1263.2 1386.6 1264.7 1397.2 1266.2 1390.8 1267.7 1394.6 1269.2 1398.4 1270.7 1404.5 1272.2 1410.8 1273.7 1408.7 1275.2 1418.9 1276.7 1431.7 1278.2 1430.5 1279.7 1433.9 1281.2 1448.7 1282.7 1444.3 1284.2 1446.2 1285.7 1447.5 1287.2 1453.6 1288.7 1460.4 1290.2 1460.0 1291.7 1466.6 1293.2 1473.8 1294.7 1481.3 1296.2 1475.7 1297.7 1488.3 1299.2 1493.5 1300.7 1494.0 1302.2 1509.5 1303.7 1508.1 1305.2 1515.5 1306.7 1518.1 1308.2 1522.2 1309.7 1526.7 1311.2 1538.4 1312.7 1548.8 1314.2 1543.4 1315.7 1536.1 1317.2 1550.3 1318.7 1553.5 1320.2 1556.1 1321.7 1552.8 1323.2 1562.7 1324.7 1552.6 1326.2 1566.8 1327.7 1564.3 1329.2 1569.3 1330.7 1566.1 1332.2 1567.5 1333.7 1574.8 1335.2 1571.4 1336.7 1560.3 1338.2 1563.6 1339.7 1578.1 1341.2 1576.7 1342.7 1575.0 1344.2 1595.7 1345.7 1597.0 1347.2 1586.1 1348.7 1587.0 1350.2 1590.6 1351.7 1592.2 1353.2 1588.0 1354.7 1590.4 1356.2 1599.6 1357.7 1601.7 1359.2 1604.1 1360.7 1603.7 1362.2 1602.8 1363.7 1594.0 1365.2 1609.7 1366.7 1613.3 1368.2 1605.7 1369.7 1616.4 1371.2 1605.4 1372.7 1609.3 1374.2 1590.1 1375.7 1602.5 1377.2 1611.6 1378.7 1612.5 1380.2 1611.3 1381.7 1619.1 1383.2 1619.8 1384.7 1620.3 1386.2 1619.1 1387.7 1622.4 1389.2 1612.9 1390.7 1624.4 1392.2 1622.3 1393.7 1624.6 1395.2 1630.6 1396.7 1621.3 1398.2 1623.2 1399.7 1622.8 1401.2 1625.6 1402.7 1622.1 1404.2 1628.3 1405.7 1627.4 1407.2 1624.1 1408.7 1632.5 1410.2 1639.2 1411.7 1636.9 1413.2 1637.2 1414.7 1631.1 1416.2 1641.9 1417.7 1637.6 1419.2 1637.5 1420.7 1634.4 1422.2 1630.7 1423.7 1635.3 1425.2 1642.1 1426.7 1648.8 1428.2 1637.1 1429.7 1640.9 1431.2 1636.1 1432.7 1637.3 1434.2 1639.8 1435.7 1632.6 1437.2 1636.8 1438.7 1611.9 1440.2 1641.3 1441.7 1633.9 1443.2 1637.2 1444.7 1637.6 1446.2 1647.4 1447.7 1637.5 1449.2 1637.7 1450.7 1629.2 1452.2 1635.6 1453.7 1640.1 1455.2 1626.9 1456.7 1632.2 1458.2 1633.7 1459.7 1632.5 1461.2 1632.4 1462.7 1629.2 1464.2 1629.8 1465.7 1632.3 1467.2 1629.9 1468.7 1627.1 1470.2 1625.9 1471.7 1622.3 1473.2 1622.7 1474.7 1625.2 1476.2 1629.2 1477.7 1642.4 1479.2 1628.7 1480.7 1631.6 1482.2 1624.0 1483.7 1625.2 1485.2 1620.4 1486.7 1625.5 1488.2 1629.1 1489.7 1621.6 1491.2 1624.5 1492.7 1618.7 1494.2 1621.5 1495.7 1612.7 1497.2 1617.0 1498.7 1619.3 1500.2 1620.1 1501.7 1614.8 1503.2 1614.7 1504.7 1620.1 1506.2 1615.3 1507.7 1621.5 1509.2 1624.1 1510.7 1616.3 1512.2 1624.6 1513.7 1607.4 1515.2 1617.8 1516.7 1616.0 1518.2 1608.6 1519.7 1609.4 1521.2 1610.6 1522.7 1607.6 1524.2 1603.6 1525.7 1607.0 1527.2 1608.0 1528.7 1605.8 1530.2 1609.2 1531.7 1608.1 1533.2 1611.5 1534.7 1601.2 1536.2 1613.0 1537.7 1602.2 1539.2 1606.2 1540.7 1597.5 1542.2 1595.5 1543.7 1604.3 1545.2 1596.3 1546.7 1600.6 1548.2 1597.4 1549.7 1593.6 1551.2 1595.8 1552.7 1592.7 1554.2 1596.9 1555.7 1603.8 1557.2 1589.8 1558.7 1583.0 1560.2 1583.5 1561.7 1595.4 1563.2 1597.7 1564.7 1594.2 1566.2 1597.8 1567.7 1594.2 1569.2 1581.5 1570.7 1596.3 1572.2 1597.8 1573.7 1584.6 1575.2 1583.3 1576.7 1592.2 1578.2 1592.1 1579.7 1592.2 1581.2 1587.6 1582.7 1580.2 1584.2 1594.2 1585.7 1581.8 1587.2 1574.4 1588.7 1576.9 1590.2 1579.0 1591.7 1569.5 1593.2 1573.6 1594.7 1571.8 1596.2 1569.9 1597.7 1568.7 1599.2 1564.8 1600.7 1570.7 1602.2 1569.4 1603.7 1574.0 1605.2 1576.3 1606.7 1575.8 1608.2 1574.6 1609.7 1577.4 1611.2 1569.1 1612.7 1579.0 1614.2 1596.8 1615.7 1576.2 1617.2 1578.8 1618.7 1581.8 1620.2 1575.5 1621.7 1580.2 1623.2 1558.5 1624.7 1577.6 1626.2 1588.8 1627.7 1578.6 1629.2 1584.3 1630.7 1590.1 1632.2 1587.4 1633.7 1594.0 1635.2 1588.2 1636.7 1579.4 1638.2 1617.7 1639.7 1590.6 1641.2 1590.7 1642.7 1588.9 1644.2 1592.4 1645.7 1586.7 1647.2 1599.7 1648.7 1594.9 1650.2 1597.4 1651.7 1598.3 1653.2 1598.5 1654.7 1598.1 1656.2 1595.7 1657.7 1600.7 1659.2 1601.5 1660.7 1601.2 1662.2 1602.5 1663.7 1603.9 1665.2 1602.2 1666.7 1609.1 1668.2 1605.1 1669.7 1612.6 1671.2 1605.6 1672.7 1590.8 1674.2 1606.9 1675.7 1611.4 1677.2 1605.2 1678.7 1611.4 1680.2 1607.1 1681.7 1614.7 1683.2 1618.4 1684.7 1617.3 1686.2 1615.7 1687.7 1626.7 1689.2 1618.7 1690.7 1623.8 1692.2 1642.9 1693.7 1627.6 1695.2 1629.2 1696.7 1629.5 1698.2 1631.4 1699.7 1628.6 1701.2 1631.8 1702.7 1636.8 1704.2 1644.0 1705.7 1637.8 1707.2 1634.2 1708.7 1632.5 1710.2 1639.0 1711.7 1641.3 1713.2 1641.7 1714.7 1641.8 1716.2 1640.6 1717.7 1642.4 1719.2 1641.2 1720.7 1643.6 1722.2 1640.8 1723.7 1642.0 1725.2 1641.6 1726.7 1636.7 1728.2 1641.5 1729.7 1638.0 1731.2 1645.2 1732.7 1661.8 1734.2 1640.9 1735.7 1638.7 1737.2 1646.8 1738.7 1647.8 1740.2 1650.3 1741.7 1635.0 1743.2 1644.9 1744.7 1647.3 1746.2 1635.2 1747.7 1641.5 1749.2 1641.6 1750.7 1639.5 1752.2 1638.8 1753.7 1640.2 1755.2 1640.7 1756.7 1644.7 1758.2 1636.7 1759.7 1644.1 1761.2 1642.3 1762.7 1634.1 1764.2 1634.4 1765.7 1631.6 1767.2 1637.1 1768.7 1636.4 1770.2 1625.9 1771.7 1634.0 1773.2 1629.7 1774.7 1632.4 1776.2 1631.6 1777.7 1621.5 1779.2 1634.1 1780.7 1627.3 1782.2 1624.9 1783.7 1620.6 1785.2 1621.4 1786.7 1615.2 1788.2 1618.4 1789.7 1617.0 1791.2 1610.3 1792.7 1618.4 1794.2 1614.4 1795.7 1621.6 1797.2 1615.1 1798.7 1605.2 1800.2 1606.5 1801.7 1618.5 1803.2 1610.5 1804.7 1611.8 1806.2 1603.7 1807.7 1605.3 1809.2 1612.7 1810.7 1602.8 1812.2 1597.4 1813.7 1589.1 1815.2 1597.6 1816.7 1593.6 1818.2 1592.2 1819.7 1600.4 1821.2 1595.0 1822.7 1592.4 1824.2 1595.2 1825.7 1585.9 1827.2 1586.5 1828.7 1585.0 1830.2 1579.7 1831.7 1581.5 1833.2 1578.1 1834.7 1572.3 1836.2 1568.7 1837.7 1569.2 1839.2 1572.7 1840.7 1569.3 1842.2 1570.3 1843.7 1569.5 1845.2 1569.7 1846.7 1567.3 1848.2 1567.4 1849.7 1567.8 1851.2 1569.0 1852.7 1572.3 1854.2 1570.2 1855.7 1563.3 1857.2 1568.7 1858.7 1569.6 1860.2 1572.2 1861.7 1574.8 1863.2 1571.5 1864.7 1566.3 1866.2 1566.2 1867.7 1568.6 1869.2 1570.7 1870.7 1567.5 1872.2 1571.8 1873.7 1572.4 1875.2 1574.7 1876.7 1581.4 1878.2 1582.3 1879.7 1580.4 1881.2 1580.2 1882.7 1579.7 1884.2 1589.2 1885.7 1593.2 1887.2 1597.8 1888.7 1599.0 1890.2 1603.8 1891.7 1602.5 1893.2 1600.5 1894.7 1613.6 1896.2 1609.8 1897.7 1619.8 1899.2 1620.3 1900.7 1626.9 1902.2 1630.9 1903.7 1636.2 1905.2 1636.6 1906.7 1640.1 1908.2 1646.7 1909.7 1648.8 1911.2 1653.0 1912.7 1645.4 1914.2 1661.1 1915.7 1668.0 1917.2 1665.9 1918.7 1675.3 1920.2 1680.8 1921.7 1684.8 1923.2 1684.4 1924.7 1686.5 1926.2 1688.4 1927.7 1685.3 1929.2 1683.0 1930.7 1691.9 1932.2 1701.4 1933.7 1709.6 1935.2 1704.4 1936.7 1711.7 1938.2 1721.6 1939.7 1702.9 1941.2 1711.0 1942.7 1718.8 1944.2 1717.6 1945.7 1731.9 1947.2 1735.4 1948.7 1727.1 1950.2 1739.2 1951.7 1741.2 1953.2 1752.6 1954.7 1752.5 1956.2 1749.7 1957.7 1748.5 1959.2 1754.7 1960.7 1766.1 1962.2 1760.3 1963.7 1751.5 1965.2 1754.3 1966.7 1763.9 1968.2 1765.6 1969.7 1764.4 1971.2 1764.5 1972.7 1767.4 1974.2 1769.2 1975.7 1766.9 1977.2 1766.9 1978.7 1768.9 1980.2 1770.7 1981.7 1774.9 1983.2 1768.6 1984.7 1773.5 1986.2 1779.8 1987.7 1786.3 1989.2 1781.3 1990.7 1777.0 1992.2 1778.4 1993.7 1783.9 1995.2 1781.9 1996.7 1785.2 1998.2 1795.7 1999.7 1787.1 2001.2 1805.5 2002.7 1790.6 2004.2 1784.1 2005.7 1791.2 2007.2 1792.2 2008.7 1795.0 2010.2 1791.0 2011.7 1786.9 2013.2 1800.3 2014.7 1785.8 2016.2 1780.9 2017.7 1789.7 2019.2 1784.2 2020.7 1782.0 2022.2 1801.6 2023.7 1792.6 2025.2 1798.2 2026.7 1794.7 2028.2 1795.7 2029.7 1796.0 2031.2 1803.4 2032.7 1805.0 2034.2 1790.2 2035.7 1771.2 2037.2 1794.2 2038.7 1791.0 2040.2 1788.6 2041.7 1789.1 2043.2 1791.3 2044.7 1782.5 2046.2 1789.4 2047.7 1792.7 2049.2 1794.6 2050.7 1791.8 2052.2 1803.3 2053.7 1794.0 2055.2 1798.7 2056.7 1808.5 2058.2 1801.6 2059.7 1805.6 2061.2 1815.9 2062.7 1800.3 2064.2 1791.2 2065.7 1802.0 2067.2 1792.4 2068.7 1807.4 2070.2 1805.5 2071.7 1819.9 2073.2 1798.6 2074.7 1816.8 2076.2 1806.2 2077.7 1804.4 2079.2 1808.1 2080.7 1806.8 2082.2 1806.9 2083.7 1805.5 2085.2 1806.6 2086.7 1799.3 2088.2 1804.0 2089.7 1793.8 2091.2 1802.2 2092.7 1802.5 2094.2 1802.1 2095.7 1800.9 2097.2 1803.9 2098.7 1807.5 2100.2 1806.5 2101.7 1810.3 2103.2 1800.9 2104.7 1805.8 2106.2 1806.7 2107.7 1808.9 2109.2 1811.0 2110.7 1801.5 2112.2 1811.4 2113.7 1810.1 2115.2 1807.5 2116.7 1807.2 2118.2 1808.3 2119.7 1810.5 2121.2 1812.3 2122.7 1814.2 2124.2 1812.1 2125.7 1812.6 2127.2 1816.0 2128.7 1812.3 2130.2 1815.4 2131.7 1814.6 2133.2 1816.4 2134.7 1813.9 2136.2 1820.8 2137.7 1816.0 2139.2 1808.3" fill="none" stroke="#006600" stroke-width="11" stroke-linejoin="round" stroke-linecap="round"/>
<path d="M242.6 1450.6 244.1 1450.3 245.6 1451.4 247.1 1454.3 248.6 1452.1 250.1 1445.2 251.6 1451.1 253.1 1465.7 254.6 1447.2 256.1 1455.0 257.6 1448.7 259.1 1449.1 260.6 1443.5 262.1 1447.5 263.6 1455.6 265.1 1465.1 266.6 1451.6 268.1 1451.9 269.6 1447.4 271.1 1459.8 272.6 1450.7 274.1 1459.4 275.6 1452.4 277.1 1449.7 278.6 1455.1 280.1 1459.1 281.6 1459.9 283.1 1449.9 284.6 1454.6 286.1 1458.3 287.6 1453.8 289.1 1459.5 290.6 1456.3 292.1 1453.5 293.6 1460.6 295.1 1463.2 296.6 1481.4 298.1 1463.0 299.6 1460.7 301.1 1461.0 302.6 1468.9 304.1 1465.6 305.6 1469.1 307.1 1472.6 308.6 1473.8 310.1 1474.1 311.6 1473.6 313.1 1478.4 314.6 1477.4 316.1 1475.2 317.6 1478.1 319.1 1477.8 320.6 1476.4 322.1 1485.7 323.6 1477.1 325.1 1486.9 326.6 1483.6 328.1 1486.0 329.6 1499.9 331.1 1494.0 332.6 1491.3 334.1 1487.5 335.6 1490.4 337.1 1490.7 338.6 1487.0 340.1 1488.1 341.6 1499.5 343.1 1494.8 344.6 1490.1 346.1 1495.6 347.6 1491.0 349.1 1490.2 350.6 1490.1 352.1 1482.0 353.6 1493.7 355.1 1501.3 356.6 1499.1 358.1 1494.8 359.6 1501.9 361.1 1494.1 362.6 1495.1 364.1 1501.0 365.6 1496.6 367.1 1501.1 368.6 1494.5 370.1 1496.1 371.6 1500.0 373.1 1495.3 374.6 1502.7 376.1 1506.6 377.6 1506.7 379.1 1501.4 380.6 1507.1 382.1 1513.0 383.6 1512.3 385.1 1509.7 386.6 1504.3 388.1 1506.8 389.6 1504.5 391.1 1508.7 392.6 1501.3 394.1 1507.3 395.6 1501.7 397.1 1505.9 398.6 1503.3 400.1 1496.7 401.6 1507.4 403.1 1491.7 404.6 1498.6 406.1 1494.6 407.6 1496.3 409.1 1469.3 410.6 1487.4 412.1 1491.5 413.6 1490.4 415.1 1493.8 416.6 1495.4 418.1 1487.4 419.6 1499.2 421.1 1489.0 422.6 1491.6 424.1 1485.7 425.6 1473.5 427.1 1482.5 428.6 1485.9 430.1 1490.0 431.6 1489.6 433.1 1488.0 434.6 1489.8 436.1 1484.1 437.6 1491.7 439.1 1488.9 440.6 1488.3 442.1 1484.3 443.6 1489.0 445.1 1477.0 446.6 1479.4 448.1 1480.5 449.6 1481.9 451.1 1465.3 452.6 1479.5 454.1 1469.5 455.6 1468.1 457.1 1473.3 458.6 1471.8 460.1 1463.2 461.6 1465.1 463.1 1458.4 464.6 1454.5 466.1 1458.1 467.6 1446.0 469.1 1467.4 470.6 1459.3 472.1 1443.0 473.6 1463.4 475.1 1458.5 476.6 1452.2 478.1 1458.4 479.6 1451.2 481.1 1453.1 482.6 1453.3 484.1 1452.0 485.6 1450.7 487.1 1454.3 488.6 1437.6 490.1 1453.2 491.6 1442.0 493.1 1442.8 494.6 1448.1 496.1 1441.3 497.6 1451.3 499.1 1434.8 500.6 1450.4 502.1 1438.3 503.6 1430.8 505.1 1439.7 506.6 1432.4 508.1 1436.1 509.6 1438.7 511.1 1450.1 512.6 1456.6 514.1 1443.4 515.6 1448.9 517.1 1446.1 518.6 1447.6 520.1 1454.5 521.6 1452.9 523.1 1454.9 524.6 1458.5 526.1 1476.7 527.6 1473.0 529.1 1473.3 530.6 1475.3 532.1 1476.6 533.6 1484.0 535.1 1468.8 536.6 1482.4 538.1 1484.2 539.6 1489.0 541.1 1480.9 542.6 1497.1 544.1 1489.9 545.6 1492.2 547.1 1493.4 548.6 1495.0 550.1 1505.5 551.6 1497.5 553.1 1496.2 554.6 1497.3 556.1 1501.1 557.6 1501.4 559.1 1501.0 560.6 1495.5 562.1 1506.6 563.6 1503.4 565.1 1509.4 566.6 1514.7 568.1 1511.6 569.6 1509.3 571.1 1514.7 572.6 1515.2 574.1 1517.9 575.6 1516.5 577.1 1522.7 578.6 1524.9 580.1 1519.2 581.6 1522.0 583.1 1541.9 584.6 1531.2 586.1 1521.1 587.6 1532.0 589.1 1535.6 590.6 1542.4 592.1 1537.7 593.6 1539.6 595.1 1545.7 596.6 1542.4 598.1 1543.3 599.6 1543.8 601.1 1546.6 602.6 1549.8 604.1 1550.1 605.6 1539.2 607.1 1551.6 608.6 1542.1 610.1 1546.8 611.6 1551.9 613.1 1549.0 614.6 1557.9 616.1 1555.8 617.6 1557.3 619.1 1561.5 620.6 1563.1 622.1 1564.2 623.6 1572.4 625.1 1565.7 626.6 1562.1 628.1 1571.4 629.6 1572.2 631.1 1566.7 632.6 1563.8 634.1 1571.8 635.6 1576.2 637.1 1571.8 638.6 1575.5 640.1 1564.8 641.6 1577.2 643.1 1576.8 644.6 1569.1 646.1 1577.3 647.6 1578.0 649.1 1583.4 650.6 1575.4 652.1 1570.2 653.6 1571.1 655.1 1567.0 656.6 1575.9 658.1 1581.7 659.6 1570.5 661.1 1571.2 662.6 1575.7 664.1 1573.5 665.6 1572.4 667.1 1571.6 668.6 1568.3 670.1 1571.8 671.6 1575.3 673.1 1578.1 674.6 1575.6 676.1 1569.2 677.6 1566.4 679.1 1576.2 680.6 1570.4 682.1 1585.0 683.6 1585.9 685.1 1575.5 686.6 1582.5 688.1 1562.6 689.6 1580.4 691.1 1573.1 692.6 1579.0 694.1 1574.4 695.6 1578.3 697.1 1579.6 698.6 1580.1 700.1 1583.4 701.6 1593.8 703.1 1582.1 704.6 1586.8 706.1 1580.1 707.6 1591.8 709.1 1590.8 710.6 1588.2 712.1 1590.0 713.6 1584.1 715.1 1584.9 716.6 1589.1 718.1 1589.3 719.6 1580.7 721.1 1591.2 722.6 1579.0 724.1 1584.4 725.6 1583.8 727.1 1584.5 728.6 1584.1 730.1 1576.7 731.6 1580.1 733.1 1588.7 734.6 1583.2 736.1 1581.9 737.6 1582.2 739.1 1586.1 740.6 1589.4 742.1 1588.0 743.6 1587.5 745.1 1587.0 746.6 1584.8 748.1 1576.2 749.6 1591.5 751.1 1579.8 752.6 1586.1 754.1 1574.4 755.6 1583.6 757.1 1584.6 758.6 1578.3 760.1 1581.3 761.6 1584.7 763.1 1583.1 764.6 1586.7 766.1 1586.3 767.6 1573.0 769.1 1578.7 770.6 1584.0 772.1 1581.1 773.6 1581.3 775.1 1578.5 776.6 1582.2 778.1 1584.5 779.6 1584.6 781.1 1594.4 782.6 1584.7 784.1 1584.0 785.6 1568.1 787.1 1580.2 788.6 1573.7 790.1 1580.8 791.6 1574.4 793.1 1581.4 794.6 1572.0 796.1 1589.0 797.6 1566.3 799.1 1585.0 800.6 1582.4 802.1 1578.9 803.6 1586.6 805.1 1577.1 806.6 1574.3 808.1 1580.0 809.6 1580.3 811.1 1564.6 812.6 1577.2 814.1 1576.0 815.6 1573.0 817.1 1569.5 818.6 1577.2 820.1 1573.5 821.6 1571.9 823.1 1569.8 824.6 1571.8 826.1 1578.6 827.6 1575.4 829.1 1557.4 830.6 1575.6 832.1 1577.5 833.6 1569.2 835.1 1579.8 836.6 1575.4 838.1 1585.8 839.6 1575.5 841.1 1572.7 842.6 1577.8 844.1 1575.5 845.6 1575.0 847.1 1567.9 848.6 1574.1 850.1 1571.9 851.6 1569.2 853.1 1563.5 854.6 1568.4 856.1 1567.4 857.6 1560.9 859.1 1575.7 860.6 1571.7 862.1 1574.7 863.6 1573.5 865.1 1577.5 866.6 1576.1 868.1 1582.1 869.6 1574.7 871.1 1576.0 872.6 1573.2 874.1 1583.1 875.6 1579.8 877.1 1574.4 878.6 1579.3 880.1 1575.5 881.6 1583.3 883.1 1576.3 884.6 1573.1 886.1 1584.3 887.6 1575.6 889.1 1580.3 890.6 1570.3 892.1 1581.5 893.6 1569.5 895.1 1580.6 896.6 1580.0 898.1 1584.1 899.6 1581.9 901.1 1582.6 902.6 1583.5 904.1 1588.6 905.6 1589.4 907.1 1581.9 908.6 1585.8 910.1 1587.1 911.6 1591.9 913.1 1588.2 914.6 1589.5 916.1 1597.7 917.6 1589.4 919.1 1596.0 920.6 1596.1 922.1 1594.8 923.6 1611.3 925.1 1597.7 926.6 1596.7 928.1 1609.2 929.6 1597.2 931.1 1605.7 932.6 1595.5 934.1 1596.1 935.6 1600.8 937.1 1594.3 938.6 1605.1 940.1 1599.5 941.6 1603.1 943.1 1601.0 944.6 1604.8 946.1 1603.4 947.6 1611.9 949.1 1603.8 950.6 1609.6 952.1 1599.1 953.6 1605.8 955.1 1606.9 956.6 1603.7 958.1 1606.3 959.6 1606.9 961.1 1613.2 962.6 1610.6 964.1 1594.3 965.6 1610.4 967.1 1610.0 968.6 1610.5 970.1 1612.6 971.6 1606.4 973.1 1620.2 974.6 1625.0 976.1 1614.5 977.6 1612.9 979.1 1617.9 980.6 1599.3 982.1 1610.1 983.6 1616.1 985.1 1610.1 986.6 1610.9 988.1 1620.8 989.6 1613.0 991.1 1615.8 992.6 1616.1 994.1 1622.5 995.6 1632.2 997.1 1609.8 998.6 1623.1 1000.1 1626.3 1001.6 1624.6 1003.1 1626.8 1004.6 1617.4 1006.1 1623.9 1007.6 1625.4 1009.1 1627.5 1010.6 1625.4 1012.1 1625.8 1013.6 1620.8 1015.1 1630.0 1016.6 1622.6 1018.1 1615.6 1019.6 1625.7 1021.1 1623.4 1022.6 1623.9 1024.1 1619.8 1025.6 1613.4 1027.1 1622.3 1028.6 1625.3 1030.1 1619.0 1031.6 1616.3 1033.1 1614.1 1034.6 1620.8 1036.1 1617.6 1037.6 1620.4 1039.1 1617.3 1040.6 1610.0 1042.1 1619.0 1043.6 1608.6 1045.1 1608.4 1046.6 1620.7 1048.1 1609.8 1049.6 1609.6 1051.1 1607.4 1052.6 1607.7 1054.1 1601.0 1055.6 1607.3 1057.1 1610.2 1058.6 1607.7 1060.1 1608.8 1061.6 1613.5 1063.1 1606.2 1064.6 1606.7 1066.1 1592.4 1067.6 1605.9 1069.1 1606.9 1070.6 1604.9 1072.1 1597.9 1073.6 1599.3 1075.1 1602.0 1076.6 1600.4 1078.1 1593.7 1079.6 1591.1 1081.1 1594.7 1082.6 1591.0 1084.1 1593.5 1085.6 1593.9 1087.1 1597.3 1088.6 1592.1 1090.1 1593.4 1091.6 1594.7 1093.1 1588.0 1094.6 1578.6 1096.1 1587.0 1097.6 1582.3 1099.1 1581.9 1100.6 1587.5 1102.1 1568.2 1103.6 1581.3 1105.1 1580.3 1106.6 1586.6 1108.1 1577.8 1109.6 1582.1 1111.1 1576.8 1112.6 1580.9 1114.1 1575.2 1115.6 1577.1 1117.1 1569.5 1118.6 1577.0 1120.1 1574.9 1121.6 1575.4 1123.1 1576.2 1124.6 1573.4 1126.1 1574.9 1127.6 1575.0 1129.1 1558.7 1130.6 1573.4 1132.1 1580.8 1133.6 1574.9 1135.1 1574.6 1136.6 1562.6 1138.1 1573.6 1139.6 1583.7 1141.1 1573.1 1142.6 1573.0 1144.1 1575.2 1145.6 1574.3 1147.1 1572.5 1148.6 1582.0 1150.1 1572.9 1151.6 1581.5 1153.1 1576.5 1154.6 1569.5 1156.1 1571.2 1157.6 1567.2 1159.1 1581.1 1160.6 1573.9 1162.1 1572.2 1163.6 1575.1 1165.1 1573.8 1166.6 1570.9 1168.1 1567.7 1169.6 1575.3 1171.1 1555.9 1172.6 1569.3 1174.1 1564.9 1175.6 1570.8 1177.1 1572.9 1178.6 1567.4 1180.1 1563.2 1181.6 1564.6 1183.1 1566.3 1184.6 1573.2 1186.1 1576.5 1187.6 1563.6 1189.1 1572.1 1190.6 1562.7 1192.1 1560.3 1193.6 1556.7 1195.1 1546.0 1196.6 1564.6 1198.1 1557.3 1199.6 1556.8 1201.1 1556.5 1202.6 1555.1 1204.1 1556.5 1205.6 1555.6 1207.1 1551.4 1208.6 1552.4 1210.1 1557.9 1211.6 1549.5 1213.1 1549.3 1214.6 1549.3 1216.1 1551.2 1217.6 1550.9 1219.1 1549.2 1220.6 1551.4 1222.1 1550.5 1223.6 1551.2 1225.1 1548.9 1226.6 1550.2 1228.1 1547.9 1229.6 1556.8 1231.1 1559.4 1232.6 1558.9 1234.1 1564.1 1235.6 1583.5 1237.1 1566.2 1238.6 1577.7 1240.1 1565.1 1241.6 1574.0 1243.1 1575.4 1244.6 1576.4 1246.1 1582.6 1247.6 1579.8 1249.1 1580.5 1250.6 1585.0 1252.1 1575.5 1253.6 1582.9 1255.1 1588.4 1256.6 1588.5 1258.1 1591.4 1259.6 1599.8 1261.1 1593.9 1262.6 1595.2 1264.1 1597.1 1265.6 1603.0 1267.1 1602.1 1268.6 1595.6 1270.1 1599.3 1271.6 1607.7 1273.1 1615.4 1274.6 1612.0 1276.1 1617.9 1277.6 1619.5 1279.1 1625.7 1280.6 1626.7 1282.1 1620.6 1283.6 1634.5 1285.1 1631.3 1286.6 1631.4 1288.1 1636.8 1289.6 1643.6 1291.1 1638.1 1292.6 1649.9 1294.1 1641.6 1295.6 1656.5 1297.1 1653.0 1298.6 1654.9 1300.1 1662.8 1301.6 1667.7 1303.1 1667.9 1304.6 1669.9 1306.1 1675.5 1307.6 1682.9 1309.1 1679.2 1310.6 1681.3 1312.1 1688.5 1313.6 1693.8 1315.1 1697.5 1316.6 1697.1 1318.1 1697.4 1319.6 1706.4 1321.1 1699.9 1322.6 1697.6 1324.1 1698.5 1325.6 1701.2 1327.1 1705.1 1328.6 1703.0 1330.1 1704.7 1331.6 1721.1 1333.1 1719.7 1334.6 1708.3 1336.1 1710.4 1337.6 1716.6 1339.1 1719.3 1340.6 1714.2 1342.1 1723.3 1343.6 1713.3 1345.1 1721.0 1346.6 1725.9 1348.1 1722.8 1349.6 1720.0 1351.1 1721.3 1352.6 1733.3 1354.1 1723.7 1355.6 1729.1 1357.1 1722.9 1358.6 1728.0 1360.1 1735.1 1361.6 1742.8 1363.1 1734.7 1364.6 1732.2 1366.1 1727.3 1367.6 1736.3 1369.1 1740.6 1370.6 1740.4 1372.1 1739.6 1373.6 1743.2 1375.1 1739.4 1376.6 1734.1 1378.1 1741.7 1379.6 1744.4 1381.1 1745.1 1382.6 1751.9 1384.1 1751.6 1385.6 1748.1 1387.1 1752.4 1388.6 1756.7 1390.1 1749.8 1391.6 1750.6 1393.1 1757.0 1394.6 1757.0 1396.1 1754.8 1397.6 1753.0 1399.1 1746.0 1400.6 1748.6 1402.1 1750.7 1403.6 1750.2 1405.1 1749.4 1406.6 1748.3 1408.1 1752.1 1409.6 1749.1 1411.1 1748.0 1412.6 1745.7 1414.1 1751.9 1415.6 1747.6 1417.1 1749.7 1418.6 1758.8 1420.1 1752.7 1421.6 1743.6 1423.1 1749.9 1424.6 1751.0 1426.1 1758.2 1427.6 1751.0 1429.1 1754.7 1430.6 1753.9 1432.1 1771.8 1433.6 1750.8 1435.1 1766.3 1436.6 1759.6 1438.1 1764.9 1439.6 1771.1 1441.1 1750.4 1442.6 1759.6 1444.1 1758.2 1445.6 1756.4 1447.1 1750.5 1448.6 1753.7 1450.1 1746.1 1451.6 1751.4 1453.1 1754.9 1454.6 1752.9 1456.1 1751.4 1457.6 1747.6 1459.1 1749.2 1460.6 1752.6 1462.1 1753.4 1463.6 1753.8 1465.1 1740.9 1466.6 1751.6 1468.1 1750.9 1469.6 1748.2 1471.1 1751.0 1472.6 1747.4 1474.1 1742.1 1475.6 1737.6 1477.1 1750.2 1478.6 1734.0 1480.1 1735.7 1481.6 1739.7 1483.1 1738.4 1484.6 1746.0 1486.1 1739.1 1487.6 1745.8 1489.1 1742.6 1490.6 1744.3 1492.1 1740.0 1493.6 1741.2 1495.1 1761.3 1496.6 1736.0 1498.1 1746.7 1499.6 1734.0 1501.1 1733.9 1502.6 1742.9 1504.1 1738.3 1505.6 1729.5 1507.1 1731.1 1508.6 1732.4 1510.1 1726.2 1511.6 1737.9 1513.1 1732.8 1514.6 1721.1 1516.1 1726.5 1517.6 1730.3 1519.1 1733.2 1520.6 1720.5 1522.1 1725.1 1523.6 1723.5 1525.1 1725.5 1526.6 1727.0 1528.1 1726.8 1529.6 1725.6 1531.1 1712.2 1532.6 1724.4 1534.1 1723.1 1535.6 1732.4 1537.1 1727.4 1538.6 1720.1 1540.1 1716.4 1541.6 1718.8 1543.1 1727.0 1544.6 1719.9 1546.1 1711.7 1547.6 1718.9 1549.1 1711.2 1550.6 1712.9 1552.1 1721.6 1553.6 1719.6 1555.1 1715.6 1556.6 1720.4 1558.1 1712.2 1559.6 1715.4 1561.1 1717.5 1562.6 1717.2 1564.1 1708.1 1565.6 1712.3 1567.1 1713.1 1568.6 1706.3 1570.1 1707.9 1571.6 1708.7 1573.1 1713.9 1574.6 1709.8 1576.1 1703.9 1577.6 1700.5 1579.1 1706.6 1580.6 1701.9 1582.1 1697.3 1583.6 1703.4 1585.1 1707.6 1586.6 1695.9 1588.1 1711.2 1589.6 1696.3 1591.1 1700.5 1592.6 1698.3 1594.1 1713.4 1595.6 1706.2 1597.1 1706.1 1598.6 1702.9 1600.1 1713.6 1601.6 1712.3 1603.1 1708.2 1604.6 1717.9 1606.1 1712.0 1607.6 1713.7 1609.1 1719.0 1610.6 1705.9 1612.1 1707.9 1613.6 1709.6 1615.1 1705.7 1616.6 1711.6 1618.1 1708.4 1619.6 1720.4 1621.1 1698.7 1622.6 1710.7 1624.1 1709.2 1625.6 1712.7 1627.1 1714.1 1628.6 1713.8 1630.1 1714.0 1631.6 1716.5 1633.1 1716.4 1634.6 1720.1 1636.1 1716.8 1637.6 1720.5 1639.1 1719.5 1640.6 1727.8 1642.1 1723.7 1643.6 1722.5 1645.1 1726.0 1646.6 1730.1 1648.1 1729.0 1649.6 1722.5 1651.1 1726.6 1652.6 1734.5 1654.1 1727.1 1655.6 1736.3 1657.1 1726.3 1658.6 1731.3 1660.1 1730.0 1661.6 1735.4 1663.1 1733.4 1664.6 1736.6 1666.1 1730.2 1667.6 1737.2 1669.1 1737.3 1670.6 1733.6 1672.1 1726.6 1673.6 1735.6 1675.1 1737.0 1676.6 1741.8 1678.1 1735.7 1679.6 1754.6 1681.1 1739.7 1682.6 1737.8 1684.1 1740.5 1685.6 1742.8 1687.1 1743.4 1688.6 1747.5 1690.1 1740.1 1691.6 1739.2 1693.1 1746.6 1694.6 1747.9 1696.1 1753.5 1697.6 1750.0 1699.1 1750.3 1700.6 1754.4 1702.1 1753.8 1703.6 1746.2 1705.1 1752.8 1706.6 1755.3 1708.1 1753.7 1709.6 1753.6 1711.1 1757.5 1712.6 1763.2 1714.1 1764.5 1715.6 1772.2 1717.1 1765.9 1718.6 1756.3 1720.1 1760.6 1721.6 1767.9 1723.1 1765.5 1724.6 1763.5 1726.1 1775.2 1727.6 1765.2 1729.1 1761.9 1730.6 1764.8 1732.1 1769.1 1733.6 1762.1 1735.1 1765.8 1736.6 1764.8 1738.1 1759.1 1739.6 1766.1 1741.1 1767.5 1742.6 1769.9 1744.1 1779.3 1745.6 1770.9 1747.1 1761.0 1748.6 1768.9 1750.1 1782.9 1751.6 1770.8 1753.1 1766.8 1754.6 1767.5 1756.1 1762.8 1757.6 1765.6 1759.1 1761.7 1760.6 1767.1 1762.1 1758.5 1763.6 1766.3 1765.1 1769.9 1766.6 1765.6 1768.1 1758.0 1769.6 1775.5 1771.1 1772.5 1772.6 1760.9 1774.1 1762.7 1775.6 1765.4 1777.1 1756.3 1778.6 1755.2 1780.1 1751.7 1781.6 1744.4 1783.1 1743.8 1784.6 1745.0 1786.1 1742.3 1787.6 1734.8 1789.1 1736.8 1790.6 1749.7 1792.1 1740.7 1793.6 1744.5 1795.1 1738.8 1796.6 1740.4 1798.1 1739.3 1799.6 1736.6 1801.1 1733.2 1802.6 1753.1 1804.1 1735.1 1805.6 1733.3 1807.1 1736.2 1808.6 1739.9 1810.1 1727.9 1811.6 1728.1 1813.1 1726.9 1814.6 1726.6 1816.1 1730.3 1817.6 1723.4 1819.1 1726.4 1820.6 1723.5 1822.1 1716.6 1823.6 1721.3 1825.1 1721.2 1826.6 1720.0 1828.1 1733.7 1829.6 1714.6 1831.1 1719.0 1832.6 1718.6 1834.1 1719.4 1835.6 1719.1 1837.1 1714.8 1838.6 1714.8 1840.1 1713.3 1841.6 1711.9 1843.1 1712.9 1844.6 1709.0 1846.1 1715.9 1847.6 1713.0 1849.1 1709.2 1850.6 1710.6 1852.1 1717.3 1853.6 1709.5 1855.1 1707.9 1856.6 1716.5 1858.1 1716.1 1859.6 1708.8 1861.1 1685.2 1862.6 1710.3 1864.1 1710.3 1865.6 1723.6 1867.1 1721.4 1868.6 1704.6 1870.1 1719.8 1871.6 1710.8 1873.1 1718.9 1874.6 1714.3 1876.1 1720.4 1877.6 1722.5 1879.1 1728.1 1880.6 1730.2 1882.1 1725.7 1883.6 1736.7 1885.1 1733.0 1886.6 1736.5 1888.1 1739.3 1889.6 1733.0 1891.1 1758.1 1892.6 1748.6 1894.1 1751.5 1895.6 1753.9 1897.1 1755.5 1898.6 1757.1 1900.1 1766.3 1901.6 1756.6 1903.1 1763.0 1904.6 1772.9 1906.1 1764.0 1907.6 1768.5 1909.1 1755.8 1910.6 1775.2 1912.1 1776.4 1913.6 1781.3 1915.1 1785.3 1916.6 1785.6 1918.1 1787.1 1919.6 1795.8 1921.1 1796.1 1922.6 1786.0 1924.1 1803.3 1925.6 1798.4 1927.1 1806.4 1928.6 1803.4 1930.1 1807.6 1931.6 1807.7 1933.1 1811.2 1934.6 1816.8 1936.1 1818.5 1937.6 1815.0 1939.1 1821.1 1940.6 1825.4 1942.1 1825.3 1943.6 1828.7 1945.1 1825.3 1946.6 1834.8 1948.1 1837.7 1949.6 1830.8 1951.1 1839.2 1952.6 1847.1 1954.1 1846.6 1955.6 1845.3 1957.1 1841.8 1958.6 1845.3 1960.1 1845.0 1961.6 1856.2 1963.1 1850.8 1964.6 1850.5 1966.1 1848.8 1967.6 1850.1 1969.1 1854.4 1970.6 1857.2 1972.1 1846.3 1973.6 1856.6 1975.1 1858.7 1976.6 1858.1 1978.1 1859.0 1979.6 1870.0 1981.1 1867.7 1982.6 1863.1 1984.1 1875.3 1985.6 1865.2 1987.1 1868.2 1988.6 1866.2 1990.1 1865.4 1991.6 1873.5 1993.1 1871.0 1994.6 1872.7 1996.1 1870.6 1997.6 1867.5 1999.1 1873.7 2000.6 1867.5 2002.1 1879.6 2003.6 1864.7 2005.1 1868.2 2006.6 1870.2 2008.1 1867.0 2009.6 1869.6 2011.1 1860.6 2012.6 1870.6 2014.1 1867.0 2015.6 1872.9 2017.1 1883.4 2018.6 1871.8 2020.1 1878.4 2021.6 1878.3 2023.1 1875.7 2024.6 1876.2 2026.1 1875.8 2027.6 1883.0 2029.1 1865.3 2030.6 1888.7 2032.1 1878.5 2033.6 1878.2 2035.1 1881.3 2036.6 1881.5 2038.1 1882.6 2039.6 1884.9 2041.1 1885.2 2042.6 1879.8 2044.1 1882.8 2045.6 1878.4 2047.1 1884.4 2048.6 1884.1 2050.1 1888.5 2051.6 1880.7 2053.1 1877.3 2054.6 1871.8 2056.1 1879.7 2057.6 1877.4 2059.1 1900.7 2060.6 1883.5 2062.1 1878.3 2063.6 1880.1 2065.1 1884.5 2066.6 1878.1 2068.1 1867.8 2069.6 1881.2 2071.1 1887.6 2072.6 1887.4 2074.1 1875.5 2075.6 1884.3 2077.1 1882.2 2078.6 1883.9 2080.1 1886.2 2081.6 1884.9 2083.1 1887.7 2084.6 1890.1 2086.1 1898.5 2087.6 1886.6 2089.1 1892.5 2090.6 1890.6 2092.1 1884.9 2093.6 1886.6 2095.1 1888.7 2096.6 1884.5 2098.1 1880.5 2099.6 1897.1 2101.1 1883.0 2102.6 1884.1 2104.1 1887.3 2105.6 1876.9 2107.1 1891.6 2108.6 1888.9 2110.1 1883.3 2111.6 1888.5 2113.1 1895.0 2114.6 1864.7 2116.1 1884.2 2117.6 1895.4 2119.1 1887.5 2120.6 1889.8 2122.1 1884.1 2123.6 1886.0 2125.1 1884.6 2126.6 1888.3 2128.1 1871.8 2129.6 1873.2 2131.1 1880.8 2132.6 1881.9 2134.1 1884.7 2135.6 1881.5 2137.1 1882.4 2138.6 1891.5 2140.1 1879.5 2141.6 1882.5 2143.1 1881.5 2144.6 1886.0" fill="none" stroke="#001966" stroke-width="11" stroke-linejoin="round" stroke-linecap="round"/>
<line x1="504.4" y1="87" x2="504.4" y2="1907" stroke="#000" stroke-width="2.2" stroke-dasharray="9.5 1.3"/>
<line x1="875.2" y1="220" x2="875.2" y2="1907" stroke="#000" stroke-width="2.2" stroke-dasharray="9.5 1.3"/>
<line x1="1008" y1="266" x2="1008" y2="1907" stroke="#000" stroke-width="2.2" stroke-dasharray="9.5 1.3"/>
<line x1="1131.6" y1="201.5" x2="1131.6" y2="1907" stroke="#000" stroke-width="2.2" stroke-dasharray="9.5 1.3"/>
<line x1="1219" y1="201.5" x2="1219" y2="1907" stroke="#000" stroke-width="2.2" stroke-dasharray="9.5 1.3"/>
<line x1="1242" y1="201.5" x2="1242" y2="1907" stroke="#000" stroke-width="2.2" stroke-dasharray="9.5 1.3"/>
<line x1="1612" y1="405" x2="1612" y2="1907" stroke="#000" stroke-width="2.2" stroke-dasharray="9.5 1.3"/>
<line x1="1739" y1="405" x2="1739" y2="1907" stroke="#000" stroke-width="2.2" stroke-dasharray="9.5 1.3"/>
<line x1="1872.5" y1="350" x2="1872.5" y2="1907" stroke="#000" stroke-width="2.2" stroke-dasharray="9.5 1.3"/>
<line x1="1944" y1="405" x2="1944" y2="1907" stroke="#000" stroke-width="2.2" stroke-dasharray="9.5 1.3"/>
<line x1="180" y1="32" x2="180" y2="1909" stroke="#000" stroke-width="2.2"/>
<line x1="179" y1="1908" x2="2162" y2="1908" stroke="#000" stroke-width="2.2"/>
<line x1="2161.0" y1="1908" x2="2161.0" y2="1928" stroke="#000" stroke-width="2.2"/>
<text transform="translate(2161.0,2002) scale(1,1.045)" class="b tk">875</text>
<line x1="2121.4" y1="1908" x2="2121.4" y2="1924" stroke="#000" stroke-width="2.2"/>
<line x1="2081.8" y1="1908" x2="2081.8" y2="1924" stroke="#000" stroke-width="2.2"/>
<line x1="2042.1" y1="1908" x2="2042.1" y2="1924" stroke="#000" stroke-width="2.2"/>
<line x1="2002.5" y1="1908" x2="2002.5" y2="1924" stroke="#000" stroke-width="2.2"/>
<line x1="1962.9" y1="1908" x2="1962.9" y2="1928" stroke="#000" stroke-width="2.2"/>
<text transform="translate(1962.9,2002) scale(1,1.045)" class="b tk">880</text>
<line x1="1923.3" y1="1908" x2="1923.3" y2="1924" stroke="#000" stroke-width="2.2"/>
<line x1="1883.7" y1="1908" x2="1883.7" y2="1924" stroke="#000" stroke-width="2.2"/>
<line x1="1844.0" y1="1908" x2="1844.0" y2="1924" stroke="#000" stroke-width="2.2"/>
<line x1="1804.4" y1="1908" x2="1804.4" y2="1924" stroke="#000" stroke-width="2.2"/>
<line x1="1764.8" y1="1908" x2="1764.8" y2="1928" stroke="#000" stroke-width="2.2"/>
<text transform="translate(1764.8,2002) scale(1,1.045)" class="b tk">885</text>
<line x1="1725.2" y1="1908" x2="1725.2" y2="1924" stroke="#000" stroke-width="2.2"/>
<line x1="1685.6" y1="1908" x2="1685.6" y2="1924" stroke="#000" stroke-width="2.2"/>
<line x1="1645.9" y1="1908" x2="1645.9" y2="1924" stroke="#000" stroke-width="2.2"/>
<line x1="1606.3" y1="1908" x2="1606.3" y2="1924" stroke="#000" stroke-width="2.2"/>
<line x1="1566.7" y1="1908" x2="1566.7" y2="1928" stroke="#000" stroke-width="2.2"/>
<text transform="translate(1566.7,2002) scale(1,1.045)" class="b tk">890</text>
<line x1="1527.1" y1="1908" x2="1527.1" y2="1924" stroke="#000" stroke-width="2.2"/>
<line x1="1487.5" y1="1908" x2="1487.5" y2="1924" stroke="#000" stroke-width="2.2"/>
<line x1="1447.8" y1="1908" x2="1447.8" y2="1924" stroke="#000" stroke-width="2.2"/>
<line x1="1408.2" y1="1908" x2="1408.2" y2="1924" stroke="#000" stroke-width="2.2"/>
<line x1="1368.6" y1="1908" x2="1368.6" y2="1928" stroke="#000" stroke-width="2.2"/>
<text transform="translate(1368.6,2002) scale(1,1.045)" class="b tk">895</text>
<line x1="1329.0" y1="1908" x2="1329.0" y2="1924" stroke="#000" stroke-width="2.2"/>
<line x1="1289.4" y1="1908" x2="1289.4" y2="1924" stroke="#000" stroke-width="2.2"/>
<line x1="1249.7" y1="1908" x2="1249.7" y2="1924" stroke="#000" stroke-width="2.2"/>
<line x1="1210.1" y1="1908" x2="1210.1" y2="1924" stroke="#000" stroke-width="2.2"/>
<line x1="1170.5" y1="1908" x2="1170.5" y2="1928" stroke="#000" stroke-width="2.2"/>
<text transform="translate(1170.5,2002) scale(1,1.045)" class="b tk">900</text>
<line x1="1130.9" y1="1908" x2="1130.9" y2="1924" stroke="#000" stroke-width="2.2"/>
<line x1="1091.3" y1="1908" x2="1091.3" y2="1924" stroke="#000" stroke-width="2.2"/>
<line x1="1051.6" y1="1908" x2="1051.6" y2="1924" stroke="#000" stroke-width="2.2"/>
<line x1="1012.0" y1="1908" x2="1012.0" y2="1924" stroke="#000" stroke-width="2.2"/>
<line x1="972.4" y1="1908" x2="972.4" y2="1928" stroke="#000" stroke-width="2.2"/>
<text transform="translate(972.4,2002) scale(1,1.045)" class="b tk">905</text>
<line x1="932.8" y1="1908" x2="932.8" y2="1924" stroke="#000" stroke-width="2.2"/>
<line x1="893.2" y1="1908" x2="893.2" y2="1924" stroke="#000" stroke-width="2.2"/>
<line x1="853.5" y1="1908" x2="853.5" y2="1924" stroke="#000" stroke-width="2.2"/>
<line x1="813.9" y1="1908" x2="813.9" y2="1924" stroke="#000" stroke-width="2.2"/>
<line x1="774.3" y1="1908" x2="774.3" y2="1928" stroke="#000" stroke-width="2.2"/>
<text transform="translate(774.3,2002) scale(1,1.045)" class="b tk">910</text>
<line x1="734.7" y1="1908" x2="734.7" y2="1924" stroke="#000" stroke-width="2.2"/>
<line x1="695.1" y1="1908" x2="695.1" y2="1924" stroke="#000" stroke-width="2.2"/>
<line x1="655.4" y1="1908" x2="655.4" y2="1924" stroke="#000" stroke-width="2.2"/>
<line x1="615.8" y1="1908" x2="615.8" y2="1924" stroke="#000" stroke-width="2.2"/>
<line x1="576.2" y1="1908" x2="576.2" y2="1928" stroke="#000" stroke-width="2.2"/>
<text transform="translate(576.2,2002) scale(1,1.045)" class="b tk">915</text>
<line x1="536.6" y1="1908" x2="536.6" y2="1924" stroke="#000" stroke-width="2.2"/>
<line x1="497.0" y1="1908" x2="497.0" y2="1924" stroke="#000" stroke-width="2.2"/>
<line x1="457.3" y1="1908" x2="457.3" y2="1924" stroke="#000" stroke-width="2.2"/>
<line x1="417.7" y1="1908" x2="417.7" y2="1924" stroke="#000" stroke-width="2.2"/>
<line x1="378.1" y1="1908" x2="378.1" y2="1928" stroke="#000" stroke-width="2.2"/>
<text transform="translate(378.1,2002) scale(1,1.045)" class="b tk">920</text>
<line x1="338.5" y1="1908" x2="338.5" y2="1924" stroke="#000" stroke-width="2.2"/>
<line x1="298.9" y1="1908" x2="298.9" y2="1924" stroke="#000" stroke-width="2.2"/>
<line x1="259.2" y1="1908" x2="259.2" y2="1924" stroke="#000" stroke-width="2.2"/>
<line x1="219.6" y1="1908" x2="219.6" y2="1924" stroke="#000" stroke-width="2.2"/>
<line x1="180.0" y1="1908" x2="180.0" y2="1928" stroke="#000" stroke-width="2.2"/>
<text transform="translate(180.0,2002) scale(1,1.045)" class="b tk">925</text>
<text transform="translate(236.0,83) scale(1,1.045)" class="b lb">(H)</text>
<text transform="translate(232.9,346.5) scale(1,1.045)" class="b lb">(G)</text>
<text transform="translate(240.0,509.7) scale(1,1.045)" class="b lb">(F)</text>
<text transform="translate(237.6,656) scale(1,1.045)" class="b lb">(E)</text>
<text transform="translate(238.3,952.2) scale(1,1.045)" class="b lb">(D)</text>
<text transform="translate(241.0,1099) scale(1,1.045)" class="b lb">(C)</text>
<text transform="translate(244.4,1234) scale(1,1.045)" class="b lb">(B)</text>
<text transform="translate(237.0,1420.3) scale(1,1.045)" class="b lb">(A)</text>
<text transform="translate(487.4,69) scale(1,1.04)" class="r">U<tspan x="40.7">'</tspan><tspan x="51.7">'</tspan><tspan x="60.7">'</tspan></text>
<text transform="translate(860.4,178) scale(1,1.04)" class="r">U<tspan x="41.6">'</tspan><tspan x="52.6">'</tspan></text>
<text transform="translate(989.4,220) scale(1,1.04)" class="r">U<tspan x="43.1">'</tspan></text>
<text transform="translate(1110.4,175.7) scale(1,1.04)" class="r">U</text>
<text transform="translate(1169.1,175.7) scale(1,1.04)" class="r">U</text>
<text transform="translate(1249.2,174.7) scale(1,1.04)" class="r">V<tspan x="36.0">'</tspan><tspan x="47.0">'</tspan><tspan x="55.8">'</tspan></text>
<text transform="translate(1598.0,352.7) scale(1,1.04)" class="r">V<tspan x="34.8">'</tspan><tspan x="45.3">'</tspan></text>
<text transform="translate(1723.5,356.5) scale(1,1.04)" class="r">V<tspan x="37.1">'</tspan></text>
<text transform="translate(1856.7,292) scale(1,1.04)" class="r">V</text>
<text transform="translate(1932.1,356.5) scale(1,1.04)" class="r">V</text>
<text transform="translate(1211.6,153.5) scale(1,1.04)" class="r" style="font-size:37.0px">0</text>
<text transform="translate(1968.9,336.3) scale(1,1.04)" class="r" style="font-size:37.0px">0</text>
<text transform="translate(760.8,2118) scale(1,1.03)" class="b ttl" style="letter-spacing:1.2px">Binding energy (eV)</text>
<text transform="translate(78,1266.4) rotate(-90) scale(1,1.03)" class="b ttl" style="letter-spacing:0.6px">Counts per second (a. u.)</text>
</svg>
</body></html>
